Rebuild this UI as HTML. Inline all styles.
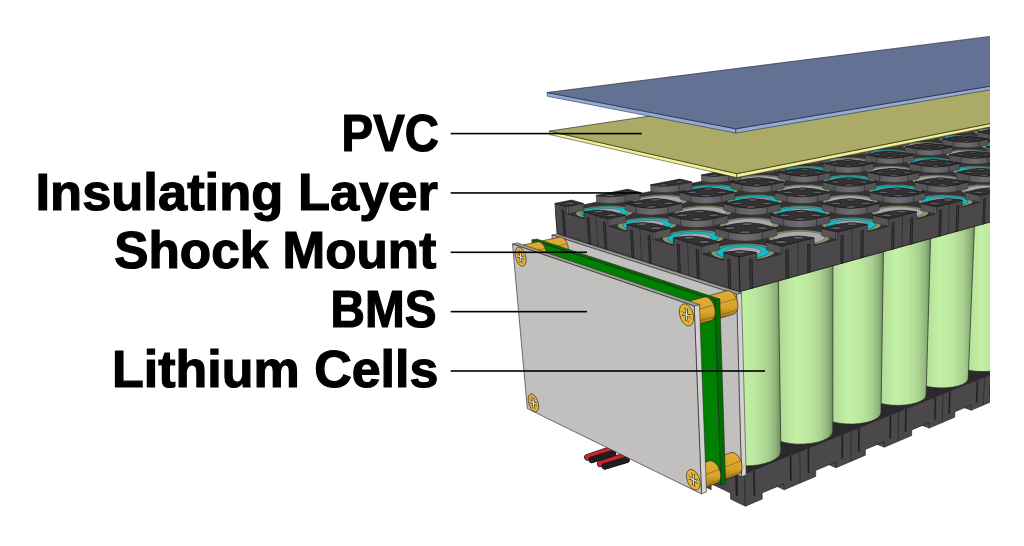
<!DOCTYPE html>
<html lang="en"><head><meta charset="utf-8"><title>Battery pack layers</title>
<style>
html,body{margin:0;padding:0;background:#fff}
#c{position:relative;width:1024px;height:546px;overflow:hidden;background:#fff}
svg{position:absolute;left:0;top:0}
.t{position:absolute;height:60px;line-height:60px;white-space:nowrap;font-family:"Liberation Sans","Noto Sans CJK JP",sans-serif;font-weight:bold;font-size:51.5px;color:#000;-webkit-text-stroke:1.2px #000;transform-origin:100% 50%}
</style></head><body>
<div id="c">
<svg width="1024" height="546" viewBox="0 0 1024 546">
<defs><linearGradient id="cg" x1="0" x2="1" y1="0" y2="0"><stop offset="0" stop-color="#94bb7e"/><stop offset="0.25" stop-color="#b4de9a"/><stop offset="0.45" stop-color="#c3f0a4"/><stop offset="0.65" stop-color="#bbe79f"/><stop offset="0.82" stop-color="#a9d190"/><stop offset="0.93" stop-color="#8db278"/><stop offset="1" stop-color="#6e8c5d"/></linearGradient><linearGradient id="pw" x1="0" x2="1" y1="0" y2="0"><stop offset="0" stop-color="#5c5a5d"/><stop offset="0.5" stop-color="#6f6d70"/><stop offset="1" stop-color="#5c5a5d"/></linearGradient><linearGradient id="br" x1="0" x2="0" y1="0" y2="1"><stop offset="0" stop-color="#e0ad33"/><stop offset="0.55" stop-color="#d8a42c"/><stop offset="0.8" stop-color="#b8871d"/><stop offset="1" stop-color="#8f6913"/></linearGradient><clipPath id="cp"><rect x="0" y="0" width="990" height="546"/></clipPath></defs>
<g clip-path="url(#cp)">
<path d="M744.6,474.2 1213.4,285.2 1043.7,246.3 569.6,394.1Z" fill="#2b292c"/>
<path d="M744.6,474.2 569.6,394.1 571.7,422.5 583.1,428 582.7,422.4 598.3,429.9 598.7,435.5 610.6,441.2 622.8,447.1 622.5,441.4 639.2,449.4 639.6,455.2 652.4,461.4 665.4,467.7 665.1,461.8 683.1,470.3 683.4,476.3 697.2,483 711.2,489.7 711,483.7 730.4,492.9 730.6,499.1 745.4,506.2Z" fill="#4a484b" stroke="#1c1b1d" stroke-width="0.6" stroke-linejoin="round"/>
<path d="M736.2,471.1 736.9,495.7" fill="none" stroke="#1f1e20" stroke-width="2.2"/>
<path d="M703.8,456.2 704.8,480.3" fill="none" stroke="#1f1e20" stroke-width="2.2"/>
<path d="M688.1,449 689.2,472.9" fill="none" stroke="#1f1e20" stroke-width="2.2"/>
<path d="M658.1,435.3 659.3,458.7" fill="none" stroke="#1f1e20" stroke-width="2.2"/>
<path d="M643.5,428.6 644.8,451.7" fill="none" stroke="#1f1e20" stroke-width="2.2"/>
<path d="M615.6,415.8 617,438.5" fill="none" stroke="#1f1e20" stroke-width="2.2"/>
<path d="M602,409.6 603.5,432" fill="none" stroke="#1f1e20" stroke-width="2.2"/>
<path d="M576,397.6 577.6,419.7" fill="none" stroke="#1f1e20" stroke-width="2.2"/>
<path d="M1175.2,323.5 1175.7,318.8 1164.9,316.1 1164.5,320.7Z" fill="#4b494c" stroke="#1c1b1d" stroke-width="0.5" stroke-linejoin="round"/>
<path d="M1146,335.9 1146.4,331.1 1135.6,328.2 1135.2,333Z" fill="#4b494c" stroke="#1c1b1d" stroke-width="0.5" stroke-linejoin="round"/>
<path d="M1115.1,349 1115.5,344.1 1104.5,341.1 1104.1,345.9Z" fill="#4b494c" stroke="#1c1b1d" stroke-width="0.5" stroke-linejoin="round"/>
<path d="M1082.3,362.9 1082.7,358 1071.6,354.7 1071.3,359.7Z" fill="#4b494c" stroke="#1c1b1d" stroke-width="0.5" stroke-linejoin="round"/>
<path d="M1047.6,377.7 1047.9,372.6 1036.8,369.2 1036.4,374.3Z" fill="#4b494c" stroke="#1c1b1d" stroke-width="0.5" stroke-linejoin="round"/>
<path d="M1010.6,393.4 1010.9,388.2 999.7,384.5 999.4,389.8Z" fill="#4b494c" stroke="#1c1b1d" stroke-width="0.5" stroke-linejoin="round"/>
<path d="M971.3,410.2 971.5,404.8 960.2,400.9 960,406.3Z" fill="#4b494c" stroke="#1c1b1d" stroke-width="0.5" stroke-linejoin="round"/>
<path d="M929.2,428.1 929.4,422.5 918,418.3 917.9,423.9Z" fill="#4b494c" stroke="#1c1b1d" stroke-width="0.5" stroke-linejoin="round"/>
<path d="M884.3,447.2 884.3,441.5 872.9,437 872.9,442.7Z" fill="#4b494c" stroke="#1c1b1d" stroke-width="0.5" stroke-linejoin="round"/>
<path d="M836,467.7 836,461.8 824.6,457 824.6,462.9Z" fill="#4b494c" stroke="#1c1b1d" stroke-width="0.5" stroke-linejoin="round"/>
<path d="M784.2,489.8 784.1,483.7 772.7,478.5 772.8,484.6Z" fill="#4b494c" stroke="#1c1b1d" stroke-width="0.5" stroke-linejoin="round"/>
<path d="M744.6,474.2 1213.4,285.2 1210.9,308.3 1202.9,311.7 1203.4,307.2 1192.4,311.8 1192,316.3 1183.6,319.9 1183.6,319.9 1175.2,323.5 1175.7,318.8 1164.1,323.7 1163.7,328.4 1154.9,332.1 1154.9,332.1 1146,335.9 1146.4,331.1 1134.2,336.3 1133.8,341.1 1124.5,345 1124.5,345 1115.1,349 1115.5,344.1 1102.6,349.6 1102.2,354.5 1092.4,358.7 1092.4,358.7 1082.3,362.9 1082.7,358 1069,363.7 1068.7,368.8 1058.2,373.2 1058.2,373.2 1047.6,377.7 1047.9,372.6 1033.4,378.7 1033,383.9 1021.9,388.6 1021.9,388.6 1010.6,393.4 1010.9,388.2 995.4,394.7 995.1,400 983.3,405.1 983.3,405.1 971.3,410.2 971.5,404.8 954.9,411.7 954.7,417.2 942.1,422.6 942.1,422.6 929.2,428.1 929.4,422.5 911.7,429.9 911.6,435.6 898.1,441.3 898.1,441.3 884.3,447.2 884.3,441.5 865.4,449.4 865.3,455.2 850.8,461.4 850.8,461.4 836,467.7 836,461.8 815.7,470.4 815.7,476.4 800.1,483 800.1,483 784.2,489.8 784.1,483.7 762.1,492.9 762.2,499.1 745.4,506.2Z" fill="#4a484b" stroke="#1c1b1d" stroke-width="0.6" stroke-linejoin="round"/>
<path d="M754.2,471.1 754.7,495.7" fill="none" stroke="#1f1e20" stroke-width="2.2"/>
<path d="M755.2,471.4 755.7,495.3" fill="none" stroke="#5a585b" stroke-width="0.6"/>
<path d="M790.9,456.2 791.1,480.4" fill="none" stroke="#1f1e20" stroke-width="2.2"/>
<path d="M791.8,456.5 792.1,480" fill="none" stroke="#5a585b" stroke-width="0.6"/>
<path d="M808.7,449.1 808.8,472.9" fill="none" stroke="#1f1e20" stroke-width="2.2"/>
<path d="M809.6,449.4 809.7,472.5" fill="none" stroke="#5a585b" stroke-width="0.6"/>
<path d="M842.7,435.3 842.6,458.7" fill="none" stroke="#1f1e20" stroke-width="2.2"/>
<path d="M843.6,435.6 843.5,458.3" fill="none" stroke="#5a585b" stroke-width="0.6"/>
<path d="M799.8,452 800.1,483" fill="none" stroke="#262527" stroke-width="0.7"/>
<path d="M859.2,428.6 859,451.8" fill="none" stroke="#1f1e20" stroke-width="2.2"/>
<path d="M860.1,429 859.9,451.4" fill="none" stroke="#5a585b" stroke-width="0.6"/>
<path d="M890.9,415.9 890.5,438.6" fill="none" stroke="#1f1e20" stroke-width="2.2"/>
<path d="M891.7,416.2 891.3,438.2" fill="none" stroke="#5a585b" stroke-width="0.6"/>
<path d="M851,431.3 850.8,461.4" fill="none" stroke="#262527" stroke-width="0.7"/>
<path d="M906.3,409.6 905.8,432.1" fill="none" stroke="#1f1e20" stroke-width="2.2"/>
<path d="M907.1,410 906.6,431.8" fill="none" stroke="#5a585b" stroke-width="0.6"/>
<path d="M935.8,397.7 935.1,419.8" fill="none" stroke="#1f1e20" stroke-width="2.2"/>
<path d="M936.6,398 935.9,419.5" fill="none" stroke="#5a585b" stroke-width="0.6"/>
<path d="M898.6,412.1 898.1,441.3" fill="none" stroke="#262527" stroke-width="0.7"/>
<path d="M950.2,391.9 949.4,413.8" fill="none" stroke="#1f1e20" stroke-width="2.2"/>
<path d="M950.9,392.2 950.2,413.5" fill="none" stroke="#5a585b" stroke-width="0.6"/>
<path d="M977.8,380.8 976.9,402.2" fill="none" stroke="#1f1e20" stroke-width="2.2"/>
<path d="M978.5,381.1 977.6,401.9" fill="none" stroke="#5a585b" stroke-width="0.6"/>
<path d="M943.1,394.2 942.1,422.6" fill="none" stroke="#262527" stroke-width="0.7"/>
<path d="M991.2,375.3 990.2,396.6" fill="none" stroke="#1f1e20" stroke-width="2.2"/>
<path d="M991.9,375.7 990.9,396.3" fill="none" stroke="#5a585b" stroke-width="0.6"/>
<path d="M1017.1,364.9 1015.9,385.8" fill="none" stroke="#1f1e20" stroke-width="2.2"/>
<path d="M1017.7,365.2 1016.6,385.5" fill="none" stroke="#5a585b" stroke-width="0.6"/>
<path d="M984.6,377.4 983.3,405.1" fill="none" stroke="#262527" stroke-width="0.7"/>
<path d="M1029.7,359.8 1028.5,380.5" fill="none" stroke="#1f1e20" stroke-width="2.2"/>
<path d="M1030.3,360.1 1029.2,380.2" fill="none" stroke="#5a585b" stroke-width="0.6"/>
<path d="M1054,350 1052.6,370.3" fill="none" stroke="#1f1e20" stroke-width="2.2"/>
<path d="M1054.6,350.3 1053.3,370.1" fill="none" stroke="#5a585b" stroke-width="0.6"/>
<path d="M1023.5,361.8 1021.9,388.6" fill="none" stroke="#262527" stroke-width="0.7"/>
<path d="M1065.8,345.2 1064.4,365.4" fill="none" stroke="#1f1e20" stroke-width="2.2"/>
<path d="M1066.4,345.5 1065.1,365.1" fill="none" stroke="#5a585b" stroke-width="0.6"/>
<path d="M1088.7,336 1087.2,355.8" fill="none" stroke="#1f1e20" stroke-width="2.2"/>
<path d="M1089.2,336.3 1087.8,355.6" fill="none" stroke="#5a585b" stroke-width="0.6"/>
<path d="M1060,347 1058.2,373.2" fill="none" stroke="#262527" stroke-width="0.7"/>
<path d="M1099.8,331.5 1098.3,351.1" fill="none" stroke="#1f1e20" stroke-width="2.2"/>
<path d="M1100.4,331.8 1098.9,350.9" fill="none" stroke="#5a585b" stroke-width="0.6"/>
<path d="M1121.3,322.8 1119.7,342.1" fill="none" stroke="#1f1e20" stroke-width="2.2"/>
<path d="M1121.8,323.1 1120.3,341.9" fill="none" stroke="#5a585b" stroke-width="0.6"/>
<path d="M1094.3,333.2 1092.4,358.7" fill="none" stroke="#262527" stroke-width="0.7"/>
<path d="M1131.8,318.6 1130.2,337.7" fill="none" stroke="#1f1e20" stroke-width="2.2"/>
<path d="M1132.4,318.9 1130.7,337.5" fill="none" stroke="#5a585b" stroke-width="0.6"/>
<path d="M1152.1,310.4 1150.4,329.2" fill="none" stroke="#1f1e20" stroke-width="2.2"/>
<path d="M1152.6,310.7 1150.9,329" fill="none" stroke="#5a585b" stroke-width="0.6"/>
<path d="M1126.7,320.1 1124.5,345" fill="none" stroke="#262527" stroke-width="0.7"/>
<path d="M1162.1,306.4 1160.3,325" fill="none" stroke="#1f1e20" stroke-width="2.2"/>
<path d="M1162.6,306.7 1160.8,324.8" fill="none" stroke="#5a585b" stroke-width="0.6"/>
<path d="M1181.3,298.6 1179.4,317" fill="none" stroke="#1f1e20" stroke-width="2.2"/>
<path d="M1181.7,298.9 1179.9,316.8" fill="none" stroke="#5a585b" stroke-width="0.6"/>
<path d="M1157.2,307.8 1154.9,332.1" fill="none" stroke="#262527" stroke-width="0.7"/>
<path d="M1190.7,294.8 1188.8,313" fill="none" stroke="#1f1e20" stroke-width="2.2"/>
<path d="M1191.1,295.1 1189.3,312.8" fill="none" stroke="#5a585b" stroke-width="0.6"/>
<path d="M1208.9,287.5 1206.9,305.4" fill="none" stroke="#1f1e20" stroke-width="2.2"/>
<path d="M1209.3,287.8 1207.4,305.2" fill="none" stroke="#5a585b" stroke-width="0.6"/>
<path d="M1186.1,296.2 1183.6,319.9" fill="none" stroke="#262527" stroke-width="0.7"/>
<path d="M586.1,396.3 586.9,398.5 589,400.5 592.3,402.3 596.6,403.7 601.7,404.7 607.6,405.2 613.8,405.3 620.1,404.9 626.2,404 631.9,402.7 636.8,401 640.9,399.1 643.9,396.9 645.6,394.7 646.2,392.4 637.5,232.4 574.5,235.1Z" fill="url(#cg)" stroke="#232a1f" stroke-width="0.7" stroke-linejoin="round"/>
<path d="M626,414 626.8,416.4 628.9,418.6 632.3,420.5 636.7,422.1 642,423.2 648,423.9 654.4,424.1 660.9,423.7 667.2,422.8 673.1,421.5 678.2,419.8 682.4,417.7 685.5,415.5 687.3,413.1 687.9,410.6 680.9,245.5 616,247.9Z" fill="url(#cg)" stroke="#232a1f" stroke-width="0.7" stroke-linejoin="round"/>
<path d="M668.8,433 669.6,435.5 671.7,437.9 675.2,440 679.7,441.8 685.2,443.1 691.3,443.9 697.9,444.2 704.7,443.9 711.2,443.1 717.3,441.7 722.6,439.9 726.9,437.8 730.2,435.4 732.1,432.8 732.7,430.2 727.7,259.6 660.5,261.6Z" fill="url(#cg)" stroke="#232a1f" stroke-width="0.7" stroke-linejoin="round"/>
<path d="M1152.6,283.4 1153,284.8 1154.4,286.2 1156.8,287.6 1160,288.9 1164,290 1168.5,290.9 1173.4,291.6 1178.5,292 1183.5,292.1 1188.2,291.9 1192.3,291.4 1195.8,290.6 1198.4,289.6 1200.1,288.4 1200.8,287.1 1214.6,157.3 1164.5,154.7Z" fill="url(#cg)" stroke="#232a1f" stroke-width="0.7" stroke-linejoin="round"/>
<path d="M1123.8,294.5 1124.2,296 1125.6,297.5 1128,298.9 1131.3,300.2 1135.4,301.4 1140,302.4 1145.1,303 1150.2,303.4 1155.3,303.5 1160.1,303.2 1164.4,302.7 1167.9,301.9 1170.6,300.8 1172.3,299.5 1173,298.1 1186.1,165.1 1134.9,162.6Z" fill="url(#cg)" stroke="#232a1f" stroke-width="0.7" stroke-linejoin="round"/>
<path d="M1093.3,306.2 1093.7,307.8 1095.1,309.4 1097.6,310.9 1101,312.3 1105.2,313.5 1110,314.4 1115.1,315.1 1120.4,315.5 1125.6,315.5 1130.5,315.2 1134.8,314.6 1138.5,313.7 1141.2,312.6 1143,311.2 1143.6,309.7 1156,173.3 1103.5,170.8Z" fill="url(#cg)" stroke="#232a1f" stroke-width="0.7" stroke-linejoin="round"/>
<path d="M1061,318.7 1061.4,320.3 1062.9,322 1065.5,323.5 1069,325 1073.3,326.3 1078.1,327.3 1083.4,327.9 1088.8,328.3 1094.2,328.3 1099.2,327.9 1103.6,327.2 1107.3,326.3 1110.1,325 1111.9,323.5 1112.6,321.9 1124,182 1070.2,179.6Z" fill="url(#cg)" stroke="#232a1f" stroke-width="0.7" stroke-linejoin="round"/>
<path d="M1026.8,331.8 1027.2,333.6 1028.8,335.3 1031.4,337 1035,338.5 1039.4,339.8 1044.4,340.8 1049.8,341.5 1055.4,341.9 1060.9,341.8 1066,341.4 1070.6,340.6 1074.3,339.5 1077.2,338.2 1079,336.6 1079.7,334.9 1090.1,191.2 1034.9,189Z" fill="url(#cg)" stroke="#232a1f" stroke-width="0.7" stroke-linejoin="round"/>
<path d="M990.4,345.8 990.9,347.7 992.6,349.6 995.3,351.3 999,352.9 1003.5,354.3 1008.7,355.3 1014.2,356 1019.9,356.3 1025.5,356.2 1030.8,355.7 1035.5,354.8 1039.4,353.6 1042.3,352.1 1044.1,350.4 1044.8,348.6 1054,201 997.3,199Z" fill="url(#cg)" stroke="#232a1f" stroke-width="0.7" stroke-linejoin="round"/>
<path d="M951.8,360.8 952.3,362.8 954,364.7 956.9,366.6 960.7,368.2 965.3,369.6 970.6,370.7 976.4,371.3 982.2,371.6 988,371.4 993.4,370.8 998.2,369.9 1002.2,368.5 1005.2,366.9 1007,365.1 1007.7,363.2 1015.6,211.4 957.2,209.7Z" fill="url(#cg)" stroke="#232a1f" stroke-width="0.7" stroke-linejoin="round"/>
<path d="M910.7,376.7 911.2,378.9 913,380.9 915.9,382.9 919.9,384.6 924.7,386 930.1,387.1 936,387.7 942.1,387.9 948,387.7 953.6,387 958.5,385.9 962.6,384.4 965.6,382.7 967.5,380.7 968.2,378.6 974.6,222.4 914.3,221.1Z" fill="url(#cg)" stroke="#232a1f" stroke-width="0.7" stroke-linejoin="round"/>
<path d="M866.7,393.8 867.3,396.1 869.1,398.3 872.2,400.3 876.3,402.1 881.3,403.6 886.9,404.7 893,405.3 899.3,405.4 905.4,405 911.1,404.2 916.2,403 920.3,401.3 923.5,399.4 925.4,397.3 926.1,395 930.7,234.2 868.4,233.4Z" fill="url(#cg)" stroke="#232a1f" stroke-width="0.7" stroke-linejoin="round"/>
<path d="M819.6,412.2 820.3,414.6 822.2,416.9 825.4,419.1 829.7,420.9 834.8,422.4 840.7,423.5 847,424 853.5,424.1 859.8,423.6 865.7,422.6 870.9,421.2 875.2,419.4 878.4,417.3 880.4,415 881,412.6 883.5,246.9 819.1,246.6Z" fill="url(#cg)" stroke="#232a1f" stroke-width="0.7" stroke-linejoin="round"/>
<path d="M769.1,431.9 769.8,434.5 771.9,437 775.2,439.2 779.7,441.2 785.1,442.7 791.2,443.7 797.7,444.2 804.4,444.1 810.9,443.5 817,442.4 822.4,440.7 826.8,438.7 830.1,436.4 832.1,433.9 832.8,431.3 832.9,260.4 766,260.9Z" fill="url(#cg)" stroke="#232a1f" stroke-width="0.7" stroke-linejoin="round"/>
<path d="M714.7,453.3 715.5,456 717.7,458.6 721.2,461 725.9,463 731.5,464.5 737.9,465.5 744.7,465.9 751.7,465.7 758.5,464.9 764.8,463.5 770.3,461.7 774.8,459.4 778.2,456.9 780.2,454.2 780.9,451.4 778.3,275 708.6,276.4Z" fill="url(#cg)" stroke="#232a1f" stroke-width="0.7" stroke-linejoin="round"/>
<path d="M739.2,265 555.4,210.3 557.2,233.5 739.9,291.6Z" fill="#454346" stroke="#1c1b1d" stroke-width="0.6" stroke-linejoin="round"/>
<path d="M739.2,265 1229.6,137.5 1227.6,156 739.9,291.6Z" fill="#454346" stroke="#1c1b1d" stroke-width="0.6" stroke-linejoin="round"/>
<path d="M749.4,263.9 750,288.8" fill="none" stroke="#1f1e20" stroke-width="2.0"/>
<path d="M750.5,264.4 751.1,288.5" fill="none" stroke="#5a585b" stroke-width="0.6"/>
<path d="M788.5,253.7 788.8,278" fill="none" stroke="#1f1e20" stroke-width="2.0"/>
<path d="M789.5,254.2 789.8,277.7" fill="none" stroke="#5a585b" stroke-width="0.6"/>
<path d="M807.4,248.8 807.5,272.8" fill="none" stroke="#1f1e20" stroke-width="2.0"/>
<path d="M808.4,249.3 808.5,272.5" fill="none" stroke="#5a585b" stroke-width="0.6"/>
<path d="M843.4,239.4 843.3,262.8" fill="none" stroke="#1f1e20" stroke-width="2.0"/>
<path d="M844.4,239.8 844.3,262.6" fill="none" stroke="#5a585b" stroke-width="0.6"/>
<path d="M860.9,234.8 860.7,258" fill="none" stroke="#1f1e20" stroke-width="2.0"/>
<path d="M861.8,235.3 861.6,257.8" fill="none" stroke="#5a585b" stroke-width="0.6"/>
<path d="M894.3,226.1 893.9,248.8" fill="none" stroke="#1f1e20" stroke-width="2.0"/>
<path d="M895.2,226.6 894.8,248.5" fill="none" stroke="#5a585b" stroke-width="0.6"/>
<path d="M910.5,221.8 910,244.3" fill="none" stroke="#1f1e20" stroke-width="2.0"/>
<path d="M911.4,222.3 910.9,244.1" fill="none" stroke="#5a585b" stroke-width="0.6"/>
<path d="M941.6,213.7 940.9,235.7" fill="none" stroke="#1f1e20" stroke-width="2.0"/>
<path d="M942.3,214.2 941.7,235.5" fill="none" stroke="#5a585b" stroke-width="0.6"/>
<path d="M956.6,209.8 955.9,231.5" fill="none" stroke="#1f1e20" stroke-width="2.0"/>
<path d="M957.4,210.3 956.6,231.3" fill="none" stroke="#5a585b" stroke-width="0.6"/>
<path d="M985.5,202.3 984.6,223.5" fill="none" stroke="#1f1e20" stroke-width="2.0"/>
<path d="M986.3,202.7 985.4,223.3" fill="none" stroke="#5a585b" stroke-width="0.6"/>
<path d="M999.6,198.6 998.6,219.7" fill="none" stroke="#1f1e20" stroke-width="2.0"/>
<path d="M1000.3,199.1 999.3,219.4" fill="none" stroke="#5a585b" stroke-width="0.6"/>
<path d="M1026.6,191.5 1025.4,212.2" fill="none" stroke="#1f1e20" stroke-width="2.0"/>
<path d="M1027.2,192 1026.1,212" fill="none" stroke="#5a585b" stroke-width="0.6"/>
<path d="M1039.7,188.1 1038.5,208.5" fill="none" stroke="#1f1e20" stroke-width="2.0"/>
<path d="M1040.4,188.6 1039.2,208.4" fill="none" stroke="#5a585b" stroke-width="0.6"/>
<path d="M1065,181.5 1063.7,201.6" fill="none" stroke="#1f1e20" stroke-width="2.0"/>
<path d="M1065.6,182 1064.3,201.4" fill="none" stroke="#5a585b" stroke-width="0.6"/>
<path d="M1077.3,178.3 1075.9,198.1" fill="none" stroke="#1f1e20" stroke-width="2.0"/>
<path d="M1077.9,178.8 1076.6,198" fill="none" stroke="#5a585b" stroke-width="0.6"/>
<path d="M1100.9,172.1 1099.5,191.6" fill="none" stroke="#1f1e20" stroke-width="2.0"/>
<path d="M1101.5,172.6 1100.1,191.4" fill="none" stroke="#5a585b" stroke-width="0.6"/>
<path d="M1112.5,169.1 1111,188.4" fill="none" stroke="#1f1e20" stroke-width="2.0"/>
<path d="M1113.1,169.6 1111.6,188.2" fill="none" stroke="#5a585b" stroke-width="0.6"/>
<path d="M1134.7,163.3 1133.2,182.2" fill="none" stroke="#1f1e20" stroke-width="2.0"/>
<path d="M1135.3,163.7 1133.7,182.1" fill="none" stroke="#5a585b" stroke-width="0.6"/>
<path d="M1145.6,160.5 1144,179.2" fill="none" stroke="#1f1e20" stroke-width="2.0"/>
<path d="M1146.1,160.9 1144.5,179" fill="none" stroke="#5a585b" stroke-width="0.6"/>
<path d="M1166.6,155 1164.8,173.4" fill="none" stroke="#1f1e20" stroke-width="2.0"/>
<path d="M1167,155.4 1165.4,173.3" fill="none" stroke="#5a585b" stroke-width="0.6"/>
<path d="M1176.8,152.3 1175.1,170.6" fill="none" stroke="#1f1e20" stroke-width="2.0"/>
<path d="M1177.3,152.8 1175.6,170.4" fill="none" stroke="#5a585b" stroke-width="0.6"/>
<path d="M1196.5,147.2 1194.7,165.1" fill="none" stroke="#1f1e20" stroke-width="2.0"/>
<path d="M1197,147.6 1195.3,164.9" fill="none" stroke="#5a585b" stroke-width="0.6"/>
<path d="M1206.2,144.6 1204.4,162.4" fill="none" stroke="#1f1e20" stroke-width="2.0"/>
<path d="M1206.7,145.1 1204.9,162.3" fill="none" stroke="#5a585b" stroke-width="0.6"/>
<path d="M1224.9,139.8 1223,157.2" fill="none" stroke="#1f1e20" stroke-width="2.0"/>
<path d="M1225.3,140.2 1223.5,157.1" fill="none" stroke="#5a585b" stroke-width="0.6"/>
<path d="M730.3,263.9 731,288.8" fill="none" stroke="#1f1e20" stroke-width="2.0"/>
<path d="M731.3,265 732,289.1" fill="none" stroke="#5a585b" stroke-width="0.6"/>
<path d="M696.2,253.7 697.1,278" fill="none" stroke="#1f1e20" stroke-width="2.0"/>
<path d="M697.1,254.7 698,278.3" fill="none" stroke="#5a585b" stroke-width="0.6"/>
<path d="M679.6,248.7 680.6,272.8" fill="none" stroke="#1f1e20" stroke-width="2.0"/>
<path d="M680.5,249.8 681.5,273.1" fill="none" stroke="#5a585b" stroke-width="0.6"/>
<path d="M648,239.3 649.3,262.8" fill="none" stroke="#1f1e20" stroke-width="2.0"/>
<path d="M648.9,240.3 650.1,263.1" fill="none" stroke="#5a585b" stroke-width="0.6"/>
<path d="M632.8,234.7 634,258" fill="none" stroke="#1f1e20" stroke-width="2.0"/>
<path d="M633.6,235.7 634.8,258.2" fill="none" stroke="#5a585b" stroke-width="0.6"/>
<path d="M603.5,226 605,248.7" fill="none" stroke="#1f1e20" stroke-width="2.0"/>
<path d="M604.3,227 605.7,249" fill="none" stroke="#5a585b" stroke-width="0.6"/>
<path d="M589.3,221.8 590.8,244.2" fill="none" stroke="#1f1e20" stroke-width="2.0"/>
<path d="M590.1,222.7 591.6,244.5" fill="none" stroke="#5a585b" stroke-width="0.6"/>
<path d="M562.2,213.7 563.8,235.6" fill="none" stroke="#1f1e20" stroke-width="2.0"/>
<path d="M562.9,214.6 564.5,235.9" fill="none" stroke="#5a585b" stroke-width="0.6"/>
<path d="M739.2,265 1229.6,137.5 1051.8,111.9 555.4,210.3Z" fill="#343235" stroke="#1c1b1d" stroke-width="0.5" stroke-linejoin="round"/>
<path d="M766.6,245.8 760.3,244.5 753,243.7 744.9,243.4 736.7,243.7 729,244.5 722.1,245.8 716.5,247.5 712.7,249.6 710.9,251.8 711.3,254 713.8,256.1 718.4,257.9 724.8,259.4 732.4,260.3 740.8,260.6 749.4,260.3 757.5,259.4 764.5,258 769.9,256.1 773.5,254 774.9,251.8 774.2,249.6 771.3,247.5ZM716.9,232.1 711,230.8 704,230.1 696.3,229.8 688.4,230.1 680.8,230.8 674,232.1 668.5,233.7 664.6,235.5 662.5,237.6 662.6,239.6 664.8,241.6 669,243.3 674.9,244.6 682.2,245.4 690.2,245.7 698.5,245.4 706.3,244.6 713.3,243.3 718.8,241.6 722.5,239.7 724.1,237.6 723.7,235.5 721.2,233.7ZM670.8,219.3 665.3,218.2 658.7,217.5 651.3,217.2 643.6,217.5 636.2,218.2 629.5,219.3 624,220.8 619.9,222.5 617.8,224.4 617.6,226.3 619.5,228.1 623.3,229.7 628.8,230.9 635.7,231.7 643.4,232 651.4,231.7 659,230.9 665.9,229.7 671.4,228.2 675.2,226.4 677.1,224.4 676.9,222.5 674.8,220.8ZM628,207.4 622.8,206.4 616.5,205.7 609.3,205.5 601.9,205.7 594.7,206.4 588.1,207.4 582.6,208.8 578.5,210.4 576.2,212.2 575.8,214 577.4,215.7 580.9,217.1 586.1,218.2 592.6,219 600,219.2 607.7,219 615.2,218.3 621.9,217.1 627.4,215.7 631.3,214 633.4,212.2 633.4,210.5 631.6,208.8ZM821.2,232.1 815,230.9 807.7,230.1 800,229.8 792.1,230.1 784.8,230.9 778.3,232.1 773.2,233.7 769.9,235.6 768.5,237.6 769.2,239.7 771.9,241.6 776.6,243.3 782.9,244.6 790.4,245.4 798.5,245.7 806.7,245.4 814.3,244.6 820.9,243.3 825.9,241.6 829,239.7 830.1,237.6 829,235.6 826,233.7ZM771.3,219.3 765.5,218.2 758.6,217.5 751.1,217.2 743.6,217.5 736.4,218.2 730,219.3 724.9,220.8 721.4,222.5 719.8,224.4 720.2,226.4 722.6,228.2 726.9,229.7 732.8,230.9 739.9,231.7 747.6,232 755.5,231.7 763,230.9 769.5,229.7 774.5,228.2 777.8,226.4 779.1,224.5 778.4,222.6 775.7,220.8ZM724.9,207.5 719.4,206.4 712.9,205.8 705.7,205.5 698.4,205.7 691.3,206.4 685,207.5 679.9,208.8 676.3,210.5 674.5,212.2 674.7,214 676.8,215.7 680.7,217.1 686.2,218.3 693,219 700.4,219.2 708.1,219 715.4,218.3 721.8,217.1 726.8,215.7 730.2,214 731.7,212.2 731.3,210.5 729,208.8ZM681.7,196.4 676.5,195.4 670.3,194.8 663.4,194.6 656.3,194.8 649.4,195.4 643.2,196.4 638,197.7 634.4,199.2 632.4,200.9 632.3,202.5 634.1,204.1 637.8,205.4 643,206.5 649.4,207.1 656.5,207.4 664,207.1 671.1,206.5 677.4,205.4 682.5,204.1 686,202.5 687.7,200.9 687.5,199.2 685.4,197.7ZM871.8,219.3 865.6,218.2 858.6,217.5 851,217.3 843.5,217.5 836.5,218.2 830.5,219.3 825.8,220.8 822.8,222.6 821.8,224.5 822.7,226.4 825.7,228.2 830.5,229.7 836.7,231 844,231.7 851.9,232 859.7,231.7 866.9,231 873.1,229.8 877.6,228.2 880.4,226.4 881.1,224.5 879.8,222.6 876.6,220.8ZM821.9,207.5 816.1,206.4 809.4,205.8 802.1,205.5 794.8,205.8 788,206.4 782,207.5 777.3,208.9 774.2,210.5 772.9,212.2 773.6,214 776.2,215.7 780.6,217.2 786.4,218.3 793.4,219 800.9,219.2 808.5,219 815.5,218.3 821.6,217.2 826.2,215.7 829.1,214 830.1,212.3 829.2,210.5 826.3,208.9ZM775.4,196.4 769.9,195.4 763.5,194.8 756.5,194.6 749.5,194.8 742.8,195.4 736.8,196.4 732.1,197.7 728.9,199.2 727.4,200.9 727.8,202.5 730.1,204.1 734.1,205.4 739.6,206.5 746.2,207.2 753.5,207.4 760.8,207.2 767.8,206.5 773.8,205.5 778.4,204.1 781.5,202.5 782.7,200.9 782,199.2 779.5,197.7ZM731.9,186.1 726.7,185.2 720.6,184.6 713.9,184.4 707,184.6 700.5,185.2 694.6,186.1 689.9,187.3 686.6,188.7 684.9,190.2 685.1,191.8 687.1,193.3 690.8,194.5 696,195.5 702.3,196.1 709.3,196.3 716.4,196.1 723.2,195.5 729.1,194.5 733.8,193.3 737,191.8 738.3,190.3 737.9,188.7 735.7,187.3ZM918.9,207.5 912.8,206.4 905.8,205.8 898.5,205.6 891.3,205.8 884.7,206.4 879,207.5 874.7,208.9 872.1,210.5 871.3,212.3 872.5,214 875.6,215.7 880.4,217.2 886.6,218.3 893.8,219 901.4,219.3 908.9,219 915.7,218.3 921.5,217.2 925.7,215.7 928.1,214.1 928.5,212.3 927,210.5 923.7,208.9ZM869,196.4 863.3,195.5 856.7,194.8 849.7,194.6 842.7,194.8 836.1,195.5 830.5,196.4 826.2,197.7 823.4,199.2 822.4,200.9 823.3,202.5 826.1,204.1 830.5,205.5 836.3,206.5 843.1,207.2 850.4,207.4 857.7,207.2 864.4,206.5 870.1,205.5 874.4,204.1 877,202.6 877.7,200.9 876.5,199.2 873.5,197.7ZM822.5,186.1 817.1,185.2 810.8,184.6 804,184.4 797.2,184.6 790.8,185.2 785.2,186.1 780.8,187.3 778,188.7 776.8,190.3 777.4,191.8 779.9,193.3 784,194.5 789.4,195.5 795.9,196.1 802.9,196.4 810,196.1 816.6,195.5 822.3,194.5 826.6,193.3 829.3,191.8 830.2,190.3 829.3,188.7 826.7,187.3ZM778.9,176.4 773.8,175.6 767.8,175 761.2,174.8 754.6,175 748.3,175.6 742.8,176.4 738.4,177.6 735.4,178.9 734.1,180.3 734.5,181.8 736.7,183.1 740.5,184.3 745.6,185.2 751.8,185.8 758.6,186 765.4,185.8 771.9,185.3 777.5,184.3 781.8,183.2 784.7,181.8 785.8,180.3 785.1,178.9 782.8,177.6ZM962.7,196.5 956.7,195.5 949.9,194.9 942.8,194.6 935.9,194.9 929.5,195.5 924.2,196.4 920.2,197.7 917.9,199.3 917.4,200.9 918.8,202.6 922,204.1 926.9,205.5 933,206.5 940,207.2 947.4,207.4 954.6,207.2 961.1,206.5 966.5,205.5 970.4,204.1 972.5,202.6 972.7,200.9 971,199.3 967.6,197.7ZM913.1,186.1 907.4,185.2 901,184.6 894.1,184.4 887.4,184.6 881.2,185.2 875.8,186.1 871.8,187.3 869.4,188.7 868.6,190.3 869.7,191.8 872.6,193.3 877.1,194.6 882.9,195.5 889.5,196.2 896.6,196.4 903.6,196.2 910,195.5 915.4,194.6 919.3,193.3 921.6,191.8 922.1,190.3 920.7,188.7 917.6,187.3ZM866.6,176.4 861.3,175.6 855.1,175 848.5,174.9 841.9,175 835.8,175.6 830.6,176.4 826.5,177.6 823.9,178.9 823,180.3 823.8,181.8 826.4,183.2 830.5,184.3 836,185.3 842.3,185.8 849.2,186 856,185.8 862.3,185.3 867.6,184.3 871.6,183.2 874,181.8 874.7,180.3 873.6,178.9 870.8,177.6ZM823,167.4 817.9,166.6 812,166 805.7,165.9 799.3,166 793.3,166.5 788.1,167.4 783.9,168.4 781.3,169.7 780.2,171 780.8,172.4 783.1,173.7 786.9,174.8 792.1,175.6 798.1,176.2 804.7,176.4 811.3,176.2 817.5,175.6 822.8,174.8 826.9,173.7 829.4,172.4 830.2,171 829.4,169.7 826.9,168.4ZM1003.7,186.1 997.8,185.2 991.1,184.6 984.3,184.4 977.6,184.6 971.5,185.2 966.5,186.1 962.8,187.3 960.8,188.8 960.5,190.3 962.1,191.8 965.4,193.3 970.2,194.6 976.3,195.5 983.1,196.2 990.3,196.4 997.2,196.2 1003.5,195.6 1008.5,194.6 1012.1,193.3 1013.9,191.9 1013.9,190.3 1012.1,188.8 1008.6,187.3ZM954.4,176.5 948.8,175.6 942.4,175.1 935.8,174.9 929.3,175.1 923.3,175.6 918.3,176.5 914.6,177.6 912.4,178.9 911.9,180.4 913.2,181.8 916.1,183.2 920.6,184.4 926.4,185.3 932.9,185.9 939.8,186.1 946.5,185.9 952.6,185.3 957.7,184.4 961.3,183.2 963.3,181.8 963.6,180.4 962.1,178.9 958.9,177.6ZM908.1,167.4 902.7,166.6 896.7,166.1 890.3,165.9 883.9,166.1 878.1,166.6 873.1,167.4 869.3,168.4 867,169.7 866.3,171 867.3,172.4 870,173.7 874.2,174.8 879.6,175.6 885.8,176.2 892.5,176.4 899,176.2 905,175.7 910.1,174.8 913.8,173.7 915.9,172.4 916.4,171 915.1,169.7 912.3,168.4ZM864.5,158.8 859.5,158.1 853.7,157.6 847.5,157.4 841.3,157.6 835.5,158.1 830.6,158.8 826.8,159.8 824.3,161 823.5,162.3 824.3,163.6 826.7,164.8 830.6,165.8 835.7,166.6 841.6,167.1 848.1,167.3 854.4,167.1 860.3,166.6 865.4,165.8 869.1,164.8 871.4,163.6 872,162.3 871,161 868.5,159.8ZM1042.1,176.5 1036.3,175.6 1029.8,175.1 1023.1,174.9 1016.6,175.1 1010.8,175.6 1006.1,176.5 1002.7,177.6 1000.9,178.9 1000.8,180.4 1002.5,181.8 1005.9,183.2 1010.7,184.4 1016.7,185.3 1023.4,185.9 1030.4,186.1 1037.1,185.9 1043,185.3 1047.8,184.4 1051.1,183.2 1052.7,181.8 1052.5,180.4 1050.6,178.9 1047,177.6ZM993.1,167.4 987.6,166.6 981.3,166.1 974.9,165.9 968.6,166.1 962.9,166.6 958.1,167.4 954.7,168.4 952.7,169.7 952.4,171 953.9,172.4 956.9,173.7 961.4,174.8 967.1,175.7 973.5,176.2 980.2,176.4 986.7,176.2 992.5,175.7 997.3,174.8 1000.7,173.7 1002.5,172.4 1002.5,171.1 1000.9,169.7 997.7,168.5ZM947,158.8 941.8,158.1 935.8,157.6 929.6,157.4 923.4,157.6 917.8,158.1 913.1,158.8 909.6,159.8 907.5,161 907,162.3 908.2,163.6 911,164.8 915.2,165.8 920.5,166.6 926.6,167.1 933.1,167.3 939.4,167.1 945.2,166.6 949.9,165.8 953.4,164.8 955.3,163.6 955.6,162.3 954.2,161 951.3,159.8ZM903.6,150.8 898.6,150.1 892.9,149.6 886.9,149.5 880.9,149.6 875.4,150.1 870.7,150.8 867.1,151.7 864.9,152.8 864.2,154 865.2,155.3 867.7,156.4 871.6,157.4 876.7,158.1 882.6,158.6 888.8,158.8 895,158.6 900.6,158.1 905.4,157.4 908.9,156.4 910.9,155.3 911.4,154 910.2,152.9 907.6,151.7ZM1078.2,167.4 1072.4,166.6 1066,166.1 1059.5,165.9 1053.3,166.1 1047.7,166.6 1043.2,167.4 1040.1,168.5 1038.5,169.7 1038.6,171.1 1040.4,172.4 1043.9,173.7 1048.7,174.8 1054.6,175.7 1061.2,176.2 1067.9,176.4 1074.4,176.2 1080.1,175.7 1084.6,174.8 1087.7,173.7 1089,172.4 1088.7,171.1 1086.6,169.7 1083,168.5ZM1029.5,158.9 1024,158.1 1018,157.6 1011.7,157.5 1005.6,157.6 1000.1,158.1 995.6,158.9 992.4,159.9 990.6,161 990.5,162.3 992.1,163.6 995.2,164.8 999.8,165.8 1005.3,166.6 1011.6,167.2 1018.1,167.3 1024.4,167.2 1030,166.6 1034.5,165.8 1037.7,164.8 1039.2,163.6 1039.1,162.3 1037.4,161 1034.1,159.9ZM983.7,150.8 978.5,150.1 972.7,149.6 966.6,149.5 960.7,149.6 955.3,150.1 950.8,150.8 947.5,151.7 945.6,152.9 945.3,154.1 946.6,155.3 949.5,156.4 953.7,157.4 959,158.1 965,158.6 971.3,158.8 977.4,158.6 982.9,158.1 987.5,157.4 990.7,156.4 992.4,155.3 992.5,154.1 991,152.9 988,151.8ZM940.5,143.2 935.5,142.5 929.9,142.1 924,142 918.3,142.1 913,142.5 908.5,143.2 905.1,144.1 903.1,145.1 902.7,146.3 903.8,147.4 906.4,148.5 910.3,149.4 915.3,150.1 921.1,150.6 927.2,150.7 933.1,150.6 938.6,150.1 943.1,149.4 946.4,148.5 948.2,147.4 948.5,146.3 947.2,145.2 944.5,144.1ZM1112.1,158.9 1106.3,158.1 1100.1,157.6 1093.8,157.5 1087.7,157.6 1082.4,158.1 1078.1,158.9 1075.2,159.9 1073.8,161 1074.1,162.3 1076,163.6 1079.5,164.8 1084.4,165.8 1090.2,166.7 1096.6,167.2 1103.2,167.3 1109.4,167.2 1114.9,166.7 1119.1,165.8 1122,164.8 1123.2,163.6 1122.7,162.3 1120.5,161 1116.9,159.9ZM1063.9,150.8 1058.4,150.1 1052.5,149.6 1046.3,149.5 1040.4,149.6 1035.2,150.1 1030.9,150.8 1027.9,151.8 1026.4,152.9 1026.4,154.1 1028.1,155.3 1031.3,156.4 1035.8,157.4 1041.3,158.2 1047.5,158.6 1053.8,158.8 1059.9,158.6 1065.2,158.2 1069.5,157.4 1072.5,156.4 1073.8,155.3 1073.6,154.1 1071.7,152.9 1068.4,151.8ZM1018.4,143.2 1013.2,142.5 1007.5,142.1 1001.5,142 995.8,142.1 990.6,142.5 986.4,143.2 983.3,144.1 981.6,145.2 981.5,146.3 982.9,147.4 985.8,148.5 990,149.4 995.3,150.1 1001.2,150.6 1007.3,150.8 1013.2,150.6 1018.5,150.2 1022.8,149.4 1025.8,148.5 1027.3,147.4 1027.3,146.3 1025.7,145.2 1022.6,144.1ZM975.4,136.1 970.5,135.4 964.9,135 959.2,134.9 953.6,135 948.5,135.4 944.2,136 941.1,136.9 939.3,137.9 939,138.9 940.2,140 942.9,141 946.8,141.9 951.8,142.6 957.5,143 963.4,143.2 969.2,143 974.4,142.6 978.7,141.9 981.8,141 983.4,140 983.5,139 982.1,137.9 979.4,136.9ZM1144,150.8 1138.4,150.1 1132.2,149.7 1126.1,149.5 1120.2,149.7 1115.1,150.1 1111.1,150.8 1108.3,151.8 1107.1,152.9 1107.5,154.1 1109.6,155.3 1113.1,156.4 1117.9,157.4 1123.6,158.2 1129.9,158.6 1136.3,158.8 1142.3,158.6 1147.6,158.2 1151.6,157.4 1154.3,156.4 1155.3,155.3 1154.7,154.1 1152.5,152.9 1148.8,151.8ZM1096.3,143.2 1090.9,142.6 1085,142.1 1079.1,142 1073.4,142.1 1068.3,142.6 1064.2,143.2 1061.4,144.1 1060,145.2 1060.3,146.3 1062,147.4 1065.3,148.5 1069.8,149.4 1075.2,150.2 1081.2,150.6 1087.4,150.8 1093.3,150.6 1098.4,150.2 1102.5,149.4 1105.3,148.5 1106.5,147.4 1106.1,146.3 1104.1,145.2 1100.8,144.1ZM1051.1,136.1 1046,135.4 1040.4,135 1034.6,134.9 1029,135 1024,135.4 1020,136.1 1017.1,136.9 1015.6,137.9 1015.6,139 1017.1,140 1020.1,141 1024.3,141.9 1029.5,142.6 1035.3,143 1041.3,143.2 1047,143 1052.1,142.6 1056.2,141.9 1059,141.1 1060.3,140 1060.1,139 1058.4,137.9 1055.4,136.9ZM1008.4,129.3 1003.5,128.7 998.1,128.3 992.5,128.1 987.1,128.3 982.1,128.7 978.1,129.3 975.1,130.1 973.5,131 973.4,132 974.7,133 977.4,134 981.4,134.8 986.3,135.5 991.9,135.9 997.6,136 1003.2,135.9 1008.3,135.5 1012.4,134.8 1015.2,134 1016.7,133 1016.7,132 1015.2,131 1012.4,130.1ZM1174.1,143.2 1168.6,142.6 1162.6,142.1 1156.6,142 1150.9,142.1 1146,142.6 1142.1,143.2 1139.6,144.1 1138.5,145.2 1139,146.3 1141.2,147.5 1144.7,148.5 1149.5,149.5 1155.1,150.2 1161.3,150.6 1167.5,150.8 1173.4,150.6 1178.4,150.2 1182.3,149.5 1184.7,148.5 1185.6,147.5 1184.9,146.3 1182.6,145.2 1178.9,144.1ZM1126.9,136.1 1121.6,135.4 1115.8,135 1110,134.9 1104.5,135 1099.6,135.4 1095.7,136.1 1093.1,136.9 1091.9,137.9 1092.2,139 1094.1,140 1097.3,141.1 1101.8,141.9 1107.2,142.6 1113.1,143 1119.1,143.2 1124.8,143 1129.8,142.6 1133.7,141.9 1136.2,141.1 1137.3,140.1 1136.8,139 1134.7,137.9 1131.4,136.9ZM1082.1,129.3 1077.1,128.7 1071.5,128.3 1065.9,128.2 1060.5,128.3 1055.7,128.7 1051.8,129.3 1049.1,130.1 1047.8,131 1047.9,132 1049.5,133 1052.5,134 1056.7,134.8 1061.9,135.5 1067.5,135.9 1073.4,136 1078.9,135.9 1083.8,135.5 1087.7,134.8 1090.4,134 1091.6,133 1091.2,132 1089.5,131 1086.3,130.1ZM1039.7,122.8 1034.9,122.3 1029.6,121.9 1024.1,121.8 1018.8,121.9 1014,122.3 1010.2,122.8 1007.4,123.6 1005.9,124.5 1005.9,125.4 1007.3,126.4 1010.1,127.3 1014.1,128.1 1018.9,128.7 1024.4,129.1 1030.1,129.2 1035.5,129.1 1040.3,128.7 1044.2,128.1 1046.9,127.3 1048.3,126.4 1048.1,125.4 1046.6,124.5 1043.7,123.6ZM1202.6,136.1 1197.1,135.4 1191.3,135 1185.4,134.9 1179.9,135 1175.2,135.4 1171.5,136.1 1169.1,136.9 1168.2,137.9 1168.8,139 1171,140.1 1174.6,141.1 1179.3,141.9 1184.9,142.6 1190.9,143.1 1197,143.2 1202.6,143.1 1207.5,142.6 1211.2,141.9 1213.5,141.1 1214.2,140.1 1213.4,139 1211,137.9 1207.4,136.9ZM1155.8,129.3 1150.6,128.7 1145,128.3 1139.3,128.2 1133.9,128.3 1129.2,128.7 1125.5,129.3 1123.1,130.1 1122,131 1122.4,132 1124.4,133 1127.7,134 1132.1,134.8 1137.4,135.5 1143.2,135.9 1149.1,136 1154.6,135.9 1159.4,135.5 1163.1,134.8 1165.5,134 1166.4,133.1 1165.8,132 1163.7,131 1160.3,130.1ZM1111.5,122.8 1106.5,122.3 1101.1,121.9 1095.6,121.8 1090.3,121.9 1085.7,122.3 1082,122.8 1079.4,123.6 1078.2,124.5 1078.5,125.4 1080.2,126.4 1083.3,127.3 1087.4,128.1 1092.5,128.7 1098.1,129.1 1103.8,129.2 1109.2,129.1 1113.9,128.7 1117.6,128.1 1120.1,127.3 1121.1,126.4 1120.7,125.4 1118.9,124.5 1115.7,123.6ZM1069.4,116.7 1064.6,116.2 1059.4,115.8 1054.1,115.7 1048.9,115.8 1044.3,116.2 1040.6,116.7 1038,117.4 1036.7,118.3 1036.8,119.2 1038.3,120.1 1041.1,121 1045.1,121.7 1049.9,122.3 1055.3,122.7 1060.8,122.8 1066.1,122.7 1070.7,122.3 1074.5,121.7 1077,121 1078.2,120.1 1077.9,119.2 1076.3,118.3 1073.4,117.4Z" fill="#819b6c" stroke="#2c3327" stroke-width="0.5" stroke-linejoin="round"/>
<path d="M762.6,246.8 757.4,245.7 751.3,245.1 744.6,244.8 737.8,245 731.3,245.7 725.6,246.8 721,248.3 717.9,249.9 716.4,251.8 716.8,253.6 718.9,255.4 722.7,256.9 728,258 734.3,258.8 741.2,259 748.2,258.8 754.9,258 760.7,256.9 765.2,255.4 768.2,253.6 769.4,251.8 768.8,250 766.5,248.3ZM712.9,233 708,232 702.2,231.4 695.8,231.1 689.3,231.4 683,232 677.3,233 672.7,234.3 669.5,235.9 667.9,237.6 668,239.3 669.8,240.9 673.3,242.3 678.2,243.4 684.1,244 690.8,244.3 697.6,244 704,243.4 709.8,242.3 714.3,240.9 717.4,239.3 718.8,237.6 718.5,235.9 716.5,234.3ZM666.8,220.2 662.3,219.2 656.8,218.7 650.6,218.4 644.3,218.6 638.1,219.2 632.6,220.2 628,221.4 624.7,222.9 622.9,224.4 622.8,226 624.3,227.5 627.5,228.8 632.1,229.8 637.8,230.4 644.1,230.6 650.7,230.4 657,229.8 662.6,228.8 667.2,227.5 670.4,226 671.9,224.4 671.8,222.9 670.1,221.4ZM624,208.3 619.7,207.4 614.5,206.8 608.6,206.7 602.4,206.8 596.4,207.4 590.9,208.3 586.4,209.4 583,210.8 581.1,212.2 580.8,213.7 582.1,215.1 585.1,216.3 589.4,217.2 594.7,217.8 600.8,218 607.2,217.8 613.4,217.2 618.9,216.3 623.5,215.1 626.7,213.7 628.4,212.2 628.5,210.8 627,209.4ZM868.3,220.2 863.2,219.3 857.3,218.7 851.1,218.5 844.9,218.7 839.1,219.3 834.1,220.2 830.2,221.4 827.8,222.9 826.9,224.5 827.7,226 830.2,227.5 834.1,228.8 839.3,229.8 845.3,230.4 851.8,230.7 858.3,230.5 864.2,229.8 869.3,228.8 873.1,227.5 875.3,226.1 876,224.5 874.9,222.9 872.3,221.5ZM818.4,208.3 813.6,207.4 808,206.9 802,206.7 796,206.9 790.3,207.4 785.3,208.3 781.5,209.4 778.9,210.8 777.9,212.2 778.4,213.7 780.6,215.1 784.2,216.3 789.1,217.2 794.8,217.8 801,218 807.3,217.8 813.1,217.2 818.1,216.3 821.9,215.1 824.3,213.7 825.2,212.3 824.4,210.8 822.1,209.4ZM771.9,197.2 767.4,196.4 762.1,195.9 756.3,195.7 750.4,195.9 744.8,196.4 739.9,197.2 736,198.3 733.4,199.5 732.2,200.9 732.5,202.2 734.5,203.5 737.8,204.6 742.3,205.5 747.8,206.1 753.8,206.2 759.8,206.1 765.5,205.5 770.5,204.7 774.4,203.5 776.9,202.2 777.9,200.9 777.3,199.5 775.3,198.3ZM728.4,186.8 724.2,186 719.1,185.6 713.5,185.4 707.8,185.6 702.4,186 697.5,186.8 693.6,187.8 690.9,189 689.5,190.2 689.7,191.5 691.4,192.7 694.5,193.8 698.8,194.6 704,195.1 709.7,195.3 715.6,195.1 721.2,194.6 726.1,193.8 730,192.7 732.6,191.5 733.7,190.3 733.4,189 731.6,187.8ZM959.7,197.2 954.7,196.4 949.1,195.9 943.2,195.7 937.5,195.9 932.2,196.4 927.8,197.2 924.5,198.3 922.6,199.5 922.2,200.9 923.4,202.3 926.1,203.6 930.1,204.7 935.1,205.5 940.9,206.1 947,206.3 952.9,206.1 958.3,205.5 962.8,204.7 966,203.6 967.7,202.3 967.9,200.9 966.6,199.5 963.8,198.3ZM910.1,186.8 905.4,186.1 900,185.6 894.3,185.4 888.7,185.6 883.6,186.1 879.2,186.8 875.9,187.8 873.8,189 873.3,190.3 874.2,191.6 876.6,192.8 880.3,193.8 885,194.6 890.5,195.1 896.4,195.3 902.2,195.1 907.4,194.6 911.9,193.8 915.1,192.8 917,191.6 917.4,190.3 916.3,189 913.8,187.8ZM863.6,177.1 859.1,176.4 854,175.9 848.6,175.8 843.1,175.9 838,176.4 833.7,177.1 830.3,178 828.2,179.1 827.4,180.3 828.2,181.5 830.3,182.7 833.7,183.6 838.2,184.4 843.5,184.9 849.1,185 854.7,184.9 859.9,184.4 864.3,183.6 867.6,182.7 869.6,181.5 870.2,180.3 869.3,179.2 867.1,178.1ZM820,168 815.8,167.3 810.9,166.9 805.6,166.7 800.3,166.9 795.3,167.3 791,168 787.6,168.9 785.4,169.9 784.5,171 785,172.1 786.9,173.2 790.1,174.1 794.4,174.8 799.4,175.3 804.8,175.4 810.3,175.3 815.4,174.8 819.7,174.1 823.1,173.2 825.2,172.2 825.9,171 825.2,169.9 823.2,168.9ZM1039.5,177.1 1034.6,176.4 1029.2,176 1023.7,175.8 1018.3,176 1013.5,176.4 1009.6,177.1 1006.8,178.1 1005.3,179.2 1005.3,180.4 1006.7,181.6 1009.5,182.7 1013.5,183.7 1018.5,184.4 1024,184.9 1029.7,185.1 1035.2,184.9 1040.1,184.4 1044.1,183.7 1046.8,182.7 1048.2,181.6 1048,180.4 1046.4,179.2 1043.5,178.1ZM990.4,168 985.8,167.3 980.7,166.9 975.3,166.8 970.1,166.9 965.4,167.3 961.5,168 958.6,168.9 957,169.9 956.8,171 958,172.2 960.5,173.2 964.2,174.1 968.9,174.9 974.2,175.3 979.7,175.5 985.1,175.3 989.9,174.9 993.9,174.2 996.7,173.2 998.1,172.2 998.2,171.1 996.9,169.9 994.2,168.9ZM944.3,159.4 940,158.8 935,158.4 929.9,158.3 924.8,158.4 920.1,158.8 916.2,159.4 913.3,160.3 911.6,161.2 911.2,162.3 912.2,163.3 914.5,164.3 918,165.2 922.4,165.9 927.4,166.3 932.8,166.4 938,166.3 942.7,165.9 946.7,165.2 949.6,164.3 951.1,163.4 951.4,162.3 950.3,161.2 947.8,160.3ZM900.9,151.4 896.8,150.8 892,150.4 887,150.3 882.1,150.4 877.5,150.8 873.6,151.4 870.6,152.1 868.8,153.1 868.3,154 869.1,155 871.2,156 874.5,156.8 878.6,157.4 883.5,157.8 888.6,157.9 893.7,157.8 898.4,157.4 902.3,156.8 905.2,156 906.9,155 907.3,154 906.4,153.1 904.2,152.1ZM1109.7,159.5 1105,158.8 1099.8,158.4 1094.6,158.3 1089.6,158.4 1085.1,158.8 1081.6,159.5 1079.2,160.3 1078.1,161.3 1078.3,162.3 1079.9,163.4 1082.8,164.4 1086.8,165.2 1091.6,165.9 1096.9,166.3 1102.3,166.5 1107.5,166.3 1112,165.9 1115.5,165.2 1117.9,164.4 1118.9,163.4 1118.5,162.3 1116.7,161.3 1113.7,160.3ZM1061.5,151.4 1057,150.8 1052,150.4 1047,150.3 1042.1,150.4 1037.7,150.8 1034.2,151.4 1031.7,152.2 1030.4,153.1 1030.5,154.1 1031.9,155.1 1034.5,156 1038.3,156.8 1042.8,157.4 1047.9,157.8 1053.1,158 1058.1,157.8 1062.6,157.4 1066.1,156.8 1068.6,156 1069.7,155.1 1069.5,154.1 1068,153.1 1065.2,152.2ZM1016,143.8 1011.7,143.2 1006.9,142.8 1002,142.7 997.3,142.8 993,143.2 989.4,143.7 986.9,144.5 985.5,145.4 985.4,146.3 986.6,147.2 989,148.1 992.5,148.9 996.9,149.5 1001.7,149.8 1006.8,150 1011.7,149.8 1016,149.5 1019.6,148.9 1022.1,148.1 1023.4,147.2 1023.3,146.3 1022,145.4 1019.5,144.5ZM973,136.5 968.9,136 964.3,135.7 959.6,135.6 954.9,135.7 950.7,136 947.1,136.5 944.6,137.2 943.1,138.1 942.8,138.9 943.9,139.8 946.1,140.7 949.4,141.4 953.5,142 958.1,142.3 963,142.4 967.8,142.3 972.1,142 975.7,141.4 978.2,140.7 979.6,139.8 979.7,139 978.6,138.1 976.3,137.2ZM1172.1,143.8 1167.4,143.2 1162.5,142.9 1157.5,142.7 1152.8,142.9 1148.7,143.2 1145.5,143.8 1143.4,144.5 1142.5,145.4 1143,146.3 1144.8,147.3 1147.7,148.1 1151.7,148.9 1156.3,149.5 1161.4,149.9 1166.6,150 1171.4,149.9 1175.5,149.5 1178.7,148.9 1180.8,148.1 1181.5,147.3 1180.9,146.3 1179,145.4 1176,144.5ZM1124.7,136.6 1120.4,136 1115.6,135.7 1110.8,135.6 1106.2,135.7 1102.1,136 1098.9,136.6 1096.8,137.3 1095.8,138.1 1096.1,139 1097.6,139.9 1100.3,140.7 1104,141.4 1108.5,142 1113.3,142.3 1118.3,142.4 1123,142.3 1127.1,142 1130.3,141.4 1132.4,140.7 1133.3,139.9 1132.9,139 1131.2,138.1 1128.5,137.3ZM1080,129.7 1075.8,129.2 1071.2,128.9 1066.5,128.8 1062,128.9 1058.1,129.2 1054.8,129.7 1052.6,130.4 1051.5,131.2 1051.6,132 1053,132.9 1055.5,133.7 1059,134.3 1063.2,134.9 1067.9,135.2 1072.7,135.3 1077.3,135.2 1081.3,134.9 1084.6,134.3 1086.8,133.7 1087.7,132.9 1087.5,132 1086,131.2 1083.5,130.4ZM1037.5,123.3 1033.5,122.8 1029.1,122.5 1024.6,122.4 1020.2,122.5 1016.3,122.8 1013,123.3 1010.8,123.9 1009.6,124.6 1009.6,125.4 1010.7,126.2 1013,127 1016.3,127.6 1020.4,128.1 1024.9,128.4 1029.5,128.6 1034,128.5 1038,128.1 1041.2,127.6 1043.5,127 1044.6,126.2 1044.5,125.4 1043.2,124.6 1040.8,123.9Z" fill="#14bcc8" stroke="#0a5f68" stroke-width="0.6" stroke-linejoin="round"/>
<path d="M756.5,248.4 752.1,247.5 746.9,247 741.2,247 735.8,247.5 731,248.4 727.3,249.6 725.2,251 724.7,252.5 726.1,254 729.1,255.3 733.5,256.2 738.9,256.7 744.6,256.7 750.2,256.2 755.1,255.3 758.7,254 760.7,252.5 761,251 759.5,249.6ZM706.8,234.4 702.7,233.6 697.7,233.2 692.3,233.2 687,233.6 682.3,234.4 678.6,235.5 676.4,236.9 675.8,238.3 676.9,239.6 679.6,240.8 683.7,241.6 688.8,242.1 694.4,242.1 699.8,241.6 704.6,240.8 708.2,239.6 710.4,238.3 710.8,236.9 709.6,235.6ZM660.8,221.5 657,220.7 652.2,220.4 647,220.4 641.8,220.7 637.2,221.5 633.5,222.5 631.2,223.8 630.4,225.1 631.3,226.3 633.8,227.4 637.7,228.2 642.5,228.6 647.8,228.6 653.1,228.2 657.8,227.4 661.5,226.3 663.7,225.1 664.4,223.8 663.3,222.5ZM618,209.5 614.4,208.8 609.9,208.4 604.8,208.4 599.8,208.8 595.2,209.5 591.6,210.5 589.2,211.6 588.3,212.8 589,214 591.3,215 594.9,215.7 599.5,216.1 604.7,216.1 609.8,215.7 614.4,215 618.1,214 620.4,212.8 621.2,211.6 620.4,210.5ZM817.4,233 812.3,232 806.3,231.4 799.8,231.2 793.3,231.4 787.2,232 781.9,233 777.7,234.3 774.9,235.9 773.8,237.6 774.4,239.3 776.7,240.9 780.6,242.3 785.8,243.4 792,244.1 798.7,244.3 805.4,244.1 811.7,243.4 817.1,242.3 821.2,240.9 823.8,239.3 824.7,237.6 823.9,235.9 821.4,234.4ZM767.6,220.2 762.7,219.3 757,218.7 750.8,218.5 744.6,218.7 738.6,219.3 733.3,220.2 729.1,221.4 726.2,222.9 724.9,224.4 725.2,226 727.3,227.5 730.8,228.8 735.7,229.8 741.5,230.4 747.9,230.6 754.5,230.4 760.6,229.8 766,228.8 770.1,227.5 772.9,226 774,224.5 773.4,222.9 771.2,221.4ZM721.2,208.3 716.7,207.4 711.2,206.9 705.3,206.7 699.2,206.9 693.3,207.4 688.1,208.3 683.9,209.4 681,210.8 679.5,212.2 679.6,213.7 681.4,215.1 684.6,216.3 689.2,217.2 694.8,217.8 700.9,218 707.2,217.8 713.2,217.2 718.5,216.3 722.7,215.1 725.5,213.7 726.8,212.2 726.5,210.8 724.5,209.4ZM678,197.2 673.7,196.4 668.5,195.8 662.8,195.7 656.9,195.8 651.2,196.3 646,197.2 641.8,198.2 638.8,199.5 637.2,200.9 637.1,202.2 638.7,203.5 641.7,204.6 646,205.5 651.3,206 657.2,206.2 663.3,206 669.1,205.5 674.4,204.6 678.6,203.5 681.5,202.2 682.9,200.9 682.7,199.5 681.1,198.2ZM863.1,221.5 858.8,220.8 853.8,220.4 848.6,220.4 843.7,220.8 839.5,221.5 836.4,222.6 834.8,223.8 834.8,225.1 836.5,226.4 839.6,227.4 843.9,228.2 849,228.6 854.4,228.6 859.4,228.2 863.6,227.4 866.7,226.4 868.2,225.1 868,223.8 866.3,222.6ZM813.2,209.5 809.1,208.8 804.4,208.5 799.4,208.5 794.5,208.8 790.4,209.5 787.3,210.5 785.6,211.6 785.4,212.9 786.8,214 789.7,215 793.8,215.7 798.6,216.1 803.7,216.1 808.7,215.8 812.9,215 815.9,214 817.5,212.9 817.6,211.6 816.1,210.5ZM766.6,198.3 762.8,197.7 758.3,197.3 753.5,197.3 748.7,197.7 744.6,198.3 741.5,199.2 739.7,200.3 739.4,201.4 740.6,202.5 743.2,203.5 747.1,204.1 751.7,204.5 756.7,204.5 761.5,204.1 765.6,203.5 768.7,202.5 770.4,201.4 770.6,200.3 769.3,199.2ZM723.2,187.9 719.6,187.3 715.3,186.9 710.6,186.9 706,187.3 701.9,187.9 698.8,188.7 696.9,189.7 696.4,190.8 697.5,191.8 699.9,192.7 703.5,193.3 707.9,193.6 712.7,193.6 717.4,193.3 721.5,192.7 724.6,191.8 726.4,190.8 726.8,189.7 725.7,188.7ZM915.6,208.3 910.6,207.4 904.8,206.9 898.8,206.7 892.8,206.9 887.3,207.4 882.6,208.3 879,209.5 876.9,210.8 876.3,212.3 877.3,213.7 879.8,215.1 883.8,216.3 888.9,217.2 894.8,217.8 901.1,218 907.3,217.8 913,217.2 917.7,216.3 921.2,215.1 923.2,213.7 923.6,212.3 922.4,210.8 919.7,209.5ZM865.8,197.2 861,196.4 855.6,195.9 849.7,195.7 843.9,195.9 838.5,196.4 833.9,197.2 830.3,198.3 828,199.5 827.2,200.9 828,202.3 830.2,203.5 833.9,204.7 838.7,205.5 844.3,206.1 850.4,206.3 856.4,206.1 861.9,205.5 866.6,204.7 870.2,203.6 872.3,202.3 872.9,200.9 871.9,199.5 869.5,198.3ZM819.2,186.8 814.8,186.1 809.5,185.6 803.9,185.4 798.3,185.6 793,186 788.4,186.8 784.7,187.8 782.4,189 781.4,190.3 781.9,191.5 784,192.8 787.4,193.8 791.9,194.6 797.2,195.1 803,195.3 808.9,195.1 814.3,194.6 819,193.8 822.5,192.8 824.8,191.6 825.6,190.3 824.9,189 822.7,187.8ZM775.6,177.1 771.4,176.4 766.4,175.9 761,175.8 755.5,175.9 750.3,176.4 745.7,177.1 742.1,178 739.6,179.1 738.5,180.3 738.9,181.5 740.7,182.7 743.9,183.6 748.1,184.4 753.2,184.9 758.8,185 764.5,184.9 769.8,184.4 774.4,183.6 778,182.7 780.4,181.5 781.3,180.3 780.8,179.1 778.8,178ZM955.2,198.4 951,197.7 946.2,197.4 941.4,197.4 936.9,197.7 933.2,198.4 930.6,199.3 929.4,200.3 929.7,201.5 931.6,202.6 934.8,203.5 939,204.2 943.9,204.5 948.8,204.5 953.4,204.2 957.2,203.5 959.7,202.6 960.8,201.5 960.3,200.3 958.4,199.3ZM905.5,187.9 901.5,187.3 897,187 892.3,187 887.9,187.3 884.2,187.9 881.6,188.7 880.3,189.7 880.4,190.8 882.1,191.8 885,192.7 889,193.3 893.7,193.7 898.4,193.7 902.9,193.3 906.7,192.7 909.2,191.8 910.5,190.8 910.2,189.8 908.5,188.8ZM859,178.1 855.3,177.5 850.9,177.2 846.4,177.2 842.1,177.5 838.4,178.1 835.7,178.9 834.3,179.8 834.3,180.8 835.8,181.8 838.5,182.6 842.3,183.2 846.7,183.5 851.3,183.5 855.7,183.2 859.4,182.6 862.1,181.8 863.4,180.8 863.3,179.8 861.8,178.9ZM815.4,168.9 811.8,168.4 807.7,168.1 803.3,168.1 799,168.4 795.4,168.9 792.7,169.7 791.2,170.6 791.1,171.5 792.4,172.4 794.9,173.1 798.5,173.7 802.7,174 807.2,174 811.5,173.7 815.1,173.1 817.8,172.4 819.2,171.5 819.3,170.6 817.9,169.7ZM1000.9,186.8 996,186.1 990.5,185.6 984.8,185.4 979.2,185.6 974.2,186.1 970,186.8 967,187.8 965.3,189 965.1,190.3 966.4,191.6 969.2,192.8 973.2,193.8 978.2,194.6 983.9,195.1 989.7,195.3 995.5,195.1 1000.6,194.6 1004.8,193.8 1007.8,192.8 1009.3,191.6 1009.3,190.3 1007.8,189 1005,187.8ZM951.5,177.1 946.9,176.4 941.6,176 936.1,175.8 930.7,176 925.8,176.4 921.6,177.1 918.5,178.1 916.7,179.2 916.4,180.4 917.4,181.6 919.9,182.7 923.6,183.7 928.3,184.4 933.7,184.9 939.4,185.1 945,184.9 950,184.4 954.2,183.7 957.2,182.7 958.9,181.6 959.1,180.4 957.9,179.2 955.3,178.1ZM905.2,168 900.8,167.3 895.8,166.9 890.5,166.8 885.2,166.9 880.3,167.3 876.2,168 873.1,168.9 871.2,169.9 870.6,171 871.5,172.2 873.7,173.2 877.2,174.1 881.6,174.8 886.8,175.3 892.3,175.4 897.7,175.3 902.6,174.8 906.8,174.1 909.9,173.2 911.7,172.2 912.1,171 911,169.9 908.7,168.9ZM861.6,159.4 857.5,158.8 852.7,158.4 847.5,158.3 842.4,158.4 837.6,158.8 833.5,159.4 830.4,160.2 828.4,161.2 827.7,162.3 828.3,163.3 830.4,164.3 833.6,165.2 837.8,165.9 842.7,166.3 848,166.4 853.3,166.3 858.1,165.9 862.3,165.2 865.4,164.3 867.3,163.3 867.8,162.3 867,161.2 864.9,160.3ZM1035.5,178.1 1031.4,177.6 1026.9,177.3 1022.4,177.3 1018.2,177.6 1014.9,178.1 1012.7,178.9 1011.9,179.9 1012.5,180.9 1014.5,181.8 1017.7,182.6 1021.8,183.2 1026.4,183.5 1031,183.5 1035.2,183.2 1038.6,182.6 1040.7,181.8 1041.5,180.9 1040.8,179.9 1038.7,178.9ZM986.4,169 982.6,168.4 978.2,168.1 973.8,168.1 969.8,168.4 966.4,169 964.2,169.7 963.2,170.6 963.7,171.5 965.4,172.4 968.4,173.2 972.3,173.7 976.7,174 981.2,174 985.4,173.7 988.7,173.2 990.9,172.4 991.8,171.5 991.3,170.6 989.4,169.7ZM940.3,160.3 936.6,159.8 932.5,159.5 928.2,159.5 924.2,159.8 920.9,160.3 918.6,161 917.5,161.8 917.8,162.7 919.4,163.6 922.2,164.3 925.9,164.8 930.1,165.1 934.5,165.1 938.5,164.8 941.8,164.3 944.1,163.6 945.1,162.7 944.7,161.9 943.1,161ZM896.8,152.2 893.4,151.7 889.3,151.5 885.2,151.5 881.3,151.7 878,152.2 875.7,152.9 874.5,153.6 874.7,154.5 876.1,155.2 878.7,155.9 882.2,156.4 886.2,156.7 890.5,156.7 894.4,156.4 897.7,155.9 900,155.3 901.1,154.5 900.9,153.6 899.4,152.9ZM1075.7,168 1070.9,167.4 1065.6,166.9 1060.2,166.8 1055,166.9 1050.4,167.3 1046.7,168 1044.1,168.9 1042.8,169.9 1042.9,171.1 1044.5,172.2 1047.3,173.2 1051.3,174.2 1056.2,174.9 1061.6,175.3 1067.2,175.5 1072.5,175.3 1077.2,174.9 1080.9,174.2 1083.5,173.2 1084.6,172.2 1084.4,171.1 1082.7,169.9 1079.7,168.9ZM1027,159.4 1022.5,158.8 1017.4,158.4 1012.2,158.3 1007.2,158.4 1002.6,158.8 998.9,159.4 996.2,160.3 994.8,161.2 994.7,162.3 996,163.4 998.7,164.4 1002.4,165.2 1007,165.9 1012.2,166.3 1017.5,166.4 1022.7,166.3 1027.4,165.9 1031.1,165.2 1033.7,164.4 1035,163.4 1034.9,162.3 1033.5,161.3 1030.8,160.3ZM981.2,151.4 976.9,150.8 972,150.4 967,150.3 962.1,150.4 957.6,150.8 953.9,151.4 951.2,152.1 949.6,153.1 949.4,154.1 950.5,155.1 952.9,156 956.4,156.8 960.7,157.4 965.7,157.8 970.9,158 975.9,157.8 980.5,157.4 984.2,156.8 986.9,156 988.3,155.1 988.4,154.1 987.2,153.1 984.7,152.1ZM937.9,143.7 933.8,143.2 929.2,142.8 924.3,142.7 919.5,142.8 915.1,143.2 911.4,143.7 908.6,144.5 907,145.3 906.6,146.3 907.6,147.2 909.7,148.1 913,148.9 917.1,149.5 921.9,149.8 926.9,150 931.8,149.8 936.3,149.5 940,148.9 942.8,148.1 944.3,147.2 944.5,146.3 943.5,145.3 941.2,144.5ZM1106.2,160.3 1102.2,159.8 1097.9,159.6 1093.6,159.6 1089.8,159.8 1086.8,160.3 1084.9,161 1084.4,161.9 1085.2,162.8 1087.3,163.6 1090.5,164.3 1094.5,164.8 1098.9,165.1 1103.2,165.1 1107.1,164.8 1110.1,164.3 1112,163.6 1112.5,162.8 1111.6,161.9 1109.4,161ZM1057.9,152.2 1054.2,151.7 1050,151.5 1045.9,151.5 1042.1,151.7 1039.1,152.2 1037.2,152.9 1036.5,153.7 1037.1,154.5 1039,155.3 1042,155.9 1045.8,156.4 1050,156.7 1054.2,156.7 1058,156.4 1061,155.9 1062.9,155.3 1063.6,154.5 1062.9,153.7 1060.9,152.9ZM1012.4,144.5 1008.8,144.1 1004.8,143.9 1000.8,143.9 997.1,144.1 994.1,144.5 992.1,145.2 991.3,145.9 991.8,146.7 993.5,147.4 996.3,148.1 999.9,148.5 1003.9,148.8 1008,148.8 1011.8,148.5 1014.8,148.1 1016.8,147.4 1017.5,146.7 1016.9,145.9 1015.2,145.2ZM969.3,137.3 965.9,136.9 962.1,136.6 958.1,136.6 954.5,136.9 951.5,137.3 949.5,137.9 948.6,138.6 948.9,139.3 950.5,140 953.1,140.6 956.5,141.1 960.5,141.3 964.4,141.3 968.1,141.1 971.1,140.6 973.1,140 974,139.3 973.6,138.6 972,137.9ZM1141.8,151.4 1137.1,150.8 1132.1,150.4 1126.9,150.3 1122.1,150.4 1117.8,150.8 1114.5,151.4 1112.2,152.2 1111.2,153.1 1111.6,154.1 1113.3,155.1 1116.2,156 1120.2,156.8 1124.9,157.5 1130.1,157.8 1135.4,158 1140.4,157.8 1144.7,157.5 1148.1,156.8 1150.2,156 1151.1,155.1 1150.6,154.1 1148.8,153.1 1145.8,152.2ZM1094,143.8 1089.6,143.2 1084.7,142.8 1079.8,142.7 1075,142.8 1070.8,143.2 1067.5,143.8 1065.1,144.5 1064,145.4 1064.2,146.3 1065.7,147.2 1068.4,148.1 1072.1,148.9 1076.6,149.5 1081.6,149.9 1086.7,150 1091.5,149.9 1095.8,149.5 1099.2,148.9 1101.4,148.1 1102.4,147.2 1102.1,146.3 1100.5,145.4 1097.7,144.5ZM1048.8,136.6 1044.6,136 1040,135.7 1035.2,135.6 1030.5,135.7 1026.4,136 1023,136.6 1020.7,137.3 1019.4,138.1 1019.4,139 1020.7,139.8 1023.2,140.7 1026.7,141.4 1031,142 1035.7,142.3 1040.7,142.4 1045.4,142.3 1049.6,142 1053,141.4 1055.3,140.7 1056.4,139.9 1056.3,139 1054.9,138.1 1052.4,137.3ZM1006.1,129.7 1002.1,129.2 997.6,128.9 992.9,128.8 988.4,128.9 984.3,129.2 981,129.7 978.5,130.4 977.2,131.2 977.1,132 978.2,132.9 980.5,133.6 983.8,134.3 987.8,134.9 992.4,135.2 997.2,135.3 1001.8,135.2 1006,134.9 1009.3,134.3 1011.7,133.6 1013,132.9 1013,132 1011.7,131.2 1009.4,130.4ZM1168.9,144.6 1165.1,144.1 1160.9,143.9 1156.9,143.9 1153.3,144.1 1150.6,144.6 1149,145.2 1148.6,145.9 1149.6,146.7 1151.7,147.4 1154.9,148.1 1158.8,148.6 1163,148.8 1167.1,148.8 1170.7,148.6 1173.4,148.1 1175,147.5 1175.3,146.7 1174.3,145.9 1172.1,145.2ZM1121.5,137.3 1117.9,136.9 1113.9,136.7 1110,136.7 1106.5,136.9 1103.8,137.3 1102.1,137.9 1101.6,138.6 1102.4,139.3 1104.3,140 1107.3,140.6 1111,141.1 1115.1,141.3 1119.1,141.3 1122.6,141.1 1125.3,140.6 1127,140 1127.4,139.3 1126.6,138.6 1124.5,137.9ZM1076.7,130.5 1073.2,130 1069.4,129.8 1065.6,129.8 1062.2,130 1059.4,130.5 1057.7,131 1057.1,131.7 1057.7,132.4 1059.5,133 1062.3,133.6 1065.8,134 1069.7,134.2 1073.6,134.2 1077.1,134 1079.8,133.6 1081.5,133 1082.1,132.4 1081.4,131.7 1079.5,131ZM1034.2,124 1030.9,123.6 1027.2,123.4 1023.5,123.4 1020.1,123.6 1017.4,123.9 1015.6,124.5 1014.9,125.1 1015.4,125.8 1017.1,126.4 1019.7,126.9 1023.1,127.3 1026.8,127.5 1030.6,127.5 1034,127.3 1036.8,126.9 1038.5,126.4 1039.1,125.8 1038.6,125.1 1036.9,124.5ZM1200.6,136.6 1196.1,136 1191.2,135.7 1186.4,135.6 1181.8,135.7 1177.9,136 1174.8,136.6 1172.9,137.3 1172.1,138.1 1172.7,139 1174.5,139.9 1177.4,140.7 1181.4,141.4 1186,142 1191,142.3 1196,142.5 1200.6,142.3 1204.6,142 1207.7,141.4 1209.6,140.7 1210.2,139.9 1209.5,139 1207.6,138.1 1204.6,137.3ZM1153.8,129.8 1149.5,129.2 1144.8,128.9 1140.1,128.8 1135.7,128.9 1131.8,129.2 1128.7,129.8 1126.7,130.4 1125.8,131.2 1126.2,132 1127.8,132.9 1130.5,133.7 1134.2,134.3 1138.6,134.9 1143.4,135.2 1148.2,135.3 1152.8,135.2 1156.7,134.9 1159.8,134.4 1161.8,133.7 1162.5,132.9 1162,132 1160.3,131.2 1157.5,130.4ZM1109.5,123.3 1105.3,122.8 1100.8,122.5 1096.3,122.4 1091.9,122.5 1088.1,122.8 1085,123.3 1082.9,123.9 1081.9,124.6 1082.1,125.4 1083.6,126.2 1086.1,127 1089.6,127.6 1093.7,128.1 1098.3,128.5 1103,128.6 1107.5,128.5 1111.4,128.1 1114.5,127.6 1116.5,127 1117.4,126.2 1117.1,125.4 1115.5,124.7 1112.9,123.9ZM1067.3,117.1 1063.4,116.7 1059.1,116.4 1054.6,116.3 1050.4,116.4 1046.6,116.7 1043.5,117.1 1041.3,117.7 1040.3,118.4 1040.4,119.2 1041.6,120 1044,120.7 1047.2,121.3 1051.2,121.8 1055.6,122.1 1060.2,122.2 1064.5,122.1 1068.4,121.8 1071.5,121.3 1073.6,120.7 1074.6,120 1074.4,119.2 1073,118.4 1070.6,117.7Z" fill="#aaa8aa" stroke="#4a484b" stroke-width="0.5" stroke-linejoin="round"/>
<path d="M739.9,291.6 739,257 756.5,252.5 756.7,260.4 781.5,254 781.4,246.2 814.1,237.9 814.1,245.5 837,239.5 837,232 867.2,224.4 867.2,231.7 888.4,226.2 888.5,218.9 916.5,211.8 916.4,218.9 936.1,213.8 936.3,206.8 962.3,200.1 962.1,207 980.4,202.2 980.7,195.5 1005,189.3 1004.7,195.9 1021.8,191.5 1022.2,184.9 1044.9,179.1 1044.5,185.6 1060.5,181.4 1060.9,175 1082.2,169.6 1081.8,175.9 1096.8,172 1097.3,165.8 1117.2,160.7 1116.7,166.8 1130.9,163.1 1131.4,157.1 1150.1,152.3 1149.6,158.3 1162.9,154.8 1163.5,149 1181.1,144.5 1180.6,150.2 1193.1,146.9 1193.7,141.3 1210.4,137 1209.8,142.6 1221.6,139.5 1222.2,134 1230.2,132 1227.6,156Z" fill="#4a484b" stroke="#1c1b1d" stroke-width="0.6" stroke-linejoin="round"/>
<path d="M739.9,291.6 739,257 723.7,252.5 723.9,260.4 702.2,253.9 701.9,246.2 673.3,237.9 673.6,245.5 653.6,239.5 653.2,232 626.8,224.3 627.2,231.7 608.6,226.1 608.2,218.9 583.7,211.8 584.2,218.8 566.9,213.7 566.4,206.7 554.9,203.4 557.2,233.5Z" fill="#4a484b" stroke="#1c1b1d" stroke-width="0.6" stroke-linejoin="round"/>
<path d="M739,257 739.9,291.6" fill="none" stroke="#1c1b1d" stroke-width="0.7"/>
<path d="M797.9,242 798.2,275.4" fill="none" stroke="#262527" stroke-width="0.6"/>
<path d="M852.3,228.2 852.1,260.4" fill="none" stroke="#262527" stroke-width="0.6"/>
<path d="M902.6,215.3 902,246.5" fill="none" stroke="#262527" stroke-width="0.6"/>
<path d="M949.4,203.4 948.4,233.6" fill="none" stroke="#262527" stroke-width="0.6"/>
<path d="M993,192.4 991.6,221.6" fill="none" stroke="#262527" stroke-width="0.6"/>
<path d="M1033.6,182 1032,210.4" fill="none" stroke="#262527" stroke-width="0.6"/>
<path d="M1071.7,172.3 1069.8,199.8" fill="none" stroke="#262527" stroke-width="0.6"/>
<path d="M1107.3,163.2 1105.3,190" fill="none" stroke="#262527" stroke-width="0.6"/>
<path d="M1140.8,154.7 1138.6,180.7" fill="none" stroke="#262527" stroke-width="0.6"/>
<path d="M1172.4,146.7 1170,172" fill="none" stroke="#262527" stroke-width="0.6"/>
<path d="M1202.1,139.1 1199.6,163.7" fill="none" stroke="#262527" stroke-width="0.6"/>
<path d="M687.5,242 688.8,275.4" fill="none" stroke="#262527" stroke-width="0.6"/>
<path d="M639.9,228.1 641.6,260.4" fill="none" stroke="#262527" stroke-width="0.6"/>
<path d="M595.8,215.3 597.9,246.5" fill="none" stroke="#262527" stroke-width="0.6"/>
<path d="M750.2,288.7 749.6,259.5 752.1,258.8 752.8,288ZM786.1,278.8 785.7,250.2 788.2,249.5 788.5,278.1ZM807.8,272.7 807.6,244.5 809.9,243.9 810.1,272.1ZM840.9,263.5 841,235.9 843.2,235.3 843.1,262.9ZM860.9,258 861.2,230.7 863.3,230.1 863.1,257.3ZM891.6,249.4 892.1,222.7 894.2,222.2 893.7,248.8ZM910.2,244.2 910.8,217.9 912.8,217.3 912.2,243.7ZM938.7,236.3 939.5,210.5 941.5,210 940.7,235.8ZM956,231.5 956.9,206 958.8,205.5 957.9,231ZM982.6,224.1 983.7,199.1 985.5,198.6 984.4,223.6ZM998.8,219.6 999.9,194.9 1001.7,194.4 1000.5,219.1ZM1023.6,212.7 1024.9,188.4 1026.6,188 1025.3,212.2ZM1038.7,208.5 1040.1,184.5 1041.7,184.1 1040.3,208ZM1061.9,202 1063.4,178.5 1065,178.1 1063.5,201.6ZM1076.1,198.1 1077.7,174.8 1079.2,174.4 1077.6,197.7ZM1097.9,192 1099.6,169.2 1101.1,168.8 1099.3,191.6ZM1111.1,188.3 1112.9,165.7 1114.4,165.3 1112.6,187.9ZM1131.6,182.6 1133.5,160.4 1134.9,160 1133,182.3ZM1144.1,179.2 1146,157.2 1147.4,156.8 1145.5,178.8ZM1163.4,173.8 1165.4,152.2 1166.7,151.8 1164.7,173.4ZM1175.2,170.5 1177.2,149.1 1178.5,148.8 1176.5,170.2ZM1193.4,165.5 1195.5,144.4 1196.7,144.1 1194.6,165.1ZM1204.5,162.4 1206.6,141.5 1207.9,141.2 1205.7,162ZM1221.7,157.6 1223.9,137.1 1225.1,136.8 1222.9,157.3ZM730.8,288.7 730,259.5 727.7,258.8 728.6,288ZM699.4,278.7 698.3,250.1 696.2,249.5 697.3,278.1ZM680.4,272.7 679.2,244.5 677.2,243.9 678.4,272.1ZM651.4,263.5 650,235.9 648,235.3 649.4,262.9ZM633.9,257.9 632.3,230.6 630.4,230.1 632,257.3ZM607,249.4 605.3,222.7 603.4,222.1 605.1,248.8ZM590.7,244.2 588.9,217.8 587.1,217.3 588.9,243.6ZM565.7,236.2 563.8,210.4 562.1,209.9 564,235.7Z" fill="#39373a" stroke="#1a191b" stroke-width="0.7" stroke-linejoin="round"/>
<path d="M1043.5,113.6 1045.9,113.8 1049.9,114.1 1054,114.2 1057.9,114.1 1061.4,113.8 1063.3,113.6 1063.7,108.5 1061.7,108.8 1058.2,109.1 1054.3,109.2 1050.2,109.1 1046.2,108.8 1043.8,108.5Z" fill="url(#pw)" stroke="#2a292b" stroke-width="0.4" stroke-linejoin="round"/>
<path d="M1061.7,108.8 1063.7,108.5 1052.1,106.9 1043.8,108.5 1046.2,108.8 1050.2,109.1 1054.3,109.2 1058.2,109.1Z" fill="#343235" stroke="#161517" stroke-width="0.7" stroke-linejoin="round"/>
<path d="M1056.1,108.2 1053.8,108 1051.5,108.1 1050.1,108.3 1050.1,108.7 1051.5,109.1 1053.8,109.3 1056.1,109.2 1057.5,108.9 1057.5,108.5Z" fill="#646265" stroke="#1b1a1c" stroke-width="0.8" stroke-linejoin="round"/>
<path d="M1034.6,119.4 1042.6,117.8 1042.8,112.7 1034.9,114.3Z" fill="#565457" stroke="#2a292b" stroke-width="0.4" stroke-linejoin="round"/>
<path d="M1013.3,119.5 1015.8,119.8 1019.8,120.1 1024,120.2 1028.1,120.1 1031.7,119.8 1034.6,119.4 1034.9,114.3 1032,114.7 1028.3,115 1024.3,115 1020.1,115 1016,114.7 1013.6,114.4Z" fill="url(#pw)" stroke="#2a292b" stroke-width="0.4" stroke-linejoin="round"/>
<path d="M1032.1,111.1 1031,111 1013.6,114.4 1016,114.7 1020.1,115 1024.3,115 1028.3,115 1032,114.7 1034.9,114.3 1042.8,112.7Z" fill="#343235" stroke="#161517" stroke-width="0.7" stroke-linejoin="round"/>
<path d="M1035.5,112.2 1033.2,112 1030.8,112.1 1029.4,112.4 1029.3,112.8 1030.8,113.1 1033.1,113.3 1035.4,113.3 1036.9,113 1036.9,112.6ZM1026.3,114 1023.9,113.8 1021.6,113.9 1020.1,114.2 1020,114.6 1021.4,115 1023.8,115.2 1026.2,115.1 1027.6,114.8 1027.7,114.4Z" fill="#646265" stroke="#1b1a1c" stroke-width="0.8" stroke-linejoin="round"/>
<path d="M1072.4,117.8 1083.4,119.4 1083.8,114.3 1072.7,112.7Z" fill="#565457" stroke="#2a292b" stroke-width="0.4" stroke-linejoin="round"/>
<path d="M1083.4,119.4 1087.2,119.8 1091.3,120.1 1095.5,120.2 1099.5,120.1 1103,119.8 1105,119.5 1105.3,114.4 1103.4,114.7 1099.9,115 1095.9,115.1 1091.7,115 1087.5,114.7 1083.8,114.3Z" fill="url(#pw)" stroke="#2a292b" stroke-width="0.4" stroke-linejoin="round"/>
<path d="M1103.4,114.7 1105.3,114.4 1081.2,111 1080.4,111.1 1072.7,112.7 1083.8,114.3 1087.5,114.7 1091.7,115 1095.9,115.1 1099.9,115Z" fill="#343235" stroke="#161517" stroke-width="0.7" stroke-linejoin="round"/>
<path d="M1084.7,112.2 1082.3,112 1080,112.1 1078.6,112.4 1078.6,112.8 1080.1,113.2 1082.5,113.3 1084.8,113.3 1086.3,113 1086.2,112.6ZM1097.5,114 1095.1,113.8 1092.8,113.9 1091.4,114.2 1091.5,114.6 1093,115 1095.4,115.2 1097.8,115.1 1099.2,114.8 1099.1,114.4Z" fill="#646265" stroke="#1b1a1c" stroke-width="0.8" stroke-linejoin="round"/>
<path d="M1003.4,125.7 1011.8,124 1012.1,118.8 1003.7,120.4Z" fill="#565457" stroke="#2a292b" stroke-width="0.4" stroke-linejoin="round"/>
<path d="M981.5,125.8 984.1,126.1 988.2,126.4 992.5,126.5 996.6,126.4 1000.4,126.1 1003.4,125.7 1003.7,120.4 1000.6,120.9 996.9,121.2 992.7,121.2 988.4,121.2 984.3,120.9 981.8,120.6Z" fill="url(#pw)" stroke="#2a292b" stroke-width="0.4" stroke-linejoin="round"/>
<path d="M1001.3,117.1 1000.1,117 981.8,120.6 984.3,120.9 988.4,121.2 992.7,121.2 996.9,121.2 1000.6,120.9 1003.7,120.4 1012.1,118.8Z" fill="#343235" stroke="#161517" stroke-width="0.7" stroke-linejoin="round"/>
<path d="M1004.6,118.3 1002.2,118.1 999.8,118.1 998.3,118.4 998.2,118.9 999.6,119.3 1002,119.4 1004.4,119.4 1005.9,119.1 1006,118.7ZM994.9,120.2 992.5,120 990,120 988.5,120.4 988.4,120.8 989.8,121.2 992.1,121.4 994.6,121.3 996.2,121 996.3,120.6Z" fill="#646265" stroke="#1b1a1c" stroke-width="0.8" stroke-linejoin="round"/>
<path d="M1076.5,125.7 1084.4,124 1084.8,118.8 1076.9,120.4ZM1042.4,124 1053.5,125.7 1053.8,120.4 1042.7,118.8Z" fill="#565457" stroke="#2a292b" stroke-width="0.4" stroke-linejoin="round"/>
<path d="M1053.5,125.7 1057.3,126.2 1061.5,126.4 1065.8,126.5 1070,126.4 1073.6,126.2 1076.5,125.7 1076.9,120.4 1074,120.9 1070.3,121.2 1066.2,121.3 1061.8,121.2 1057.6,120.9 1053.8,120.4Z" fill="url(#pw)" stroke="#2a292b" stroke-width="0.4" stroke-linejoin="round"/>
<path d="M1076.9,120.4 1084.8,118.8 1073.5,117.1 1069.7,116.7 1065.6,116.4 1061.3,116.3 1057.3,116.4 1053.7,116.7 1050.8,117.1 1042.7,118.8 1053.8,120.4 1057.6,120.9 1061.8,121.2 1066.2,121.3 1070.3,121.2 1074,120.9Z" fill="#343235" stroke="#161517" stroke-width="0.7" stroke-linejoin="round"/>
<path d="M1064.2,116.4 1061.9,116.2 1059.5,116.3 1058,116.6 1058,117 1059.5,117.4 1061.9,117.6 1064.3,117.5 1065.8,117.2 1065.7,116.8ZM1055.1,118.3 1052.7,118.1 1050.3,118.2 1048.8,118.5 1048.8,118.9 1050.3,119.3 1052.7,119.5 1055.1,119.4 1056.6,119.1 1056.6,118.7ZM1077.2,118.3 1074.7,118.1 1072.3,118.2 1070.9,118.5 1070.9,118.9 1072.4,119.3 1074.9,119.5 1077.3,119.4 1078.7,119.1 1078.7,118.7ZM1068,120.2 1065.6,120 1063.2,120.1 1061.7,120.4 1061.7,120.8 1063.2,121.2 1065.7,121.4 1068.1,121.3 1069.6,121 1069.5,120.6Z" fill="#646265" stroke="#1b1a1c" stroke-width="0.8" stroke-linejoin="round"/>
<path d="M1115,124 1126.6,125.7 1127.1,120.4 1115.4,118.8Z" fill="#565457" stroke="#2a292b" stroke-width="0.4" stroke-linejoin="round"/>
<path d="M1126.6,125.7 1130.6,126.2 1134.9,126.5 1139.2,126.6 1143.3,126.5 1146.9,126.2 1148.8,125.9 1149.3,120.6 1147.3,120.9 1143.8,121.2 1139.7,121.3 1135.3,121.2 1131,120.9 1127.1,120.4Z" fill="url(#pw)" stroke="#2a292b" stroke-width="0.4" stroke-linejoin="round"/>
<path d="M1147.3,120.9 1149.3,120.6 1123.9,117 1123,117.1 1115.4,118.8 1127.1,120.4 1131,120.9 1135.3,121.2 1139.7,121.3 1143.8,121.2Z" fill="#343235" stroke="#161517" stroke-width="0.7" stroke-linejoin="round"/>
<path d="M1127.6,118.3 1125.2,118.1 1122.8,118.2 1121.4,118.5 1121.5,118.9 1123.1,119.3 1125.6,119.5 1128,119.4 1129.4,119.1 1129.2,118.7ZM1141.2,120.2 1138.7,120 1136.3,120.1 1134.9,120.4 1135,120.8 1136.7,121.2 1139.2,121.4 1141.6,121.3 1143,121 1142.8,120.6Z" fill="#646265" stroke="#1b1a1c" stroke-width="0.8" stroke-linejoin="round"/>
<path d="M970.5,132.3 979.4,130.5 979.6,125.2 970.7,126.9Z" fill="#565457" stroke="#2a292b" stroke-width="0.4" stroke-linejoin="round"/>
<path d="M948,132.5 950.6,132.8 954.8,133.1 959.2,133.2 963.5,133.1 967.3,132.8 970.5,132.3 970.7,126.9 967.5,127.4 963.7,127.7 959.4,127.8 955,127.7 950.8,127.4 948.2,127.1Z" fill="url(#pw)" stroke="#2a292b" stroke-width="0.4" stroke-linejoin="round"/>
<path d="M968.8,123.4 967.6,123.3 948.2,127.1 950.8,127.4 955,127.7 959.4,127.8 963.7,127.7 967.5,127.4 970.7,126.9 979.6,125.2Z" fill="#343235" stroke="#161517" stroke-width="0.7" stroke-linejoin="round"/>
<path d="M972,124.7 969.6,124.4 967.1,124.5 965.5,124.8 965.3,125.3 966.7,125.7 969.1,125.9 971.6,125.8 973.3,125.5 973.4,125.1ZM961.7,126.7 959.3,126.5 956.8,126.5 955.1,126.9 955,127.3 956.4,127.7 958.8,127.9 961.3,127.9 963,127.5 963.1,127.1Z" fill="#646265" stroke="#1b1a1c" stroke-width="0.8" stroke-linejoin="round"/>
<path d="M1045.6,132.3 1054,130.5 1054.3,125.2 1046,126.9ZM1010.8,130.5 1022,132.3 1022.3,126.9 1011.1,125.2Z" fill="#565457" stroke="#2a292b" stroke-width="0.4" stroke-linejoin="round"/>
<path d="M1022,132.3 1025.8,132.8 1030.1,133.1 1034.5,133.2 1038.8,133.1 1042.6,132.8 1045.6,132.3 1046,126.9 1042.9,127.4 1039.1,127.7 1034.8,127.8 1030.4,127.7 1026.1,127.4 1022.3,126.9Z" fill="url(#pw)" stroke="#2a292b" stroke-width="0.4" stroke-linejoin="round"/>
<path d="M1046,126.9 1054.3,125.2 1042.9,123.5 1039.1,123 1034.9,122.7 1030.6,122.6 1026.4,122.7 1022.6,123 1019.6,123.4 1011.1,125.2 1022.3,126.9 1026.1,127.4 1030.4,127.7 1034.8,127.8 1039.1,127.7 1042.9,127.4Z" fill="#343235" stroke="#161517" stroke-width="0.7" stroke-linejoin="round"/>
<path d="M1033.5,122.7 1031.1,122.5 1028.6,122.5 1027.1,122.9 1027.1,123.3 1028.5,123.7 1031,123.9 1033.4,123.8 1035,123.5 1035,123.1ZM1023.8,124.7 1021.4,124.5 1018.9,124.5 1017.3,124.8 1017.3,125.3 1018.8,125.7 1021.2,125.9 1023.7,125.8 1025.3,125.5 1025.3,125.1ZM1046.5,124.7 1044.1,124.5 1041.6,124.5 1040.1,124.8 1040,125.3 1041.6,125.7 1044,125.9 1046.5,125.8 1048,125.5 1048.1,125.1ZM1036.9,126.7 1034.4,126.5 1031.9,126.5 1030.3,126.9 1030.3,127.3 1031.8,127.7 1034.3,127.9 1036.8,127.9 1038.4,127.5 1038.4,127.1Z" fill="#646265" stroke="#1b1a1c" stroke-width="0.8" stroke-linejoin="round"/>
<path d="M1120.8,132.3 1128.5,130.6 1129,125.2 1121.2,126.9ZM1085.4,130.5 1097.1,132.3 1097.5,126.9 1085.8,125.2Z" fill="#565457" stroke="#2a292b" stroke-width="0.4" stroke-linejoin="round"/>
<path d="M1097.1,132.3 1101.1,132.8 1105.5,133.1 1109.9,133.2 1114.1,133.1 1117.8,132.8 1120.8,132.3 1121.2,126.9 1118.3,127.4 1114.6,127.7 1110.3,127.8 1105.9,127.7 1101.5,127.4 1097.5,126.9Z" fill="url(#pw)" stroke="#2a292b" stroke-width="0.4" stroke-linejoin="round"/>
<path d="M1121.2,126.9 1129,125.2 1117.1,123.5 1113.1,123 1108.8,122.7 1104.5,122.6 1100.3,122.7 1096.7,123 1093.7,123.5 1085.8,125.2 1097.5,126.9 1101.5,127.4 1105.9,127.7 1110.3,127.8 1114.6,127.7 1118.3,127.4Z" fill="#343235" stroke="#161517" stroke-width="0.7" stroke-linejoin="round"/>
<path d="M1107.4,122.7 1104.9,122.5 1102.5,122.6 1101.1,122.9 1101.2,123.3 1102.8,123.7 1105.3,123.9 1107.7,123.8 1109.2,123.5 1109,123.1ZM1098.4,124.7 1095.9,124.5 1093.4,124.5 1091.9,124.9 1092,125.3 1093.6,125.7 1096.1,125.9 1098.6,125.8 1100.1,125.5 1100,125.1ZM1121.1,124.7 1118.5,124.5 1116.1,124.5 1114.6,124.9 1114.8,125.3 1116.4,125.7 1118.9,125.9 1121.4,125.8 1122.8,125.5 1122.7,125.1ZM1112,126.7 1109.5,126.5 1107,126.5 1105.5,126.9 1105.6,127.3 1107.3,127.7 1109.8,127.9 1112.3,127.9 1113.8,127.5 1113.7,127.1Z" fill="#646265" stroke="#1b1a1c" stroke-width="0.8" stroke-linejoin="round"/>
<path d="M1160,130.6 1172.2,132.3 1172.7,126.9 1160.4,125.2Z" fill="#565457" stroke="#2a292b" stroke-width="0.4" stroke-linejoin="round"/>
<path d="M1172.2,132.3 1176.4,132.8 1180.8,133.1 1185.3,133.2 1189.5,133.1 1193.1,132.8 1195,132.5 1195.6,127.1 1193.6,127.4 1190,127.7 1185.8,127.8 1181.3,127.7 1176.9,127.4 1172.7,126.9Z" fill="url(#pw)" stroke="#2a292b" stroke-width="0.4" stroke-linejoin="round"/>
<path d="M1193.6,127.4 1195.6,127.1 1168.8,123.3 1167.9,123.5 1160.4,125.2 1172.7,126.9 1176.9,127.4 1181.3,127.7 1185.8,127.8 1190,127.7Z" fill="#343235" stroke="#161517" stroke-width="0.7" stroke-linejoin="round"/>
<path d="M1172.9,124.7 1170.3,124.5 1167.9,124.5 1166.5,124.9 1166.7,125.3 1168.5,125.7 1171,125.9 1173.5,125.8 1174.9,125.5 1174.6,125.1ZM1187.2,126.7 1184.6,126.5 1182.1,126.6 1180.8,126.9 1181,127.3 1182.8,127.7 1185.4,128 1187.8,127.9 1189.2,127.6 1188.9,127.1Z" fill="#646265" stroke="#1b1a1c" stroke-width="0.8" stroke-linejoin="round"/>
<path d="M935.8,139.3 945.2,137.4 945.4,131.9 936,133.8Z" fill="#565457" stroke="#2a292b" stroke-width="0.4" stroke-linejoin="round"/>
<path d="M912.7,139.5 915.3,139.8 919.5,140.2 924,140.3 928.4,140.2 932.5,139.8 935.8,139.3 936,133.8 932.6,134.3 928.6,134.6 924.2,134.7 919.7,134.6 915.4,134.3 912.8,133.9Z" fill="url(#pw)" stroke="#2a292b" stroke-width="0.4" stroke-linejoin="round"/>
<path d="M934.5,130.1 933.3,130 912.8,133.9 915.4,134.3 919.7,134.6 924.2,134.7 928.6,134.6 932.6,134.3 936,133.8 945.4,131.9Z" fill="#343235" stroke="#161517" stroke-width="0.7" stroke-linejoin="round"/>
<path d="M937.6,131.4 935.2,131.2 932.6,131.2 930.9,131.6 930.7,132.1 932,132.5 934.5,132.7 937.1,132.6 938.8,132.3 939,131.8ZM926.8,133.5 924.3,133.3 921.7,133.4 920,133.7 919.7,134.2 921.1,134.6 923.5,134.8 926.1,134.8 927.9,134.4 928.1,133.9Z" fill="#646265" stroke="#1b1a1c" stroke-width="0.8" stroke-linejoin="round"/>
<path d="M1013,139.3 1021.8,137.4 1022.1,131.9 1013.3,133.8ZM977.5,137.4 988.7,139.3 989,133.8 977.7,131.9Z" fill="#565457" stroke="#2a292b" stroke-width="0.4" stroke-linejoin="round"/>
<path d="M988.7,139.3 992.6,139.8 997,140.2 1001.5,140.3 1005.9,140.2 1009.8,139.8 1013,139.3 1013.3,133.8 1010.1,134.3 1006.2,134.6 1001.8,134.7 997.2,134.6 992.9,134.3 989,133.8Z" fill="url(#pw)" stroke="#2a292b" stroke-width="0.4" stroke-linejoin="round"/>
<path d="M1013.3,133.8 1022.1,131.9 1010.7,130.1 1006.8,129.6 1002.5,129.3 998.1,129.2 993.8,129.3 989.9,129.6 986.7,130.1 977.7,131.9 989,133.8 992.9,134.3 997.2,134.6 1001.8,134.7 1006.2,134.6 1010.1,134.3Z" fill="#343235" stroke="#161517" stroke-width="0.7" stroke-linejoin="round"/>
<path d="M1001.1,129.3 998.6,129.1 996.1,129.2 994.5,129.5 994.4,130 995.8,130.4 998.3,130.6 1000.9,130.5 1002.5,130.2 1002.6,129.7ZM990.9,131.4 988.4,131.2 985.8,131.2 984.2,131.6 984.1,132.1 985.5,132.5 988,132.7 990.6,132.6 992.2,132.3 992.3,131.8ZM1014.2,131.4 1011.7,131.2 1009.2,131.3 1007.5,131.6 1007.5,132.1 1009,132.5 1011.5,132.7 1014,132.6 1015.6,132.3 1015.7,131.8ZM1004,133.5 1001.5,133.3 998.9,133.4 997.3,133.7 997.2,134.2 998.7,134.6 1001.2,134.9 1003.8,134.8 1005.4,134.4 1005.5,134Z" fill="#646265" stroke="#1b1a1c" stroke-width="0.8" stroke-linejoin="round"/>
<path d="M1090.2,139.3 1098.5,137.5 1098.9,132 1090.6,133.8ZM1054.1,137.5 1065.9,139.3 1066.3,133.8 1054.4,131.9Z" fill="#565457" stroke="#2a292b" stroke-width="0.4" stroke-linejoin="round"/>
<path d="M1065.9,139.3 1070,139.8 1074.4,140.2 1079,140.3 1083.3,140.2 1087.2,139.9 1090.2,139.3 1090.6,133.8 1087.6,134.3 1083.7,134.6 1079.4,134.7 1074.8,134.6 1070.3,134.3 1066.3,133.8Z" fill="url(#pw)" stroke="#2a292b" stroke-width="0.4" stroke-linejoin="round"/>
<path d="M1090.6,133.8 1098.9,132 1086.9,130.1 1082.9,129.6 1078.5,129.3 1074,129.2 1069.7,129.3 1065.9,129.6 1062.9,130.1 1054.4,131.9 1066.3,133.8 1070.3,134.3 1074.8,134.6 1079.4,134.7 1083.7,134.6 1087.6,134.3Z" fill="#343235" stroke="#161517" stroke-width="0.7" stroke-linejoin="round"/>
<path d="M1077.1,129.3 1074.5,129.1 1072,129.2 1070.5,129.5 1070.5,130 1072.1,130.4 1074.7,130.6 1077.2,130.5 1078.7,130.2 1078.7,129.7ZM1067.5,131.4 1064.9,131.2 1062.4,131.3 1060.8,131.6 1060.9,132.1 1062.4,132.5 1065,132.7 1067.6,132.6 1069.1,132.3 1069.1,131.8ZM1090.8,131.4 1088.2,131.2 1085.7,131.3 1084.2,131.6 1084.2,132.1 1085.9,132.5 1088.5,132.7 1091,132.6 1092.5,132.3 1092.4,131.8ZM1081.2,133.5 1078.7,133.3 1076.1,133.4 1074.6,133.7 1074.6,134.2 1076.2,134.6 1078.8,134.9 1081.4,134.8 1082.9,134.4 1082.9,134Z" fill="#646265" stroke="#1b1a1c" stroke-width="0.8" stroke-linejoin="round"/>
<path d="M1167.4,139.4 1175.1,137.5 1175.6,132 1168,133.8ZM1130.7,137.5 1143.1,139.3 1143.6,133.8 1131.2,132Z" fill="#565457" stroke="#2a292b" stroke-width="0.4" stroke-linejoin="round"/>
<path d="M1143.1,139.3 1147.3,139.9 1151.9,140.2 1156.5,140.3 1160.8,140.2 1164.5,139.9 1167.4,139.4 1168,133.8 1165.1,134.3 1161.3,134.6 1157,134.7 1152.4,134.6 1147.8,134.3 1143.6,133.8Z" fill="url(#pw)" stroke="#2a292b" stroke-width="0.4" stroke-linejoin="round"/>
<path d="M1168,133.8 1175.6,132 1163.1,130.1 1158.9,129.7 1154.4,129.3 1149.9,129.2 1145.7,129.3 1142,129.7 1139.1,130.1 1131.2,132 1143.6,133.8 1147.8,134.3 1152.4,134.6 1157,134.7 1161.3,134.6 1165.1,134.3Z" fill="#343235" stroke="#161517" stroke-width="0.7" stroke-linejoin="round"/>
<path d="M1153,129.3 1150.4,129.1 1147.9,129.2 1146.5,129.5 1146.7,130 1148.4,130.4 1151,130.6 1153.5,130.5 1154.9,130.2 1154.7,129.7ZM1144.1,131.4 1141.4,131.2 1138.9,131.3 1137.5,131.6 1137.7,132.1 1139.4,132.5 1142,132.7 1144.5,132.6 1146,132.3 1145.8,131.8ZM1167.4,131.4 1164.8,131.2 1162.3,131.3 1160.8,131.6 1161,132.1 1162.8,132.5 1165.5,132.7 1168,132.7 1169.4,132.3 1169.2,131.8ZM1158.5,133.5 1155.8,133.3 1153.3,133.4 1151.9,133.7 1152.1,134.2 1153.8,134.7 1156.5,134.9 1159,134.8 1160.5,134.5 1160.3,134Z" fill="#646265" stroke="#1b1a1c" stroke-width="0.8" stroke-linejoin="round"/>
<path d="M1207.4,137.5 1220.4,139.4 1221,133.8 1208,132Z" fill="#565457" stroke="#2a292b" stroke-width="0.4" stroke-linejoin="round"/>
<path d="M1220.4,139.4 1221.7,139.5 1222.3,134 1221,133.8Z" fill="url(#pw)" stroke="#2a292b" stroke-width="0.4" stroke-linejoin="round"/>
<path d="M1221,133.8 1222.3,134 1230.2,132 1216.1,130 1215.3,130.1 1208,132Z" fill="#343235" stroke="#161517" stroke-width="0.7" stroke-linejoin="round"/>
<path d="M1220.7,131.4 1218,131.2 1215.5,131.3 1214.1,131.6 1214.5,132.1 1216.3,132.5 1219,132.7 1221.5,132.7 1222.8,132.3 1222.5,131.8Z" fill="#646265" stroke="#1b1a1c" stroke-width="0.8" stroke-linejoin="round"/>
<path d="M899.1,146.7 909,144.7 909.1,139.1 899.2,141Z" fill="#565457" stroke="#2a292b" stroke-width="0.4" stroke-linejoin="round"/>
<path d="M875.3,146.9 877.9,147.3 882.2,147.6 886.8,147.7 891.4,147.6 895.6,147.3 899.1,146.7 899.2,141 895.7,141.6 891.5,141.9 886.9,142 882.3,141.9 878,141.6 875.4,141.2Z" fill="url(#pw)" stroke="#2a292b" stroke-width="0.4" stroke-linejoin="round"/>
<path d="M898.2,137.2 897.1,137 875.4,141.2 878,141.6 882.3,141.9 886.9,142 891.5,141.9 895.7,141.6 899.2,141 909.1,139.1Z" fill="#343235" stroke="#161517" stroke-width="0.7" stroke-linejoin="round"/>
<path d="M901.3,138.5 898.8,138.3 896.1,138.4 894.3,138.7 894,139.2 895.4,139.7 897.8,139.9 900.5,139.8 902.3,139.5 902.6,139ZM889.8,140.7 887.3,140.5 884.6,140.6 882.8,141 882.4,141.5 883.8,141.9 886.3,142.2 889,142.1 890.8,141.7 891.1,141.2Z" fill="#646265" stroke="#1b1a1c" stroke-width="0.8" stroke-linejoin="round"/>
<path d="M978.5,146.7 987.8,144.7 988.1,139.1 978.8,141ZM942.2,144.7 953.6,146.7 953.7,141 942.4,139.1Z" fill="#565457" stroke="#2a292b" stroke-width="0.4" stroke-linejoin="round"/>
<path d="M953.6,146.7 957.5,147.3 961.9,147.6 966.6,147.7 971.1,147.6 975.2,147.3 978.5,146.7 978.8,141 975.4,141.6 971.3,141.9 966.8,142 962.1,141.9 957.7,141.6 953.7,141Z" fill="url(#pw)" stroke="#2a292b" stroke-width="0.4" stroke-linejoin="round"/>
<path d="M978.8,141 988.1,139.1 976.6,137.2 972.7,136.6 968.3,136.3 963.7,136.2 959.3,136.3 955.3,136.6 951.9,137.2 942.4,139.1 953.7,141 957.7,141.6 962.1,141.9 966.8,142 971.3,141.9 975.4,141.6Z" fill="#343235" stroke="#161517" stroke-width="0.7" stroke-linejoin="round"/>
<path d="M966.9,136.3 964.4,136.1 961.7,136.1 960,136.5 959.8,137 961.3,137.4 963.8,137.7 966.4,137.6 968.2,137.2 968.3,136.7ZM956,138.5 953.5,138.3 950.9,138.4 949.1,138.7 948.9,139.2 950.4,139.7 952.9,139.9 955.6,139.8 957.3,139.5 957.5,139ZM980,138.5 977.5,138.3 974.9,138.4 973.1,138.7 973,139.2 974.5,139.7 977,139.9 979.7,139.8 981.4,139.5 981.5,139ZM969.2,140.8 966.7,140.5 964,140.6 962.3,141 962.1,141.5 963.6,141.9 966.2,142.2 968.8,142.1 970.6,141.7 970.7,141.2Z" fill="#646265" stroke="#1b1a1c" stroke-width="0.8" stroke-linejoin="round"/>
<path d="M1058,146.7 1066.7,144.8 1067,139.1 1058.3,141.1ZM1021,144.7 1033,146.7 1033.3,141.1 1021.3,139.1Z" fill="#565457" stroke="#2a292b" stroke-width="0.4" stroke-linejoin="round"/>
<path d="M1033,146.7 1037,147.3 1041.6,147.6 1046.3,147.7 1050.8,147.6 1054.8,147.3 1058,146.7 1058.3,141.1 1055.1,141.6 1051.1,141.9 1046.6,142 1041.9,141.9 1037.4,141.6 1033.3,141.1Z" fill="url(#pw)" stroke="#2a292b" stroke-width="0.4" stroke-linejoin="round"/>
<path d="M1058.3,141.1 1067,139.1 1054.9,137.2 1050.9,136.7 1046.4,136.3 1041.8,136.2 1037.4,136.3 1033.5,136.7 1030.3,137.2 1021.3,139.1 1033.3,141.1 1037.4,141.6 1041.9,141.9 1046.6,142 1051.1,141.9 1055.1,141.6Z" fill="#343235" stroke="#161517" stroke-width="0.7" stroke-linejoin="round"/>
<path d="M1045,136.3 1042.4,136.1 1039.8,136.2 1038.2,136.5 1038.1,137 1039.7,137.4 1042.3,137.7 1044.9,137.6 1046.5,137.2 1046.5,136.7ZM1034.8,138.5 1032.2,138.3 1029.6,138.4 1028,138.7 1027.9,139.2 1029.5,139.7 1032.1,139.9 1034.7,139.8 1036.4,139.5 1036.4,139ZM1058.8,138.5 1056.2,138.3 1053.6,138.4 1052,138.7 1052,139.2 1053.6,139.7 1056.2,139.9 1058.8,139.8 1060.5,139.5 1060.4,139ZM1048.7,140.8 1046.1,140.5 1043.4,140.6 1041.8,141 1041.8,141.5 1043.4,141.9 1046,142.2 1048.7,142.1 1050.3,141.7 1050.3,141.2Z" fill="#646265" stroke="#1b1a1c" stroke-width="0.8" stroke-linejoin="round"/>
<path d="M1137.4,146.8 1145.5,144.8 1146,139.1 1137.9,141.1ZM1099.9,144.8 1112.4,146.8 1112.8,141.1 1100.3,139.1Z" fill="#565457" stroke="#2a292b" stroke-width="0.4" stroke-linejoin="round"/>
<path d="M1112.4,146.8 1116.6,147.3 1121.3,147.6 1126,147.8 1130.5,147.6 1134.3,147.3 1137.4,146.8 1137.9,141.1 1134.8,141.6 1130.9,141.9 1126.5,142 1121.7,141.9 1117.1,141.6 1112.8,141.1Z" fill="url(#pw)" stroke="#2a292b" stroke-width="0.4" stroke-linejoin="round"/>
<path d="M1137.9,141.1 1146,139.1 1133.3,137.2 1129.1,136.7 1124.5,136.3 1119.9,136.2 1115.5,136.3 1111.7,136.7 1108.6,137.2 1100.3,139.1 1112.8,141.1 1117.1,141.6 1121.7,141.9 1126.5,142 1130.9,141.9 1134.8,141.6Z" fill="#343235" stroke="#161517" stroke-width="0.7" stroke-linejoin="round"/>
<path d="M1123,136.3 1120.4,136.1 1117.8,136.2 1116.3,136.5 1116.5,137 1118.2,137.5 1120.8,137.7 1123.4,137.6 1124.9,137.3 1124.8,136.8ZM1113.6,138.5 1110.9,138.3 1108.3,138.4 1106.8,138.7 1106.9,139.2 1108.6,139.7 1111.3,139.9 1113.9,139.8 1115.4,139.5 1115.3,139ZM1137.6,138.5 1134.9,138.3 1132.3,138.4 1130.8,138.7 1131,139.2 1132.7,139.7 1135.4,139.9 1138,139.8 1139.5,139.5 1139.3,139ZM1128.2,140.8 1125.5,140.5 1122.9,140.6 1121.3,141 1121.5,141.5 1123.2,142 1125.9,142.2 1128.6,142.1 1130.1,141.7 1129.9,141.2Z" fill="#646265" stroke="#1b1a1c" stroke-width="0.8" stroke-linejoin="round"/>
<path d="M1178.7,144.8 1191.8,146.8 1192.4,141.1 1179.2,139.1Z" fill="#565457" stroke="#2a292b" stroke-width="0.4" stroke-linejoin="round"/>
<path d="M1191.8,146.8 1193.2,146.9 1193.8,141.2 1192.4,141.1Z" fill="url(#pw)" stroke="#2a292b" stroke-width="0.4" stroke-linejoin="round"/>
<path d="M1192.4,141.1 1193.8,141.2 1210.3,137 1207.3,136.7 1202.6,136.4 1198,136.2 1193.6,136.4 1189.9,136.7 1187,137.2 1179.2,139.1Z" fill="#343235" stroke="#161517" stroke-width="0.7" stroke-linejoin="round"/>
<path d="M1201.1,136.3 1198.4,136.1 1195.9,136.2 1194.5,136.5 1194.8,137 1196.6,137.5 1199.4,137.7 1201.9,137.6 1203.3,137.3 1203,136.8ZM1192.4,138.5 1189.6,138.3 1187.1,138.4 1185.6,138.7 1185.9,139.2 1187.8,139.7 1190.5,139.9 1193.1,139.8 1194.5,139.5 1194.2,139Z" fill="#646265" stroke="#1b1a1c" stroke-width="0.8" stroke-linejoin="round"/>
<path d="M860.3,154.6 870.7,152.5 870.8,146.6 860.3,148.7Z" fill="#565457" stroke="#2a292b" stroke-width="0.4" stroke-linejoin="round"/>
<path d="M835.7,154.7 838.3,155.1 842.7,155.5 847.5,155.6 852.2,155.5 856.5,155.1 860.3,154.6 860.3,148.7 856.6,149.3 852.2,149.6 847.5,149.8 842.8,149.6 838.3,149.3 835.7,148.9Z" fill="url(#pw)" stroke="#2a292b" stroke-width="0.4" stroke-linejoin="round"/>
<path d="M859.9,144.6 858.7,144.4 835.7,148.9 838.3,149.3 842.8,149.6 847.5,149.8 852.2,149.6 856.6,149.3 860.3,148.7 870.8,146.6Z" fill="#343235" stroke="#161517" stroke-width="0.7" stroke-linejoin="round"/>
<path d="M862.8,146 860.3,145.8 857.5,145.9 855.6,146.3 855.2,146.8 856.5,147.3 859.1,147.5 861.8,147.4 863.7,147 864.1,146.5ZM850.6,148.4 848.1,148.2 845.3,148.3 843.4,148.6 842.9,149.2 844.3,149.7 846.8,149.9 849.6,149.8 851.5,149.4 851.9,148.9Z" fill="#646265" stroke="#1b1a1c" stroke-width="0.8" stroke-linejoin="round"/>
<path d="M942,154.6 951.9,152.5 952.1,146.7 942.2,148.7ZM904.9,152.5 916.3,154.6 916.4,148.7 905,146.7Z" fill="#565457" stroke="#2a292b" stroke-width="0.4" stroke-linejoin="round"/>
<path d="M916.3,154.6 920.2,155.1 924.8,155.5 929.5,155.6 934.2,155.5 938.5,155.1 942,154.6 942.2,148.7 938.7,149.3 934.4,149.6 929.7,149.8 924.9,149.6 920.4,149.3 916.4,148.7Z" fill="url(#pw)" stroke="#2a292b" stroke-width="0.4" stroke-linejoin="round"/>
<path d="M942.2,148.7 952.1,146.7 940.5,144.6 936.6,144.1 932.1,143.7 927.4,143.6 922.9,143.7 918.7,144.1 915.1,144.6 905,146.7 916.4,148.7 920.4,149.3 924.9,149.6 929.7,149.8 934.4,149.6 938.7,149.3Z" fill="#343235" stroke="#161517" stroke-width="0.7" stroke-linejoin="round"/>
<path d="M930.6,143.7 928.1,143.5 925.4,143.5 923.6,143.9 923.3,144.4 924.7,144.9 927.3,145.1 930,145.1 931.8,144.7 932.1,144.2ZM919.2,146 916.6,145.8 913.9,145.9 912,146.3 911.8,146.8 913.2,147.3 915.7,147.5 918.5,147.4 920.3,147 920.6,146.5ZM943.9,146 941.3,145.8 938.6,145.9 936.7,146.3 936.5,146.8 938,147.3 940.6,147.5 943.3,147.4 945.1,147.1 945.3,146.5ZM932.4,148.4 929.8,148.2 927.1,148.3 925.2,148.6 925,149.2 926.4,149.7 929,149.9 931.8,149.8 933.7,149.5 933.9,148.9Z" fill="#646265" stroke="#1b1a1c" stroke-width="0.8" stroke-linejoin="round"/>
<path d="M1023.8,154.6 1033,152.5 1033.3,146.7 1024.1,148.7ZM986.1,152.5 998.1,154.6 998.3,148.7 986.3,146.7Z" fill="#565457" stroke="#2a292b" stroke-width="0.4" stroke-linejoin="round"/>
<path d="M998.1,154.6 1002.2,155.2 1006.8,155.5 1011.6,155.6 1016.3,155.5 1020.4,155.2 1023.8,154.6 1024.1,148.7 1020.7,149.3 1016.6,149.7 1011.9,149.8 1007.1,149.7 1002.5,149.3 998.3,148.7Z" fill="url(#pw)" stroke="#2a292b" stroke-width="0.4" stroke-linejoin="round"/>
<path d="M1024.1,148.7 1033.3,146.7 1021.1,144.6 1017,144.1 1012.5,143.7 1007.8,143.6 1003.2,143.7 999.1,144.1 995.7,144.6 986.3,146.7 998.3,148.7 1002.5,149.3 1007.1,149.7 1011.9,149.8 1016.6,149.7 1020.7,149.3Z" fill="#343235" stroke="#161517" stroke-width="0.7" stroke-linejoin="round"/>
<path d="M1011,143.7 1008.4,143.5 1005.7,143.6 1004,143.9 1003.9,144.4 1005.5,144.9 1008.1,145.2 1010.8,145.1 1012.5,144.7 1012.6,144.2ZM1000.2,146.1 997.6,145.8 994.9,145.9 993.2,146.3 993.1,146.8 994.6,147.3 997.3,147.5 1000,147.4 1001.7,147.1 1001.8,146.5ZM1024.9,146.1 1022.3,145.8 1019.6,145.9 1017.9,146.3 1017.8,146.8 1019.4,147.3 1022.1,147.5 1024.8,147.4 1026.5,147.1 1026.6,146.5ZM1014.2,148.4 1011.6,148.2 1008.8,148.3 1007.1,148.7 1007,149.2 1008.6,149.7 1011.3,149.9 1014,149.9 1015.8,149.5 1015.8,148.9Z" fill="#646265" stroke="#1b1a1c" stroke-width="0.8" stroke-linejoin="round"/>
<path d="M1105.6,154.6 1114.1,152.5 1114.6,146.7 1106,148.8ZM1067.2,152.5 1079.8,154.6 1080.2,148.7 1067.6,146.7Z" fill="#565457" stroke="#2a292b" stroke-width="0.4" stroke-linejoin="round"/>
<path d="M1079.8,154.6 1084.1,155.2 1088.9,155.5 1093.7,155.7 1098.3,155.5 1102.4,155.2 1105.6,154.6 1106,148.8 1102.8,149.3 1098.7,149.7 1094.1,149.8 1089.3,149.7 1084.5,149.3 1080.2,148.7Z" fill="url(#pw)" stroke="#2a292b" stroke-width="0.4" stroke-linejoin="round"/>
<path d="M1106,148.8 1114.6,146.7 1101.8,144.6 1097.5,144.1 1092.8,143.8 1088.1,143.6 1083.6,143.8 1079.6,144.1 1076.4,144.6 1067.6,146.7 1080.2,148.7 1084.5,149.3 1089.3,149.7 1094.1,149.8 1098.7,149.7 1102.8,149.3Z" fill="#343235" stroke="#161517" stroke-width="0.7" stroke-linejoin="round"/>
<path d="M1091.3,143.7 1088.7,143.5 1086,143.6 1084.4,143.9 1084.5,144.5 1086.2,144.9 1088.9,145.2 1091.6,145.1 1093.2,144.7 1093.1,144.2ZM1081.3,146.1 1078.6,145.8 1075.9,145.9 1074.3,146.3 1074.4,146.8 1076.1,147.3 1078.8,147.5 1081.5,147.5 1083.1,147.1 1083,146.5ZM1106,146.1 1103.3,145.8 1100.6,145.9 1099,146.3 1099.1,146.8 1100.9,147.3 1103.6,147.5 1106.3,147.5 1107.9,147.1 1107.8,146.5ZM1096,148.4 1093.3,148.2 1090.6,148.3 1089,148.7 1089.1,149.2 1090.8,149.7 1093.6,149.9 1096.3,149.9 1097.9,149.5 1097.8,148.9Z" fill="#646265" stroke="#1b1a1c" stroke-width="0.8" stroke-linejoin="round"/>
<path d="M1148.3,152.5 1161.6,154.6 1162.1,148.8 1148.8,146.7Z" fill="#565457" stroke="#2a292b" stroke-width="0.4" stroke-linejoin="round"/>
<path d="M1161.6,154.6 1163,154.8 1163.5,148.9 1162.1,148.8Z" fill="url(#pw)" stroke="#2a292b" stroke-width="0.4" stroke-linejoin="round"/>
<path d="M1162.1,148.8 1163.5,148.9 1181,144.5 1178,144.1 1173.2,143.8 1168.4,143.6 1164,143.8 1160.1,144.1 1157,144.6 1148.8,146.7Z" fill="#343235" stroke="#161517" stroke-width="0.7" stroke-linejoin="round"/>
<path d="M1171.7,143.7 1168.9,143.5 1166.3,143.6 1164.8,143.9 1165.1,144.5 1166.9,144.9 1169.7,145.2 1172.3,145.1 1173.8,144.7 1173.6,144.2ZM1162.4,146.1 1159.6,145.8 1157,145.9 1155.5,146.3 1155.7,146.8 1157.5,147.3 1160.3,147.5 1163,147.5 1164.5,147.1 1164.3,146.6Z" fill="#646265" stroke="#1b1a1c" stroke-width="0.8" stroke-linejoin="round"/>
<path d="M819,162.9 830.2,160.6 830.2,154.7 819,156.9Z" fill="#565457" stroke="#2a292b" stroke-width="0.4" stroke-linejoin="round"/>
<path d="M793.7,163.1 796.3,163.5 800.8,163.9 805.7,164 810.6,163.9 815.1,163.5 819,162.9 819,156.9 815.1,157.5 810.5,157.8 805.6,158 800.8,157.8 796.3,157.5 793.6,157.1Z" fill="url(#pw)" stroke="#2a292b" stroke-width="0.4" stroke-linejoin="round"/>
<path d="M819.2,152.5 818,152.3 793.6,157.1 796.3,157.5 800.8,157.8 805.6,158 810.5,157.8 815.1,157.5 819,156.9 830.2,154.7Z" fill="#343235" stroke="#161517" stroke-width="0.7" stroke-linejoin="round"/>
<path d="M822,154 819.5,153.8 816.6,153.9 814.6,154.3 814.1,154.8 815.4,155.3 817.9,155.6 820.8,155.5 822.8,155.1 823.3,154.5ZM809.1,156.6 806.5,156.3 803.7,156.4 801.6,156.8 801,157.4 802.3,157.9 804.9,158.1 807.8,158.1 809.9,157.6 810.4,157.1Z" fill="#646265" stroke="#1b1a1c" stroke-width="0.8" stroke-linejoin="round"/>
<path d="M903.3,162.9 913.7,160.6 913.9,154.7 903.4,156.9ZM865.4,160.6 876.8,162.9 876.8,156.9 865.4,154.7Z" fill="#565457" stroke="#2a292b" stroke-width="0.4" stroke-linejoin="round"/>
<path d="M876.8,162.9 880.8,163.5 885.4,163.9 890.3,164 895.1,163.9 899.5,163.5 903.3,162.9 903.4,156.9 899.7,157.5 895.2,157.9 890.4,158 885.4,157.9 880.8,157.5 876.8,156.9Z" fill="url(#pw)" stroke="#2a292b" stroke-width="0.4" stroke-linejoin="round"/>
<path d="M903.4,156.9 913.9,154.7 902.3,152.5 898.3,151.9 893.7,151.6 889,151.5 884.2,151.6 879.8,151.9 876.1,152.5 865.4,154.7 876.8,156.9 880.8,157.5 885.4,157.9 890.4,158 895.2,157.9 899.7,157.5Z" fill="#343235" stroke="#161517" stroke-width="0.7" stroke-linejoin="round"/>
<path d="M892.2,151.5 889.6,151.3 886.9,151.4 884.9,151.8 884.6,152.3 886,152.8 888.6,153.1 891.4,153 893.3,152.6 893.6,152ZM880.1,154 877.5,153.8 874.7,153.9 872.7,154.3 872.3,154.8 873.7,155.3 876.3,155.6 879.2,155.5 881.1,155.1 881.5,154.5ZM905.5,154 902.9,153.8 900.1,153.9 898.1,154.3 897.8,154.8 899.3,155.3 901.9,155.6 904.7,155.5 906.7,155.1 907,154.5ZM893.4,156.6 890.7,156.3 887.9,156.4 885.9,156.8 885.6,157.4 887,157.9 889.7,158.2 892.5,158.1 894.5,157.7 894.8,157.1Z" fill="#646265" stroke="#1b1a1c" stroke-width="0.8" stroke-linejoin="round"/>
<path d="M987.5,162.9 997.3,160.7 997.6,154.7 987.8,156.9ZM948.9,160.7 961,162.9 961.2,156.9 949.1,154.7Z" fill="#565457" stroke="#2a292b" stroke-width="0.4" stroke-linejoin="round"/>
<path d="M961,162.9 965.2,163.5 969.9,163.9 974.8,164 979.6,163.9 984,163.5 987.5,162.9 987.8,156.9 984.2,157.5 979.9,157.9 975.1,158 970.1,157.9 965.4,157.5 961.2,156.9Z" fill="url(#pw)" stroke="#2a292b" stroke-width="0.4" stroke-linejoin="round"/>
<path d="M987.8,156.9 997.6,154.7 985.3,152.5 981.2,152 976.5,151.6 971.7,151.5 967,151.6 962.7,151.9 959.2,152.5 949.1,154.7 961.2,156.9 965.4,157.5 970.1,157.9 975.1,158 979.9,157.9 984.2,157.5Z" fill="#343235" stroke="#161517" stroke-width="0.7" stroke-linejoin="round"/>
<path d="M975,151.6 972.3,151.3 969.6,151.4 967.7,151.8 967.6,152.3 969.1,152.8 971.8,153.1 974.6,153 976.4,152.6 976.5,152.1ZM963.6,154 960.9,153.8 958.1,153.9 956.3,154.3 956.1,154.8 957.6,155.3 960.3,155.6 963.1,155.5 965,155.1 965.1,154.5ZM989,154 986.3,153.8 983.5,153.9 981.7,154.3 981.6,154.8 983.2,155.3 985.9,155.6 988.7,155.5 990.5,155.1 990.6,154.6ZM977.7,156.6 974.9,156.3 972.1,156.4 970.3,156.8 970.1,157.4 971.7,157.9 974.4,158.2 977.3,158.1 979.1,157.7 979.3,157.1Z" fill="#646265" stroke="#1b1a1c" stroke-width="0.8" stroke-linejoin="round"/>
<path d="M1071.8,162.9 1080.9,160.7 1081.3,154.7 1072.2,156.9ZM1032.5,160.7 1045.3,162.9 1045.6,156.9 1032.9,154.7Z" fill="#565457" stroke="#2a292b" stroke-width="0.4" stroke-linejoin="round"/>
<path d="M1045.3,162.9 1049.6,163.5 1054.5,163.9 1059.4,164 1064.2,163.9 1068.4,163.5 1071.8,162.9 1072.2,156.9 1068.8,157.5 1064.6,157.9 1059.8,158 1054.8,157.9 1050,157.5 1045.6,156.9Z" fill="url(#pw)" stroke="#2a292b" stroke-width="0.4" stroke-linejoin="round"/>
<path d="M1072.2,156.9 1081.3,154.7 1068.4,152.5 1064,152 1059.3,151.6 1054.4,151.5 1049.8,151.6 1045.6,152 1042.2,152.5 1032.9,154.7 1045.6,156.9 1050,157.5 1054.8,157.9 1059.8,158 1064.6,157.9 1068.8,157.5Z" fill="#343235" stroke="#161517" stroke-width="0.7" stroke-linejoin="round"/>
<path d="M1057.8,151.6 1055,151.3 1052.3,151.4 1050.6,151.8 1050.6,152.3 1052.3,152.8 1055,153.1 1057.8,153 1059.5,152.6 1059.5,152.1ZM1047.1,154.1 1044.4,153.8 1041.6,153.9 1039.9,154.3 1039.8,154.8 1041.5,155.4 1044.3,155.6 1047.1,155.5 1048.8,155.1 1048.8,154.6ZM1072.6,154.1 1069.8,153.8 1067,153.9 1065.3,154.3 1065.4,154.8 1067.1,155.4 1069.9,155.6 1072.7,155.5 1074.4,155.1 1074.3,154.6ZM1062,156.6 1059.2,156.3 1056.4,156.4 1054.7,156.8 1054.7,157.4 1056.4,157.9 1059.2,158.2 1062,158.1 1063.7,157.7 1063.7,157.1Z" fill="#646265" stroke="#1b1a1c" stroke-width="0.8" stroke-linejoin="round"/>
<path d="M1116.1,160.7 1129.5,162.9 1130,156.9 1116.6,154.7Z" fill="#565457" stroke="#2a292b" stroke-width="0.4" stroke-linejoin="round"/>
<path d="M1129.5,162.9 1130.9,163.1 1131.4,157.1 1130,156.9Z" fill="url(#pw)" stroke="#2a292b" stroke-width="0.4" stroke-linejoin="round"/>
<path d="M1130,156.9 1131.4,157.1 1150,152.4 1146.9,152 1142.1,151.6 1137.2,151.5 1132.5,151.6 1128.5,152 1125.3,152.5 1116.6,154.7Z" fill="#343235" stroke="#161517" stroke-width="0.7" stroke-linejoin="round"/>
<path d="M1140.5,151.6 1137.7,151.3 1135,151.4 1133.4,151.8 1133.6,152.4 1135.4,152.9 1138.3,153.1 1141,153 1142.6,152.6 1142.4,152.1ZM1130.6,154.1 1127.8,153.8 1125.1,153.9 1123.5,154.3 1123.6,154.9 1125.5,155.4 1128.3,155.6 1131.1,155.5 1132.7,155.1 1132.5,154.6Z" fill="#646265" stroke="#1b1a1c" stroke-width="0.8" stroke-linejoin="round"/>
<path d="M775.2,171.7 787,169.3 787,163.2 775.1,165.5Z" fill="#565457" stroke="#2a292b" stroke-width="0.4" stroke-linejoin="round"/>
<path d="M749.1,171.9 751.7,172.4 756.3,172.8 761.3,172.9 766.3,172.8 771.1,172.4 775.2,171.7 775.1,165.5 771,166.2 766.2,166.6 761.1,166.7 756.1,166.6 751.6,166.2 748.9,165.7Z" fill="url(#pw)" stroke="#2a292b" stroke-width="0.4" stroke-linejoin="round"/>
<path d="M776,160.9 774.8,160.7 748.9,165.7 751.6,166.2 756.1,166.6 761.1,166.7 766.2,166.6 771,166.2 775.1,165.5 787,163.2Z" fill="#343235" stroke="#161517" stroke-width="0.7" stroke-linejoin="round"/>
<path d="M778.7,162.5 776.1,162.2 773.1,162.3 771,162.8 770.4,163.3 771.6,163.9 774.2,164.2 777.2,164.1 779.3,163.6 779.9,163ZM764.9,165.2 762.3,164.9 759.4,165 757.1,165.4 756.5,166.1 757.7,166.6 760.3,166.9 763.3,166.8 765.5,166.4 766.2,165.7Z" fill="#646265" stroke="#1b1a1c" stroke-width="0.8" stroke-linejoin="round"/>
<path d="M862.1,171.7 873.2,169.3 873.3,163.2 862.2,165.6ZM823.3,169.3 834.8,171.7 834.8,165.5 823.3,163.2Z" fill="#565457" stroke="#2a292b" stroke-width="0.4" stroke-linejoin="round"/>
<path d="M834.8,171.7 838.8,172.4 843.5,172.8 848.5,172.9 853.5,172.8 858.2,172.4 862.1,171.7 862.2,165.6 858.2,166.2 853.6,166.6 848.5,166.7 843.5,166.6 838.8,166.2 834.8,165.5Z" fill="url(#pw)" stroke="#2a292b" stroke-width="0.4" stroke-linejoin="round"/>
<path d="M862.2,165.6 873.3,163.2 861.6,160.9 857.6,160.3 853,159.9 848.1,159.8 843.2,159.9 838.6,160.3 834.7,160.9 823.3,163.2 834.8,165.5 838.8,166.2 843.5,166.6 848.5,166.7 853.6,166.6 858.2,166.2Z" fill="#343235" stroke="#161517" stroke-width="0.7" stroke-linejoin="round"/>
<path d="M851.5,159.9 848.8,159.6 845.9,159.7 843.9,160.1 843.5,160.7 844.8,161.2 847.5,161.5 850.4,161.4 852.4,161 852.8,160.4ZM838.5,162.5 835.9,162.2 833,162.3 830.9,162.8 830.4,163.4 831.8,163.9 834.4,164.2 837.4,164.1 839.5,163.7 839.9,163.1ZM864.8,162.5 862.1,162.2 859.2,162.3 857.1,162.8 856.7,163.4 858.1,163.9 860.8,164.2 863.7,164.1 865.8,163.7 866.2,163.1ZM851.9,165.2 849.2,164.9 846.2,165 844.1,165.5 843.7,166.1 845.1,166.6 847.8,166.9 850.7,166.8 852.8,166.4 853.3,165.8Z" fill="#646265" stroke="#1b1a1c" stroke-width="0.8" stroke-linejoin="round"/>
<path d="M949,171.7 959.4,169.4 959.6,163.2 949.2,165.6ZM909.5,169.4 921.6,171.7 921.8,165.6 909.7,163.2Z" fill="#565457" stroke="#2a292b" stroke-width="0.4" stroke-linejoin="round"/>
<path d="M921.6,171.7 925.9,172.4 930.7,172.8 935.7,172.9 940.7,172.8 945.2,172.4 949,171.7 949.2,165.6 945.4,166.2 940.9,166.6 935.9,166.7 930.8,166.6 926,166.2 921.8,165.6Z" fill="url(#pw)" stroke="#2a292b" stroke-width="0.4" stroke-linejoin="round"/>
<path d="M949.2,165.6 959.6,163.2 947.3,160.9 943.1,160.3 938.3,159.9 933.4,159.8 928.5,159.9 924.1,160.3 920.3,160.9 909.7,163.2 921.8,165.6 926,166.2 930.8,166.6 935.9,166.7 940.9,166.6 945.4,166.2Z" fill="#343235" stroke="#161517" stroke-width="0.7" stroke-linejoin="round"/>
<path d="M936.8,159.9 934.1,159.6 931.2,159.7 929.3,160.1 929,160.7 930.5,161.2 933.3,161.5 936.1,161.4 938.1,161 938.3,160.4ZM924.7,162.5 921.9,162.3 919,162.3 917.1,162.8 916.8,163.4 918.3,163.9 921,164.2 924,164.1 925.9,163.7 926.2,163.1ZM950.9,162.5 948.1,162.3 945.3,162.4 943.3,162.8 943.1,163.4 944.7,163.9 947.4,164.2 950.3,164.1 952.3,163.7 952.5,163.1ZM938.8,165.2 936,164.9 933.1,165 931.2,165.5 930.9,166.1 932.5,166.6 935.2,166.9 938.2,166.8 940.1,166.4 940.4,165.8Z" fill="#646265" stroke="#1b1a1c" stroke-width="0.8" stroke-linejoin="round"/>
<path d="M1035.9,171.8 1045.6,169.4 1046,163.2 1036.2,165.6ZM995.7,169.4 1008.5,171.8 1008.9,165.6 996,163.2Z" fill="#565457" stroke="#2a292b" stroke-width="0.4" stroke-linejoin="round"/>
<path d="M1008.5,171.8 1013,172.4 1017.9,172.8 1023,173 1027.9,172.8 1032.3,172.4 1035.9,171.8 1036.2,165.6 1032.7,166.2 1028.3,166.6 1023.3,166.7 1018.2,166.6 1013.3,166.2 1008.9,165.6Z" fill="url(#pw)" stroke="#2a292b" stroke-width="0.4" stroke-linejoin="round"/>
<path d="M1036.2,165.6 1046,163.2 1032.9,160.9 1028.5,160.3 1023.7,159.9 1018.7,159.8 1013.8,159.9 1009.5,160.3 1005.9,160.9 996,163.2 1008.9,165.6 1013.3,166.2 1018.2,166.6 1023.3,166.7 1028.3,166.6 1032.7,166.2Z" fill="#343235" stroke="#161517" stroke-width="0.7" stroke-linejoin="round"/>
<path d="M1022.1,159.9 1019.3,159.6 1016.5,159.7 1014.7,160.1 1014.6,160.7 1016.3,161.3 1019.1,161.5 1021.9,161.4 1023.7,161 1023.8,160.4ZM1010.8,162.5 1008,162.3 1005.1,162.4 1003.3,162.8 1003.2,163.4 1004.9,163.9 1007.7,164.2 1010.6,164.1 1012.4,163.7 1012.5,163.1ZM1037,162.5 1034.2,162.3 1031.3,162.4 1029.5,162.8 1029.5,163.4 1031.2,163.9 1034.1,164.2 1036.9,164.1 1038.7,163.7 1038.8,163.1ZM1025.7,165.2 1022.9,165 1020,165.1 1018.2,165.5 1018.1,166.1 1019.8,166.6 1022.7,166.9 1025.6,166.8 1027.4,166.4 1027.5,165.8Z" fill="#646265" stroke="#1b1a1c" stroke-width="0.8" stroke-linejoin="round"/>
<path d="M1081.9,169.4 1095.5,171.8 1095.9,165.6 1082.3,163.2Z" fill="#565457" stroke="#2a292b" stroke-width="0.4" stroke-linejoin="round"/>
<path d="M1095.5,171.8 1096.9,172 1097.3,165.8 1095.9,165.6Z" fill="url(#pw)" stroke="#2a292b" stroke-width="0.4" stroke-linejoin="round"/>
<path d="M1095.9,165.6 1097.3,165.8 1117.1,160.8 1114,160.3 1109,159.9 1104,159.8 1099.2,159.9 1094.9,160.3 1091.6,160.9 1082.3,163.2Z" fill="#343235" stroke="#161517" stroke-width="0.7" stroke-linejoin="round"/>
<path d="M1107.4,159.9 1104.5,159.6 1101.7,159.7 1100.1,160.2 1100.2,160.7 1102,161.3 1104.9,161.5 1107.7,161.4 1109.4,161 1109.3,160.4ZM1096.9,162.6 1094,162.3 1091.2,162.4 1089.5,162.8 1089.6,163.4 1091.4,163.9 1094.3,164.2 1097.2,164.1 1098.9,163.7 1098.8,163.1Z" fill="#646265" stroke="#1b1a1c" stroke-width="0.8" stroke-linejoin="round"/>
<path d="M728.5,181.1 741.2,178.6 741,172.3 728.4,174.8Z" fill="#565457" stroke="#2a292b" stroke-width="0.4" stroke-linejoin="round"/>
<path d="M701.5,181.3 704.2,181.8 708.8,182.3 713.9,182.4 719.2,182.3 724.2,181.8 728.5,181.1 728.4,174.8 724,175.4 719,175.9 713.7,176 708.6,175.9 703.9,175.4 701.3,175Z" fill="url(#pw)" stroke="#2a292b" stroke-width="0.4" stroke-linejoin="round"/>
<path d="M730.1,169.8 728.9,169.6 701.3,175 703.9,175.4 708.6,175.9 713.7,176 719,175.9 724,175.4 728.4,174.8 741,172.3Z" fill="#343235" stroke="#161517" stroke-width="0.7" stroke-linejoin="round"/>
<path d="M732.5,171.5 729.9,171.2 726.9,171.3 724.5,171.8 723.8,172.4 725,173 727.6,173.3 730.7,173.2 733,172.7 733.7,172.1ZM717.9,174.4 715.3,174.1 712.2,174.2 709.8,174.7 709.1,175.3 710.2,175.9 712.9,176.2 716,176.1 718.3,175.6 719.1,175Z" fill="#646265" stroke="#1b1a1c" stroke-width="0.8" stroke-linejoin="round"/>
<path d="M818.2,181.1 830.1,178.6 830.1,172.3 818.2,174.8ZM778.6,178.6 790,181.1 789.9,174.8 778.5,172.3Z" fill="#565457" stroke="#2a292b" stroke-width="0.4" stroke-linejoin="round"/>
<path d="M790,181.1 794.1,181.8 798.8,182.3 804,182.4 809.2,182.3 814.1,181.8 818.2,181.1 818.2,174.8 814,175.5 809.2,175.9 804,176 798.8,175.9 794,175.5 789.9,174.8Z" fill="url(#pw)" stroke="#2a292b" stroke-width="0.4" stroke-linejoin="round"/>
<path d="M818.2,174.8 830.1,172.3 818.4,169.8 814.4,169.2 809.7,168.8 804.7,168.6 799.6,168.8 794.8,169.2 790.6,169.8 778.5,172.3 789.9,174.8 794,175.5 798.8,175.9 804,176 809.2,175.9 814,175.5Z" fill="#343235" stroke="#161517" stroke-width="0.7" stroke-linejoin="round"/>
<path d="M808.1,168.7 805.4,168.4 802.4,168.5 800.3,169 799.7,169.6 801,170.2 803.7,170.5 806.7,170.4 808.9,169.9 809.4,169.3ZM794.3,171.5 791.7,171.3 788.6,171.4 786.4,171.8 785.8,172.4 787.1,173 789.8,173.3 792.9,173.2 795.1,172.8 795.7,172.1ZM821.4,171.5 818.7,171.3 815.7,171.4 813.5,171.8 813,172.4 814.3,173 817.1,173.3 820.1,173.2 822.3,172.8 822.8,172.1ZM807.7,174.4 804.9,174.1 801.9,174.2 799.6,174.7 799.1,175.3 800.4,175.9 803.2,176.2 806.2,176.1 808.5,175.6 809,175Z" fill="#646265" stroke="#1b1a1c" stroke-width="0.8" stroke-linejoin="round"/>
<path d="M908,181.2 919,178.6 919.2,172.3 908.1,174.8ZM867.6,178.6 879.7,181.2 879.8,174.8 867.6,172.3Z" fill="#565457" stroke="#2a292b" stroke-width="0.4" stroke-linejoin="round"/>
<path d="M879.7,181.2 884,181.8 888.9,182.3 894.1,182.4 899.3,182.3 904,181.9 908,181.2 908.1,174.8 904.1,175.5 899.4,175.9 894.2,176 889,175.9 884.1,175.5 879.8,174.8Z" fill="url(#pw)" stroke="#2a292b" stroke-width="0.4" stroke-linejoin="round"/>
<path d="M908.1,174.8 919.2,172.3 906.8,169.8 902.6,169.2 897.7,168.8 892.6,168.6 887.6,168.8 882.9,169.2 879,169.8 867.6,172.3 879.8,174.8 884.1,175.5 889,175.9 894.2,176 899.4,175.9 904.1,175.5Z" fill="#343235" stroke="#161517" stroke-width="0.7" stroke-linejoin="round"/>
<path d="M896.1,168.7 893.4,168.5 890.4,168.6 888.3,169 888,169.6 889.5,170.2 892.3,170.5 895.2,170.4 897.3,169.9 897.6,169.3ZM883.2,171.6 880.5,171.3 877.5,171.4 875.4,171.8 875,172.5 876.5,173 879.2,173.3 882.3,173.2 884.4,172.8 884.7,172.1ZM910.3,171.6 907.5,171.3 904.5,171.4 902.5,171.8 902.1,172.5 903.7,173 906.5,173.3 909.5,173.2 911.5,172.8 911.8,172.1ZM897.4,174.4 894.6,174.1 891.6,174.2 889.5,174.7 889.1,175.3 890.7,175.9 893.5,176.2 896.5,176.1 898.6,175.7 898.9,175Z" fill="#646265" stroke="#1b1a1c" stroke-width="0.8" stroke-linejoin="round"/>
<path d="M997.7,181.2 1008,178.6 1008.3,172.3 998,174.8ZM956.5,178.6 969.4,181.2 969.7,174.8 956.7,172.3Z" fill="#565457" stroke="#2a292b" stroke-width="0.4" stroke-linejoin="round"/>
<path d="M969.4,181.2 973.9,181.9 978.9,182.3 984.2,182.4 989.3,182.3 993.9,181.9 997.7,181.2 998,174.8 994.2,175.5 989.6,175.9 984.5,176.1 979.2,175.9 974.2,175.5 969.7,174.8Z" fill="url(#pw)" stroke="#2a292b" stroke-width="0.4" stroke-linejoin="round"/>
<path d="M998,174.8 1008.3,172.3 995.2,169.9 990.7,169.2 985.8,168.8 980.6,168.7 975.6,168.8 971.1,169.2 967.4,169.9 956.7,172.3 969.7,174.8 974.2,175.5 979.2,175.9 984.5,176.1 989.6,175.9 994.2,175.5Z" fill="#343235" stroke="#161517" stroke-width="0.7" stroke-linejoin="round"/>
<path d="M984.1,168.8 981.3,168.5 978.4,168.6 976.5,169 976.3,169.6 978,170.2 980.8,170.5 983.8,170.4 985.7,169.9 985.8,169.3ZM972.1,171.6 969.2,171.3 966.3,171.4 964.3,171.8 964.1,172.5 965.8,173 968.7,173.3 971.7,173.2 973.6,172.8 973.8,172.1ZM999.2,171.6 996.3,171.3 993.3,171.4 991.4,171.8 991.3,172.5 993,173 995.9,173.3 998.9,173.2 1000.8,172.8 1000.9,172.1ZM987.2,174.4 984.3,174.1 981.3,174.2 979.3,174.7 979.2,175.4 980.9,175.9 983.8,176.2 986.8,176.1 988.8,175.7 988.9,175Z" fill="#646265" stroke="#1b1a1c" stroke-width="0.8" stroke-linejoin="round"/>
<path d="M1045.5,178.6 1059.2,181.2 1059.6,174.8 1045.9,172.3Z" fill="#565457" stroke="#2a292b" stroke-width="0.4" stroke-linejoin="round"/>
<path d="M1059.2,181.2 1060.6,181.4 1061,175 1059.6,174.8Z" fill="url(#pw)" stroke="#2a292b" stroke-width="0.4" stroke-linejoin="round"/>
<path d="M1059.6,174.8 1061,175 1082.1,169.7 1078.9,169.2 1073.8,168.8 1068.6,168.7 1063.7,168.8 1059.3,169.2 1055.7,169.9 1045.9,172.3Z" fill="#343235" stroke="#161517" stroke-width="0.7" stroke-linejoin="round"/>
<path d="M1072.2,168.8 1069.2,168.5 1066.3,168.6 1064.6,169 1064.6,169.7 1066.4,170.2 1069.4,170.5 1072.3,170.4 1074.1,170 1074,169.3ZM1061,171.6 1058.1,171.3 1055.1,171.4 1053.3,171.8 1053.3,172.5 1055.1,173.1 1058.1,173.4 1061.1,173.3 1062.9,172.8 1062.8,172.2Z" fill="#646265" stroke="#1b1a1c" stroke-width="0.8" stroke-linejoin="round"/>
<path d="M678.8,191.2 692.2,188.5 692,182 678.5,184.6Z" fill="#565457" stroke="#2a292b" stroke-width="0.4" stroke-linejoin="round"/>
<path d="M650.8,191.4 653.4,191.9 658.2,192.4 663.4,192.5 668.9,192.4 674.1,191.9 678.8,191.2 678.5,184.6 673.8,185.3 668.6,185.8 663.1,185.9 657.8,185.8 653.1,185.3 650.5,184.8Z" fill="url(#pw)" stroke="#2a292b" stroke-width="0.4" stroke-linejoin="round"/>
<path d="M681.1,179.3 679.9,179.1 650.5,184.8 653.1,185.3 657.8,185.8 663.1,185.9 668.6,185.8 673.8,185.3 678.5,184.6 692,182Z" fill="#343235" stroke="#161517" stroke-width="0.7" stroke-linejoin="round"/>
<path d="M683.4,181.2 680.7,180.9 677.5,181 675.1,181.4 674.2,182.1 675.3,182.7 678,183.1 681.2,182.9 683.7,182.5 684.5,181.8ZM667.7,184.2 665.1,183.9 661.9,184 659.3,184.5 658.4,185.2 659.5,185.8 662.2,186.2 665.4,186 668,185.5 668.8,184.8Z" fill="#646265" stroke="#1b1a1c" stroke-width="0.8" stroke-linejoin="round"/>
<path d="M771.5,191.2 784.1,188.5 784,182 771.4,184.6ZM730.9,188.5 742.3,191.2 742.1,184.6 730.8,182Z" fill="#565457" stroke="#2a292b" stroke-width="0.4" stroke-linejoin="round"/>
<path d="M742.3,191.2 746.4,191.9 751.2,192.4 756.5,192.6 761.9,192.4 767,191.9 771.5,191.2 771.4,184.6 766.9,185.4 761.8,185.8 756.4,186 751.1,185.8 746.2,185.3 742.1,184.6Z" fill="url(#pw)" stroke="#2a292b" stroke-width="0.4" stroke-linejoin="round"/>
<path d="M771.4,184.6 784,182 772.4,179.3 768.3,178.7 763.5,178.2 758.3,178.1 753.1,178.2 748.1,178.6 743.7,179.3 730.8,182 742.1,184.6 746.2,185.3 751.1,185.8 756.4,186 761.8,185.8 766.9,185.4Z" fill="#343235" stroke="#161517" stroke-width="0.7" stroke-linejoin="round"/>
<path d="M761.9,178.2 759.2,177.9 756.1,178 753.7,178.4 753.1,179.1 754.3,179.7 757.1,180 760.2,179.9 762.5,179.4 763.2,178.8ZM747.2,181.2 744.5,180.9 741.3,181 739,181.5 738.3,182.1 739.5,182.7 742.2,183.1 745.4,183 747.8,182.5 748.5,181.8ZM775.2,181.2 772.4,180.9 769.3,181 767,181.5 766.3,182.1 767.6,182.8 770.4,183.1 773.5,183 775.9,182.5 776.5,181.8ZM760.5,184.2 757.7,183.9 754.5,184 752.2,184.5 751.5,185.2 752.8,185.8 755.6,186.2 758.7,186.1 761.1,185.6 761.8,184.9Z" fill="#646265" stroke="#1b1a1c" stroke-width="0.8" stroke-linejoin="round"/>
<path d="M864.2,191.2 876,188.5 876.1,182 864.2,184.6ZM822.8,188.5 835,191.2 835,184.6 822.8,182Z" fill="#565457" stroke="#2a292b" stroke-width="0.4" stroke-linejoin="round"/>
<path d="M835,191.2 839.3,191.9 844.3,192.4 849.7,192.6 855,192.4 860,191.9 864.2,191.2 864.2,184.6 860,185.4 855.1,185.8 849.7,186 844.3,185.8 839.3,185.4 835,184.6Z" fill="url(#pw)" stroke="#2a292b" stroke-width="0.4" stroke-linejoin="round"/>
<path d="M864.2,184.6 876.1,182 863.7,179.4 859.4,178.7 854.5,178.2 849.2,178.1 844,178.2 839.1,178.7 834.9,179.4 822.8,182 835,184.6 839.3,185.4 844.3,185.8 849.7,186 855.1,185.8 860,185.4Z" fill="#343235" stroke="#161517" stroke-width="0.7" stroke-linejoin="round"/>
<path d="M852.8,178.2 850,177.9 846.9,178 844.7,178.5 844.3,179.1 845.7,179.7 848.5,180 851.6,179.9 853.8,179.5 854.3,178.8ZM839,181.2 836.2,180.9 833.1,181 830.9,181.5 830.4,182.1 831.8,182.8 834.7,183.1 837.8,183 840,182.5 840.5,181.8ZM867,181.2 864.2,180.9 861.1,181 858.9,181.5 858.4,182.2 859.9,182.8 862.8,183.1 865.9,183 868.1,182.5 868.5,181.8ZM853.2,184.3 850.4,183.9 847.2,184 845,184.5 844.5,185.2 846,185.9 848.9,186.2 852.1,186.1 854.3,185.6 854.7,184.9Z" fill="#646265" stroke="#1b1a1c" stroke-width="0.8" stroke-linejoin="round"/>
<path d="M956.9,191.2 967.9,188.5 968.2,182 957.1,184.7ZM914.7,188.5 927.7,191.2 927.9,184.7 914.9,182Z" fill="#565457" stroke="#2a292b" stroke-width="0.4" stroke-linejoin="round"/>
<path d="M927.7,191.2 932.2,192 937.4,192.4 942.8,192.6 948.1,192.4 952.9,192 956.9,191.2 957.1,184.7 953.1,185.4 948.3,185.8 943,186 937.6,185.8 932.4,185.4 927.9,184.7Z" fill="url(#pw)" stroke="#2a292b" stroke-width="0.4" stroke-linejoin="round"/>
<path d="M957.1,184.7 968.2,182 954.9,179.4 950.5,178.7 945.4,178.2 940.1,178.1 934.9,178.2 930.2,178.7 926.2,179.4 914.9,182 927.9,184.7 932.4,185.4 937.6,185.8 943,186 948.3,185.8 953.1,185.4Z" fill="#343235" stroke="#161517" stroke-width="0.7" stroke-linejoin="round"/>
<path d="M943.7,178.2 940.8,177.9 937.8,178 935.7,178.5 935.5,179.1 937.1,179.7 940,180.1 943.1,179.9 945.1,179.5 945.4,178.8ZM930.9,181.2 928,180.9 924.9,181 922.8,181.5 922.5,182.2 924.1,182.8 927.1,183.1 930.2,183 932.2,182.5 932.5,181.8ZM958.8,181.2 955.9,180.9 952.8,181 950.8,181.5 950.6,182.2 952.3,182.8 955.2,183.1 958.3,183 960.3,182.5 960.5,181.8ZM946,184.3 943.1,184 940,184.1 937.9,184.6 937.6,185.2 939.3,185.9 942.3,186.2 945.4,186.1 947.5,185.6 947.7,184.9Z" fill="#646265" stroke="#1b1a1c" stroke-width="0.8" stroke-linejoin="round"/>
<path d="M1006.7,188.5 1020.4,191.2 1020.8,184.7 1007,182Z" fill="#565457" stroke="#2a292b" stroke-width="0.4" stroke-linejoin="round"/>
<path d="M1020.4,191.2 1021.9,191.5 1022.3,184.9 1020.8,184.7Z" fill="url(#pw)" stroke="#2a292b" stroke-width="0.4" stroke-linejoin="round"/>
<path d="M1020.8,184.7 1022.3,184.9 1044.8,179.2 1041.5,178.7 1036.3,178.3 1031,178.1 1025.9,178.3 1021.3,178.7 1017.5,179.4 1007,182Z" fill="#343235" stroke="#161517" stroke-width="0.7" stroke-linejoin="round"/>
<path d="M1034.6,178.2 1031.7,177.9 1028.6,178 1026.7,178.5 1026.7,179.2 1028.5,179.8 1031.5,180.1 1034.6,180 1036.4,179.5 1036.5,178.8ZM1022.7,181.2 1019.7,180.9 1016.7,181 1014.7,181.5 1014.6,182.2 1016.5,182.8 1019.5,183.1 1022.6,183 1024.5,182.5 1024.5,181.8Z" fill="#646265" stroke="#1b1a1c" stroke-width="0.8" stroke-linejoin="round"/>
<path d="M625.5,201.9 639.9,199 639.6,192.3 625.1,195.1Z" fill="#565457" stroke="#2a292b" stroke-width="0.4" stroke-linejoin="round"/>
<path d="M596.5,202.2 599.2,202.7 604,203.2 609.4,203.4 615.1,203.2 620.6,202.7 625.5,201.9 625.1,195.1 620.2,195.9 614.7,196.4 609,196.6 603.6,196.4 598.7,195.9 596.1,195.4Z" fill="url(#pw)" stroke="#2a292b" stroke-width="0.4" stroke-linejoin="round"/>
<path d="M628.8,189.5 627.6,189.3 596.1,195.4 598.7,195.9 603.6,196.4 609,196.6 614.7,196.4 620.2,195.9 625.1,195.1 639.6,192.3Z" fill="#343235" stroke="#161517" stroke-width="0.7" stroke-linejoin="round"/>
<path d="M630.8,191.5 628.1,191.1 624.8,191.2 622.2,191.8 621.2,192.5 622.2,193.1 624.9,193.5 628.2,193.4 630.9,192.8 631.9,192.1ZM614.1,194.7 611.4,194.4 608,194.5 605.3,195 604.3,195.8 605.3,196.5 608,196.8 611.4,196.7 614.1,196.1 615.1,195.4Z" fill="#646265" stroke="#1b1a1c" stroke-width="0.8" stroke-linejoin="round"/>
<path d="M721.4,201.9 735,199 734.8,192.3 721.2,195.2ZM680,199 691.2,201.9 691,195.2 679.7,192.3Z" fill="#565457" stroke="#2a292b" stroke-width="0.4" stroke-linejoin="round"/>
<path d="M691.2,201.9 695.3,202.7 700.3,203.2 705.8,203.4 711.4,203.2 716.7,202.7 721.4,201.9 721.2,195.2 716.5,195.9 711.2,196.4 705.5,196.6 700,196.4 695.1,195.9 691,195.2Z" fill="url(#pw)" stroke="#2a292b" stroke-width="0.4" stroke-linejoin="round"/>
<path d="M721.2,195.2 734.8,192.3 723.2,189.5 719.1,188.8 714.3,188.3 708.9,188.1 703.4,188.3 698.2,188.8 693.5,189.5 679.7,192.3 691,195.2 695.1,195.9 700,196.4 705.5,196.6 711.2,196.4 716.5,195.9Z" fill="#343235" stroke="#161517" stroke-width="0.7" stroke-linejoin="round"/>
<path d="M712.6,188.3 709.8,187.9 706.6,188 704.1,188.5 703.3,189.3 704.5,189.9 707.2,190.2 710.5,190.1 713,189.6 713.8,188.9ZM696.8,191.5 694.1,191.1 690.8,191.2 688.3,191.8 687.4,192.5 688.6,193.1 691.4,193.5 694.7,193.4 697.2,192.8 698.1,192.1ZM725.8,191.5 723,191.1 719.7,191.3 717.2,191.8 716.4,192.5 717.7,193.2 720.5,193.5 723.8,193.4 726.3,192.9 727,192.1ZM710,194.7 707.2,194.4 703.9,194.5 701.4,195.1 700.6,195.8 701.8,196.5 704.6,196.8 707.9,196.7 710.5,196.2 711.3,195.4Z" fill="#646265" stroke="#1b1a1c" stroke-width="0.8" stroke-linejoin="round"/>
<path d="M817.4,201.9 830,199 830,192.3 817.3,195.2ZM775,199 787.2,201.9 787.1,195.2 774.9,192.3Z" fill="#565457" stroke="#2a292b" stroke-width="0.4" stroke-linejoin="round"/>
<path d="M787.2,201.9 791.5,202.7 796.6,203.2 802.1,203.4 807.7,203.2 812.9,202.7 817.4,201.9 817.3,195.2 812.9,195.9 807.7,196.4 802.1,196.6 796.5,196.4 791.4,195.9 787.1,195.2Z" fill="url(#pw)" stroke="#2a292b" stroke-width="0.4" stroke-linejoin="round"/>
<path d="M817.3,195.2 830,192.3 817.6,189.5 813.3,188.8 808.3,188.3 802.9,188.2 797.4,188.3 792.3,188.8 787.9,189.5 774.9,192.3 787.1,195.2 791.4,195.9 796.5,196.4 802.1,196.6 807.7,196.4 812.9,195.9Z" fill="#343235" stroke="#161517" stroke-width="0.7" stroke-linejoin="round"/>
<path d="M806.5,188.3 803.7,187.9 800.5,188.1 798.2,188.6 797.6,189.3 799,189.9 801.8,190.3 805.1,190.1 807.4,189.6 808,188.9ZM791.8,191.5 789,191.1 785.7,191.3 783.3,191.8 782.7,192.5 784.1,193.2 787,193.5 790.2,193.4 792.6,192.9 793.2,192.1ZM820.8,191.5 817.9,191.2 814.6,191.3 812.3,191.8 811.7,192.5 813.2,193.2 816.1,193.5 819.3,193.4 821.7,192.9 822.2,192.1ZM806,194.8 803.1,194.4 799.8,194.5 797.5,195.1 796.9,195.8 798.3,196.5 801.2,196.8 804.5,196.7 806.9,196.2 807.5,195.4Z" fill="#646265" stroke="#1b1a1c" stroke-width="0.8" stroke-linejoin="round"/>
<path d="M913.3,202 925.1,199.1 925.3,192.3 913.5,195.2ZM870.1,199 883.1,202 883.2,195.2 870.2,192.3Z" fill="#565457" stroke="#2a292b" stroke-width="0.4" stroke-linejoin="round"/>
<path d="M883.1,202 887.7,202.7 892.9,203.2 898.5,203.4 904,203.2 909.1,202.8 913.3,202 913.5,195.2 909.2,196 904.2,196.5 898.6,196.6 893,196.5 887.8,196 883.2,195.2Z" fill="url(#pw)" stroke="#2a292b" stroke-width="0.4" stroke-linejoin="round"/>
<path d="M913.5,195.2 925.3,192.3 912,189.5 907.4,188.8 902.3,188.3 896.8,188.2 891.4,188.3 886.5,188.8 882.3,189.5 870.2,192.3 883.2,195.2 887.8,196 893,196.5 898.6,196.6 904.2,196.5 909.2,196Z" fill="#343235" stroke="#161517" stroke-width="0.7" stroke-linejoin="round"/>
<path d="M900.5,188.3 897.6,188 894.4,188.1 892.2,188.6 891.9,189.3 893.5,189.9 896.4,190.3 899.6,190.2 901.8,189.6 902.2,188.9ZM886.8,191.5 883.8,191.2 880.6,191.3 878.4,191.8 878,192.5 879.6,193.2 882.6,193.5 885.8,193.4 888,192.9 888.4,192.1ZM915.7,191.5 912.7,191.2 909.5,191.3 907.4,191.8 907,192.5 908.7,193.2 911.7,193.5 914.9,193.4 917.1,192.9 917.4,192.2ZM902,194.8 899,194.4 895.8,194.6 893.5,195.1 893.2,195.8 894.8,196.5 897.8,196.8 901.1,196.7 903.3,196.2 903.7,195.4Z" fill="#646265" stroke="#1b1a1c" stroke-width="0.8" stroke-linejoin="round"/>
<path d="M965.2,199.1 979,202 979.3,195.2 965.4,192.3Z" fill="#565457" stroke="#2a292b" stroke-width="0.4" stroke-linejoin="round"/>
<path d="M979,202 980.5,202.2 980.8,195.4 979.3,195.2Z" fill="url(#pw)" stroke="#2a292b" stroke-width="0.4" stroke-linejoin="round"/>
<path d="M979.3,195.2 980.8,195.4 1004.9,189.3 1001.6,188.8 996.3,188.3 990.8,188.2 985.5,188.3 980.6,188.8 976.7,189.5 965.4,192.3Z" fill="#343235" stroke="#161517" stroke-width="0.7" stroke-linejoin="round"/>
<path d="M994.6,188.3 991.5,188 988.4,188.1 986.3,188.6 986.2,189.3 988,190 991.1,190.3 994.2,190.2 996.2,189.7 996.4,188.9ZM981.8,191.5 978.7,191.2 975.6,191.3 973.5,191.8 973.3,192.5 975.1,193.2 978.2,193.5 981.4,193.4 983.4,192.9 983.6,192.2Z" fill="#646265" stroke="#1b1a1c" stroke-width="0.8" stroke-linejoin="round"/>
<path d="M568.5,213.4 583.9,210.3 583.4,203.4 567.9,206.4Z" fill="#565457" stroke="#2a292b" stroke-width="0.4" stroke-linejoin="round"/>
<path d="M566.8,213.7 568.5,213.4 567.9,206.4 566.3,206.7Z" fill="url(#pw)" stroke="#2a292b" stroke-width="0.4" stroke-linejoin="round"/>
<path d="M572.8,200.4 571.6,200.1 554.9,203.4 566.3,206.7 567.9,206.4 583.4,203.4Z" fill="#343235" stroke="#161517" stroke-width="0.7" stroke-linejoin="round"/>
<path d="M574.5,202.5 571.8,202.1 568.4,202.2 565.5,202.8 564.3,203.6 565.3,204.3 568,204.6 571.5,204.5 574.3,204 575.5,203.2Z" fill="#646265" stroke="#1b1a1c" stroke-width="0.8" stroke-linejoin="round"/>
<path d="M667.8,213.4 682.3,210.3 682,203.4 667.5,206.5ZM625.4,210.3 636.5,213.4 636.2,206.4 625,203.4Z" fill="#565457" stroke="#2a292b" stroke-width="0.4" stroke-linejoin="round"/>
<path d="M636.5,213.4 640.6,214.3 645.7,214.8 651.3,215 657.2,214.8 662.8,214.3 667.8,213.4 667.5,206.5 662.5,207.3 656.8,207.8 651,208 645.3,207.8 640.3,207.3 636.2,206.4Z" fill="url(#pw)" stroke="#2a292b" stroke-width="0.4" stroke-linejoin="round"/>
<path d="M667.5,206.5 682,203.4 670.5,200.4 666.5,199.6 661.5,199.1 656,198.9 650.3,199.1 644.8,199.6 639.8,200.4 625,203.4 636.2,206.4 640.3,207.3 645.3,207.8 651,208 656.8,207.8 662.5,207.3Z" fill="#343235" stroke="#161517" stroke-width="0.7" stroke-linejoin="round"/>
<path d="M659.7,199 656.9,198.7 653.6,198.8 650.9,199.4 649.9,200.1 651.1,200.8 653.9,201.2 657.3,201 660,200.5 660.9,199.7ZM642.9,202.5 640.1,202.1 636.7,202.3 634,202.8 633,203.6 634.1,204.3 636.9,204.7 640.3,204.5 643,204 644,203.2ZM672.9,202.5 670,202.1 666.6,202.3 663.9,202.8 663,203.6 664.2,204.3 667,204.7 670.5,204.5 673.1,204 674,203.2ZM656,206 653.1,205.6 649.7,205.8 647,206.3 646,207.1 647.1,207.9 650,208.2 653.4,208.1 656.2,207.5 657.2,206.7Z" fill="#646265" stroke="#1b1a1c" stroke-width="0.8" stroke-linejoin="round"/>
<path d="M767.2,213.5 780.8,210.3 780.7,203.4 767.1,206.5ZM723.8,210.3 735.9,213.5 735.7,206.5 723.6,203.4Z" fill="#565457" stroke="#2a292b" stroke-width="0.4" stroke-linejoin="round"/>
<path d="M735.9,213.5 740.3,214.3 745.5,214.8 751.2,215 757,214.8 762.4,214.3 767.2,213.5 767.1,206.5 762.3,207.3 756.8,207.8 751,208 745.3,207.8 740.1,207.3 735.7,206.5Z" fill="url(#pw)" stroke="#2a292b" stroke-width="0.4" stroke-linejoin="round"/>
<path d="M767.1,206.5 780.7,203.4 768.2,200.4 763.9,199.6 758.8,199.1 753.2,198.9 747.6,199.1 742.2,199.6 737.5,200.4 723.6,203.4 735.7,206.5 740.1,207.3 745.3,207.8 751,208 756.8,207.8 762.3,207.3Z" fill="#343235" stroke="#161517" stroke-width="0.7" stroke-linejoin="round"/>
<path d="M757,199.1 754.1,198.7 750.8,198.8 748.3,199.4 747.6,200.1 748.9,200.8 751.8,201.2 755.2,201.1 757.7,200.5 758.4,199.8ZM741.2,202.5 738.3,202.1 735,202.3 732.4,202.8 731.6,203.6 733,204.3 735.9,204.7 739.3,204.5 741.8,204 742.6,203.2ZM771.2,202.5 768.3,202.2 764.9,202.3 762.4,202.8 761.7,203.6 763.1,204.3 766,204.7 769.4,204.6 771.9,204 772.6,203.2ZM755.4,206 752.4,205.7 749,205.8 746.5,206.4 745.7,207.1 747.1,207.9 750.1,208.2 753.5,208.1 756.1,207.5 756.8,206.7Z" fill="#646265" stroke="#1b1a1c" stroke-width="0.8" stroke-linejoin="round"/>
<path d="M866.6,213.5 879.2,210.4 879.3,203.4 866.6,206.5ZM822.2,210.4 835.3,213.5 835.3,206.5 822.2,203.4Z" fill="#565457" stroke="#2a292b" stroke-width="0.4" stroke-linejoin="round"/>
<path d="M835.3,213.5 839.9,214.3 845.3,214.9 851,215 856.7,214.9 862.1,214.3 866.6,213.5 866.6,206.5 862.1,207.3 856.8,207.8 851.1,208 845.3,207.8 839.9,207.3 835.3,206.5Z" fill="url(#pw)" stroke="#2a292b" stroke-width="0.4" stroke-linejoin="round"/>
<path d="M866.6,206.5 879.3,203.4 866,200.4 861.4,199.6 856.1,199.1 850.5,199 844.9,199.1 839.7,199.6 835.2,200.4 822.2,203.4 835.3,206.5 839.9,207.3 845.3,207.8 851.1,208 856.8,207.8 862.1,207.3Z" fill="#343235" stroke="#161517" stroke-width="0.7" stroke-linejoin="round"/>
<path d="M854.3,199.1 851.3,198.7 848,198.8 845.7,199.4 845.2,200.2 846.8,200.8 849.8,201.2 853.1,201.1 855.4,200.5 855.9,199.8ZM839.6,202.5 836.6,202.2 833.3,202.3 830.9,202.8 830.3,203.6 831.9,204.3 834.9,204.7 838.3,204.6 840.7,204 841.2,203.2ZM869.6,202.5 866.5,202.2 863.2,202.3 860.8,202.8 860.4,203.6 862,204.3 865.1,204.7 868.4,204.6 870.8,204 871.2,203.2ZM854.8,206 851.8,205.7 848.4,205.8 846,206.4 845.5,207.2 847.1,207.9 850.2,208.3 853.6,208.1 856,207.6 856.5,206.8Z" fill="#646265" stroke="#1b1a1c" stroke-width="0.8" stroke-linejoin="round"/>
<path d="M920.7,210.4 934.7,213.5 934.9,206.5 920.9,203.4Z" fill="#565457" stroke="#2a292b" stroke-width="0.4" stroke-linejoin="round"/>
<path d="M934.7,213.5 936.2,213.8 936.4,206.8 934.9,206.5Z" fill="url(#pw)" stroke="#2a292b" stroke-width="0.4" stroke-linejoin="round"/>
<path d="M934.9,206.5 936.4,206.8 962.2,200.2 958.9,199.6 953.4,199.1 947.8,199 942.2,199.1 937.2,199.6 932.9,200.4 920.9,203.4Z" fill="#343235" stroke="#161517" stroke-width="0.7" stroke-linejoin="round"/>
<path d="M951.6,199.1 948.5,198.7 945.3,198.9 943.1,199.4 942.8,200.2 944.6,200.9 947.7,201.2 951,201.1 953.2,200.5 953.4,199.8ZM938,202.5 934.8,202.2 931.5,202.3 929.3,202.9 929,203.6 930.8,204.3 933.9,204.7 937.3,204.6 939.5,204 939.7,203.2Z" fill="#646265" stroke="#1b1a1c" stroke-width="0.8" stroke-linejoin="round"/>
<path d="M610.2,225.8 625.8,222.5 625.4,215.3 609.7,218.6Z" fill="#565457" stroke="#2a292b" stroke-width="0.4" stroke-linejoin="round"/>
<path d="M608.5,226.1 610.2,225.8 609.7,218.6 608.1,218.9Z" fill="url(#pw)" stroke="#2a292b" stroke-width="0.4" stroke-linejoin="round"/>
<path d="M587.5,211.2 583.8,211.8 608.1,218.9 609.7,218.6 625.4,215.3 614,212.1 609.9,211.2 604.9,210.7 599.2,210.5 593.3,210.7Z" fill="#343235" stroke="#161517" stroke-width="0.7" stroke-linejoin="round"/>
<path d="M603.1,210.6 600.2,210.3 596.7,210.4 593.9,211 592.7,211.8 593.8,212.5 596.6,212.9 600.2,212.8 603,212.2 604.1,211.4ZM616,214.3 613.2,213.9 609.6,214.1 606.7,214.7 605.6,215.5 606.7,216.3 609.6,216.7 613.2,216.5 616.1,215.9 617.1,215.1Z" fill="#646265" stroke="#1b1a1c" stroke-width="0.8" stroke-linejoin="round"/>
<path d="M713.3,225.8 727.9,222.5 727.7,215.3 713,218.6ZM668.8,222.5 680.8,225.8 680.5,218.6 668.5,215.3Z" fill="#565457" stroke="#2a292b" stroke-width="0.4" stroke-linejoin="round"/>
<path d="M680.8,225.8 685.2,226.7 690.5,227.3 696.4,227.5 702.4,227.3 708.2,226.7 713.3,225.8 713,218.6 707.9,219.5 702.2,220.1 696.1,220.3 690.2,220.1 684.9,219.5 680.5,218.6Z" fill="url(#pw)" stroke="#2a292b" stroke-width="0.4" stroke-linejoin="round"/>
<path d="M713,218.6 727.7,215.3 715.3,212.1 710.9,211.2 705.7,210.7 700,210.5 694.1,210.7 688.5,211.2 683.4,212.1 668.5,215.3 680.5,218.6 684.9,219.5 690.2,220.1 696.1,220.3 702.2,220.1 707.9,219.5Z" fill="#343235" stroke="#161517" stroke-width="0.7" stroke-linejoin="round"/>
<path d="M703.9,210.6 701,210.3 697.5,210.4 694.8,211 693.9,211.8 695.2,212.5 698.1,212.9 701.6,212.8 704.3,212.2 705.2,211.4ZM686.9,214.3 684,214 680.5,214.1 677.7,214.7 676.8,215.5 678,216.3 681,216.7 684.6,216.5 687.3,215.9 688.2,215.1ZM718,214.3 715,214 711.5,214.1 708.8,214.7 708,215.5 709.3,216.3 712.3,216.7 715.8,216.5 718.5,215.9 719.3,215.1ZM701,218.1 698,217.7 694.5,217.9 691.7,218.5 690.8,219.3 692.1,220.1 695.1,220.5 698.7,220.4 701.4,219.8 702.3,218.9Z" fill="#646265" stroke="#1b1a1c" stroke-width="0.8" stroke-linejoin="round"/>
<path d="M816.3,225.9 830,222.5 830,215.3 816.3,218.6ZM770.9,222.5 783.9,225.8 783.8,218.6 770.8,215.3Z" fill="#565457" stroke="#2a292b" stroke-width="0.4" stroke-linejoin="round"/>
<path d="M783.9,225.8 788.5,226.8 794,227.3 800,227.5 805.9,227.3 811.5,226.8 816.3,225.9 816.3,218.6 811.5,219.5 805.9,220.1 799.9,220.3 793.9,220.1 788.4,219.5 783.8,218.6Z" fill="url(#pw)" stroke="#2a292b" stroke-width="0.4" stroke-linejoin="round"/>
<path d="M816.3,218.6 830,215.3 816.6,212.1 812,211.2 806.6,210.7 800.8,210.5 795,210.7 789.5,211.2 784.7,212.1 770.8,215.3 783.8,218.6 788.4,219.5 793.9,220.1 799.9,220.3 805.9,220.1 811.5,219.5Z" fill="#343235" stroke="#161517" stroke-width="0.7" stroke-linejoin="round"/>
<path d="M804.8,210.7 801.7,210.3 798.3,210.4 795.8,211 795.1,211.8 796.6,212.6 799.7,212.9 803.2,212.8 805.7,212.2 806.3,211.4ZM788.9,214.4 785.9,214 782.4,214.1 779.8,214.7 779.1,215.5 780.6,216.3 783.7,216.7 787.2,216.6 789.8,215.9 790.4,215.1ZM820,214.4 816.9,214 813.4,214.1 810.9,214.7 810.3,215.5 811.9,216.3 815,216.7 818.5,216.6 821,216 821.6,215.1ZM804.2,218.1 801,217.7 797.5,217.9 794.9,218.5 794.3,219.4 795.8,220.1 799,220.5 802.5,220.4 805.1,219.8 805.7,218.9Z" fill="#646265" stroke="#1b1a1c" stroke-width="0.8" stroke-linejoin="round"/>
<path d="M873,222.5 887,225.9 887.1,218.6 873,215.3Z" fill="#565457" stroke="#2a292b" stroke-width="0.4" stroke-linejoin="round"/>
<path d="M887,225.9 888.5,226.1 888.6,218.9 887.1,218.6Z" fill="url(#pw)" stroke="#2a292b" stroke-width="0.4" stroke-linejoin="round"/>
<path d="M887.1,218.6 888.6,218.9 916.4,211.8 913,211.3 907.5,210.7 901.6,210.5 895.8,210.7 890.5,211.3 886,212.1 873,215.3Z" fill="#343235" stroke="#161517" stroke-width="0.7" stroke-linejoin="round"/>
<path d="M905.6,210.7 902.4,210.3 899,210.4 896.7,211 896.3,211.8 898.1,212.6 901.2,213 904.7,212.8 907,212.2 907.4,211.4ZM890.9,214.4 887.7,214 884.3,214.1 881.9,214.7 881.5,215.6 883.2,216.3 886.4,216.7 889.9,216.6 892.3,216 892.6,215.1Z" fill="#646265" stroke="#1b1a1c" stroke-width="0.8" stroke-linejoin="round"/>
<path d="M655.2,239.2 670.9,235.5 670.6,228.1 654.8,231.7Z" fill="#565457" stroke="#2a292b" stroke-width="0.4" stroke-linejoin="round"/>
<path d="M653.5,239.5 655.2,239.2 654.8,231.7 653.1,232Z" fill="url(#pw)" stroke="#2a292b" stroke-width="0.4" stroke-linejoin="round"/>
<path d="M630.6,223.7 626.9,224.4 653.1,232 654.8,231.7 670.6,228.1 658.3,224.6 654,223.7 648.6,223.1 642.7,223 636.6,223.1Z" fill="#343235" stroke="#161517" stroke-width="0.7" stroke-linejoin="round"/>
<path d="M646.8,223.1 643.8,222.7 640.2,222.8 637.3,223.5 636.2,224.3 637.4,225.1 640.4,225.6 644,225.4 646.9,224.8 648,223.9ZM660.7,227.1 657.7,226.7 654,226.8 651.1,227.5 650.1,228.4 651.3,229.2 654.4,229.6 658.1,229.5 661,228.8 662,227.9Z" fill="#646265" stroke="#1b1a1c" stroke-width="0.8" stroke-linejoin="round"/>
<path d="M762.2,239.2 776.9,235.6 776.8,228.1 762.1,231.7ZM715.6,235.6 728.5,239.2 728.3,231.7 715.3,228.1Z" fill="#565457" stroke="#2a292b" stroke-width="0.4" stroke-linejoin="round"/>
<path d="M728.5,239.2 733.2,240.2 738.8,240.8 744.9,241 751.2,240.8 757.1,240.2 762.2,239.2 762.1,231.7 756.9,232.7 751,233.3 744.8,233.5 738.6,233.3 733,232.7 728.3,231.7Z" fill="url(#pw)" stroke="#2a292b" stroke-width="0.4" stroke-linejoin="round"/>
<path d="M762.1,231.7 776.8,228.1 763.5,224.7 758.8,223.7 753.3,223.2 747.3,223 741.3,223.2 735.5,223.7 730.4,224.7 715.3,228.1 728.3,231.7 733,232.7 738.6,233.3 744.8,233.5 751,233.3 756.9,232.7Z" fill="#343235" stroke="#161517" stroke-width="0.7" stroke-linejoin="round"/>
<path d="M751.4,223.1 748.3,222.7 744.7,222.8 742,223.5 741.2,224.4 742.7,225.2 745.8,225.6 749.4,225.4 752.1,224.8 752.9,223.9ZM734.4,227.1 731.2,226.7 727.6,226.8 724.8,227.5 724,228.4 725.4,229.2 728.5,229.6 732.2,229.5 735,228.8 735.8,227.9ZM766.6,227.1 763.5,226.7 759.8,226.8 757.1,227.5 756.4,228.4 757.8,229.2 761,229.6 764.7,229.5 767.4,228.8 768.1,227.9ZM749.5,231.2 746.4,230.8 742.7,230.9 739.9,231.6 739.1,232.5 740.6,233.3 743.8,233.8 747.5,233.6 750.2,232.9 751,232Z" fill="#646265" stroke="#1b1a1c" stroke-width="0.8" stroke-linejoin="round"/>
<path d="M821.6,235.6 835.6,239.2 835.6,231.7 821.6,228.2Z" fill="#565457" stroke="#2a292b" stroke-width="0.4" stroke-linejoin="round"/>
<path d="M835.6,239.2 837.1,239.5 837.2,232 835.6,231.7Z" fill="url(#pw)" stroke="#2a292b" stroke-width="0.4" stroke-linejoin="round"/>
<path d="M835.6,231.7 837.2,232 867.1,224.4 863.7,223.8 858,223.2 852,223 845.9,223.2 840.3,223.8 835.5,224.7 821.6,228.2Z" fill="#343235" stroke="#161517" stroke-width="0.7" stroke-linejoin="round"/>
<path d="M856.1,223.1 852.9,222.7 849.3,222.9 846.8,223.5 846.3,224.4 848,225.2 851.2,225.6 854.8,225.4 857.3,224.8 857.8,223.9ZM840.3,227.1 837,226.7 833.4,226.8 830.8,227.5 830.3,228.4 831.9,229.2 835.2,229.6 838.8,229.5 841.4,228.8 841.9,227.9Z" fill="#646265" stroke="#1b1a1c" stroke-width="0.8" stroke-linejoin="round"/>
<path d="M703.8,253.6 719.7,249.7 719.4,242 703.5,245.8Z" fill="#565457" stroke="#2a292b" stroke-width="0.4" stroke-linejoin="round"/>
<path d="M702.1,253.9 703.8,253.6 703.5,245.8 701.8,246.2Z" fill="url(#pw)" stroke="#2a292b" stroke-width="0.4" stroke-linejoin="round"/>
<path d="M677.2,237.2 673.5,237.9 701.8,246.2 703.5,245.8 719.4,242 706.2,238.2 701.5,237.2 695.9,236.6 689.7,236.4 683.3,236.6Z" fill="#343235" stroke="#161517" stroke-width="0.7" stroke-linejoin="round"/>
<path d="M693.9,236.5 690.7,236.1 687,236.3 684.1,236.9 683.1,237.9 684.4,238.8 687.6,239.2 691.4,239.1 694.3,238.4 695.3,237.4ZM709,240.9 705.8,240.4 702,240.6 699.1,241.3 698.1,242.2 699.5,243.1 702.8,243.6 706.6,243.4 709.5,242.7 710.4,241.7Z" fill="#646265" stroke="#1b1a1c" stroke-width="0.8" stroke-linejoin="round"/>
<path d="M766.1,249.7 780.1,253.6 780,245.8 765.9,242Z" fill="#565457" stroke="#2a292b" stroke-width="0.4" stroke-linejoin="round"/>
<path d="M780.1,253.6 781.6,253.9 781.5,246.2 780,245.8Z" fill="url(#pw)" stroke="#2a292b" stroke-width="0.4" stroke-linejoin="round"/>
<path d="M780,245.8 781.5,246.2 813.9,237.9 810.5,237.3 804.7,236.6 798.4,236.4 792.1,236.6 786.2,237.2 781,238.2 765.9,242Z" fill="#343235" stroke="#161517" stroke-width="0.7" stroke-linejoin="round"/>
<path d="M802.7,236.6 799.4,236.1 795.7,236.3 793,237 792.3,237.9 793.9,238.8 797.2,239.2 800.9,239.1 803.7,238.4 804.3,237.4ZM785.6,240.9 782.3,240.4 778.5,240.6 775.7,241.3 775,242.3 776.6,243.1 779.9,243.6 783.7,243.4 786.5,242.7 787.2,241.8Z" fill="#646265" stroke="#1b1a1c" stroke-width="0.8" stroke-linejoin="round"/>
<path d="M727.6,251.8 723.8,252.6 739,257 756.3,252.6 752.9,251.8 747,251.2 740.5,250.9 733.9,251.2Z" fill="#343235" stroke="#161517" stroke-width="0.7" stroke-linejoin="round"/>
<path d="M744.9,251.1 741.5,250.6 737.7,250.8 734.7,251.5 733.8,252.6 735.4,253.5 738.7,254 742.7,253.8 745.6,253.1 746.5,252Z" fill="#646265" stroke="#1b1a1c" stroke-width="0.8" stroke-linejoin="round"/>
<path d="M587.4,457.3L622,445.6" stroke="#0e0e0e" stroke-width="6.6" stroke-linecap="round" fill="none"/>
<path d="M587.4,457.3L622,445.6" stroke="#c9252d" stroke-width="5.4" stroke-linecap="round" fill="none"/>
<path d="M591.8,459.8L613.0,453.4" stroke="#0e0e0e" stroke-width="6.6" stroke-linecap="round" fill="none"/>
<path d="M591.8,459.8L613.0,453.4" stroke="#1f1e20" stroke-width="5.4" stroke-linecap="round" fill="none"/>
<path d="M600.3,463.9L634,452.6" stroke="#0e0e0e" stroke-width="6.6" stroke-linecap="round" fill="none"/>
<path d="M600.3,463.9L634,452.6" stroke="#c9252d" stroke-width="5.4" stroke-linecap="round" fill="none"/>
<path d="M604.9,466.4L626.5,459.9" stroke="#0e0e0e" stroke-width="6.6" stroke-linecap="round" fill="none"/>
<path d="M604.9,466.4L626.5,459.9" stroke="#1f1e20" stroke-width="5.4" stroke-linecap="round" fill="none"/>
<path d="M736.6,294.3 741.5,292.9 746.2,474.9 741.5,476.8Z" fill="#d3d1d1" stroke="#1c1b1d" stroke-width="0.5" stroke-linejoin="round"/>
<path d="M736.6,294.3 741.5,292.9 556.7,234 551.9,235Z" fill="#a09e9e" stroke="#1c1b1d" stroke-width="0.5" stroke-linejoin="round"/>
<path d="M736.6,294.3 551.9,235 564.5,395.2 741.5,476.8Z" fill="#c2bfbf" stroke="#1c1b1d" stroke-width="0.6" stroke-linejoin="round"/>
<path d="M705,308.6 704.4,304.9 704.7,301.4 705.7,298.5 707.4,296.4 709.5,295.5 727.1,290.7 729.6,290.9 732.1,292.3 734.4,294.6 736.2,297.8 737.5,301.5 738,305.2 737.7,308.7 736.6,311.6 734.9,313.6 732.7,314.5 715.2,319.6 712.8,319.3 710.3,317.9 708,315.4 706.2,312.2Z" fill="url(#br)" stroke="#1c1b1d" stroke-width="0.6" stroke-linejoin="round"/>
<path d="M719.6,315.1 737.1,310" fill="none" stroke="#7a5a12" stroke-width="0.6"/>
<path d="M718.9,303.6 736.5,298.7" fill="none" stroke="#7a5a12" stroke-width="0.6"/>
<path d="M540.1,252.5 539.5,249.2 539.6,246.1 540.2,243.5 541.3,241.6 542.9,240.7 559.8,237.1 561.6,237.2 563.6,238.3 565.4,240.3 566.9,243 568,246.2 568.5,249.5 568.4,252.6 567.8,255.2 566.6,257 565,257.9 548.2,261.7 546.3,261.6 544.5,260.4 542.7,258.4 541.2,255.7Z" fill="url(#br)" stroke="#1c1b1d" stroke-width="0.6" stroke-linejoin="round"/>
<path d="M551.2,257.6 568.1,253.7" fill="none" stroke="#7a5a12" stroke-width="0.6"/>
<path d="M550.1,247.5 567.1,243.7" fill="none" stroke="#7a5a12" stroke-width="0.6"/>
<path d="M710.8,470 710.3,466.5 710.5,463.4 711.5,460.9 713.1,459.3 729.8,452.9 731.9,452.4 734.2,452.9 736.6,454.5 738.8,456.9 740.6,460.1 741.8,463.5 742.2,467 741.9,470.1 740.9,472.6 739.3,474.1 722.7,480.8 720.6,481.3 718.3,480.7 715.9,479.1 713.7,476.6 712,473.5Z" fill="url(#br)" stroke="#1c1b1d" stroke-width="0.6" stroke-linejoin="round"/>
<path d="M724.8,477.9 741.5,471.2" fill="none" stroke="#7a5a12" stroke-width="0.6"/>
<path d="M724.1,467.4 740.8,460.9" fill="none" stroke="#7a5a12" stroke-width="0.6"/>
<path d="M551.9,395.8 551.3,392.8 551.4,390 552,387.7 553.1,386.1 554.6,385.5 570.7,380.6 572.5,381 574.4,382.2 576.1,384.3 577.6,387 578.6,390.1 579.1,393.1 579.1,395.9 578.4,398.2 577.3,399.7 575.7,400.3 559.7,405.4 557.9,405 556.1,403.7 554.3,401.6 552.9,398.9Z" fill="url(#br)" stroke="#1c1b1d" stroke-width="0.6" stroke-linejoin="round"/>
<path d="M562.6,402 578.7,396.9" fill="none" stroke="#7a5a12" stroke-width="0.6"/>
<path d="M561.6,392.7 577.8,387.7" fill="none" stroke="#7a5a12" stroke-width="0.6"/>
<path d="M714.7,300.5 719.8,299.1 725.6,483.2 720.8,485.1Z" fill="#006d00" stroke="#1c1b1d" stroke-width="0.5" stroke-linejoin="round"/>
<path d="M714.7,300.5 719.8,299.1 536.7,238.9 531.8,239.9Z" fill="#006d00" stroke="#1c1b1d" stroke-width="0.5" stroke-linejoin="round"/>
<path d="M714.7,300.5 531.8,239.9 545.5,401.8 720.8,485.1Z" fill="#008001" stroke="#1c1b1d" stroke-width="0.6" stroke-linejoin="round"/>
<path d="M684.5,314.4 683.9,310.6 684.2,307.1 685.2,304.1 686.8,302.1 688.9,301.2 704.4,296.9 706.9,297.1 709.4,298.5 711.7,301 713.6,304.2 714.8,307.9 715.3,311.7 715.1,315.2 714,318.1 712.3,320.1 710.2,321 694.8,325.5 692.3,325.2 689.9,323.8 687.6,321.3 685.7,318.1Z" fill="url(#br)" stroke="#1c1b1d" stroke-width="0.6" stroke-linejoin="round"/>
<path d="M699.1,321 714.6,316.5" fill="none" stroke="#7a5a12" stroke-width="0.6"/>
<path d="M698.3,309.4 713.8,305" fill="none" stroke="#7a5a12" stroke-width="0.6"/>
<path d="M520.4,256.9 519.8,253.5 519.8,250.4 520.4,247.8 521.5,245.9 523,245 537.9,241.8 539.8,241.9 541.7,243 543.5,245.1 545,247.8 546.1,251 546.7,254.4 546.6,257.5 546,260.1 544.8,261.9 543.3,262.8 528.5,266.2 526.7,266.1 524.8,264.9 523,262.8 521.5,260.1Z" fill="url(#br)" stroke="#1c1b1d" stroke-width="0.6" stroke-linejoin="round"/>
<path d="M531.4,262 546.3,258.7" fill="none" stroke="#7a5a12" stroke-width="0.6"/>
<path d="M530.3,251.8 545.2,248.6" fill="none" stroke="#7a5a12" stroke-width="0.6"/>
<path d="M691.3,477.6 690.8,474.1 691.1,471 692,468.5 693.6,466.8 708.3,461.2 710.3,460.6 712.7,461.2 715.1,462.8 717.3,465.3 719.1,468.5 720.3,472 720.8,475.6 720.5,478.7 719.5,481.2 717.9,482.8 703.3,488.6 701.2,489.1 698.8,488.5 696.5,486.8 694.3,484.3 692.5,481.1Z" fill="url(#br)" stroke="#1c1b1d" stroke-width="0.6" stroke-linejoin="round"/>
<path d="M705.4,485.7 720,479.8" fill="none" stroke="#7a5a12" stroke-width="0.6"/>
<path d="M704.6,475.1 719.3,469.3" fill="none" stroke="#7a5a12" stroke-width="0.6"/>
<path d="M533.1,401.6 532.6,398.5 532.6,395.7 533.2,393.4 534.2,391.9 535.7,391.3 549.9,386.9 551.7,387.3 553.5,388.6 555.3,390.7 556.7,393.5 557.8,396.5 558.3,399.6 558.3,402.5 557.7,404.8 556.5,406.3 555,406.8 540.9,411.3 539.2,410.9 537.3,409.6 535.6,407.4 534.1,404.7Z" fill="url(#br)" stroke="#1c1b1d" stroke-width="0.6" stroke-linejoin="round"/>
<path d="M543.8,408 558,403.5" fill="none" stroke="#7a5a12" stroke-width="0.6"/>
<path d="M542.8,398.5 557,394.2" fill="none" stroke="#7a5a12" stroke-width="0.6"/>
<path d="M694.2,306 699.4,304.5 706.5,491.9 701.5,493.9Z" fill="#d3d1d1" stroke="#1c1b1d" stroke-width="0.5" stroke-linejoin="round"/>
<path d="M694.2,306 699.4,304.5 517.5,242.9 512.5,244Z" fill="#a09e9e" stroke="#1c1b1d" stroke-width="0.5" stroke-linejoin="round"/>
<path d="M694.2,306 512.5,244 527.3,408.6 701.5,493.9Z" fill="#c2bfbf" stroke="#1c1b1d" stroke-width="0.6" stroke-linejoin="round"/>
<path d="M679.4,312.4 679.6,309.2 680.4,306.6 681.9,304.7 683.8,303.9 686,304.1 688.3,305.4 690.4,307.6 692.1,310.6 693.2,313.9 693.7,317.4 693.5,320.6 692.6,323.3 691.1,325.1 689.1,325.9 686.9,325.6 684.7,324.3 682.7,322.1 681,319.2 679.9,315.8Z" fill="#e3b53a" stroke="#3a2e0e" stroke-width="0.7" stroke-linejoin="round"/>
<path d="M686.5,314.9L681.5,310.8M686.5,314.9L684.6,307M686.5,314.9L687.8,308.1M686.5,314.9L691.3,314.2M686.5,314.9L691.5,319M686.5,314.9L688.4,322.8M686.5,314.9L685.2,321.7M686.5,314.9L681.7,315.6" stroke="#3a2e0e" stroke-width="0.6" fill="none"/>
<path d="M682.9,313.6L690.1,316.1M686.3,309.5L686.7,320.3" stroke="#2b2b2b" stroke-width="2.4" fill="none"/>
<path d="M682.9,313.6L690.1,316.1M686.3,309.5L686.7,320.3" stroke="#d9d9d9" stroke-width="1.3" fill="none"/>
<path d="M515.2,254.9 515.2,252.1 515.8,249.7 516.8,248 518.1,247.2 519.8,247.3 521.5,248.3 523.1,250.2 524.5,252.7 525.5,255.6 526,258.6 526,261.5 525.4,263.9 524.4,265.5 523,266.3 521.4,266.2 519.7,265.1 518.1,263.3 516.8,260.8 515.8,257.9Z" fill="#e3b53a" stroke="#3a2e0e" stroke-width="0.7" stroke-linejoin="round"/>
<path d="M520.6,256.8L516.7,253.4M520.6,256.8L518.8,249.8M520.6,256.8L521.2,250.7M520.6,256.8L524.1,255.9M520.6,256.8L524.5,260.2M520.6,256.8L522.4,263.7M520.6,256.8L520,262.8M520.6,256.8L517.1,257.6" stroke="#3a2e0e" stroke-width="0.6" fill="none"/>
<path d="M517.9,255.8L523.3,257.7M520.2,252L521,261.5" stroke="#2b2b2b" stroke-width="2.4" fill="none"/>
<path d="M517.9,255.8L523.3,257.7M520.2,252L521,261.5" stroke="#d9d9d9" stroke-width="1.3" fill="none"/>
<path d="M686.5,476.5 686.7,473.6 687.5,471.4 689,469.9 690.8,469.4 692.9,469.9 695.1,471.4 697,473.7 698.7,476.6 699.7,479.9 700.2,483.1 700,485.9 699.1,488.2 697.7,489.6 695.8,490 693.7,489.5 691.6,488 689.6,485.7 688,482.8 686.9,479.6Z" fill="#e3b53a" stroke="#3a2e0e" stroke-width="0.7" stroke-linejoin="round"/>
<path d="M693.3,479.7L688.5,475.3M693.3,479.7L691.5,472.3M693.3,479.7L694.6,473.8M693.3,479.7L697.9,479.8M693.3,479.7L698.1,484.2M693.3,479.7L695.1,487.1M693.3,479.7L692.1,485.7M693.3,479.7L688.7,479.6" stroke="#3a2e0e" stroke-width="0.6" fill="none"/>
<path d="M689.9,478.1L696.7,481.4M693.1,474.8L693.5,484.6" stroke="#2b2b2b" stroke-width="2.4" fill="none"/>
<path d="M689.9,478.1L696.7,481.4M693.1,474.8L693.5,484.6" stroke="#d9d9d9" stroke-width="1.3" fill="none"/>
<path d="M528.2,400.3 528.2,397.8 528.8,395.7 529.7,394.3 531.1,393.8 532.6,394.1 534.3,395.3 535.9,397.2 537.2,399.7 538.2,402.5 538.6,405.3 538.6,407.9 538.1,410 537.1,411.3 535.7,411.9 534.2,411.5 532.5,410.3 531,408.4 529.7,405.9 528.7,403.1Z" fill="#e3b53a" stroke="#3a2e0e" stroke-width="0.7" stroke-linejoin="round"/>
<path d="M533.4,402.8L529.7,399.2M533.4,402.8L531.7,396.3M533.4,402.8L534,397.4M533.4,402.8L536.8,402.6M533.4,402.8L537.2,406.5M533.4,402.8L535.1,409.3M533.4,402.8L532.8,408.2M533.4,402.8L530,403" stroke="#3a2e0e" stroke-width="0.6" fill="none"/>
<path d="M530.8,401.6L536,404.1M533,398.5L533.8,407.2" stroke="#2b2b2b" stroke-width="2.4" fill="none"/>
<path d="M530.8,401.6L536,404.1M533,398.5L533.8,407.2" stroke="#d9d9d9" stroke-width="1.3" fill="none"/>
<path d="M736.8,173.7 549.3,131.1 549.6,134.5 736.9,177.6Z" fill="#f2f08f" stroke="#1c1b1d" stroke-width="0.5" stroke-linejoin="round"/>
<path d="M736.8,173.7 1421.9,38.2 1421.6,40.4 736.9,177.6Z" fill="#f2f08f" stroke="#1c1b1d" stroke-width="0.5" stroke-linejoin="round"/>
<path d="M736.8,173.7 1421.9,38.2 1256.6,25 549.3,131.1Z" fill="#abaa66" stroke="#1c1b1d" stroke-width="0.6" stroke-linejoin="round"/>
<path d="M735.7,128.8 547,92.5 547.3,96.2 735.8,133.1Z" fill="#8faadc" stroke="#1c1b1d" stroke-width="0.5" stroke-linejoin="round"/>
<path d="M735.7,128.8 1425.8,13.3 1425.5,15.7 735.8,133.1Z" fill="#8faadc" stroke="#1c1b1d" stroke-width="0.5" stroke-linejoin="round"/>
<path d="M735.7,128.8 1425.8,13.3 1259.8,2.2 547,92.5Z" fill="#637294" stroke="#1c1b1d" stroke-width="0.6" stroke-linejoin="round"/>
</g>
<rect x="450.7" y="132.80" width="191.05" height="1.6" fill="#000"/><rect x="450.7" y="192.15" width="191.05" height="1.6" fill="#000"/><rect x="450.7" y="251.50" width="136.30" height="1.6" fill="#000"/><rect x="450.7" y="310.85" width="136.30" height="1.6" fill="#000"/><rect x="450.7" y="370.20" width="314.30" height="1.6" fill="#000"/>
</svg>
<div class="t" style="right:585.58px;top:102.80px;transform:scaleX(0.919)">PVC</div>
<div class="t" style="right:586.50px;top:161.55px;transform:scaleX(1.019)">Insulating Layer</div>
<div class="t" style="right:587.75px;top:220.30px;transform:scaleX(0.996)">Shock Mount</div>
<div class="t" style="right:587.32px;top:279.05px;transform:scaleX(0.926)">BMS</div>
<div class="t" style="right:585.98px;top:338.55px;transform:scaleX(1.009)">Lithium Cells</div>
</div>
</body></html>
